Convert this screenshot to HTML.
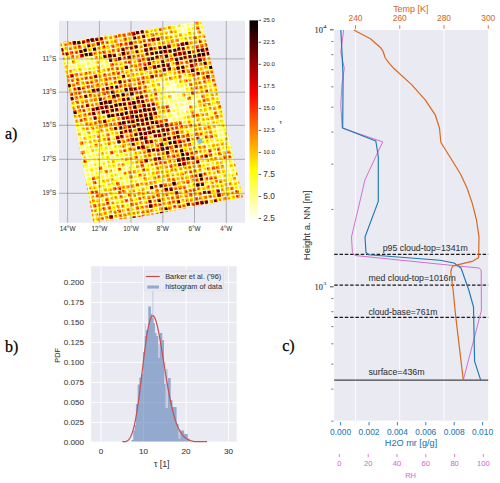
<!DOCTYPE html>
<html><head><meta charset="utf-8"><style>
html,body{margin:0;padding:0;background:#fff;}
svg{display:block;}
</style></head><body>
<svg width="500" height="483" viewBox="0 0 500 483" font-family='"Liberation Sans", sans-serif'>
<rect width="500" height="483" fill="#fff"/>
<rect x="59.0" y="20.9" width="186" height="201.9" fill="#EAEAF2"/>
<defs><clipPath id="swc"><polygon points="60.1,42.5 201.6,20.9 243.0,197.6 180,209.3 165,212.4 133,218.0 101,221.2 93.5,222.9"/></clipPath><filter id="bl" x="-5%" y="-5%" width="110%" height="110%"><feGaussianBlur stdDeviation="0.5"/></filter></defs>
<g clip-path="url(#swc)"><polygon points="60.1,42.5 201.6,20.9 243.0,197.6 180,209.3 165,212.4 133,218.0 101,221.2 93.5,222.9" fill="#fffef6"/>
<g filter="url(#bl)">
<g transform="matrix(0.45406 -0.07281 0.09400 0.44600 58.0 43.4)">
<path fill="#ffffca" d="M271 1h8v8h-8zM275 1h2v2h-2zM275 3h2v2h-2zM271 11h8v8h-8zM277 13h2v2h-2zM276 11h2v2h-2zM276 17h2v2h-2zM271 12h2v2h-2zM12 41h2v2h-2zM41 41h8v8h-8zM221 121h8v8h-8zM221 127h2v2h-2zM224 126h2v2h-2zM211 131h8v8h-8zM212 136h2v2h-2zM216 132h2v2h-2zM221 131h8v8h-8zM223 134h2v2h-2zM227 132h2v2h-2zM223 137h2v2h-2zM231 141h8v8h-8zM236 146h2v2h-2zM241 141h8v8h-8zM245 145h2v2h-2zM221 151h8v8h-8zM211 171h8v8h-8zM215 175h2v2h-2zM217 171h2v2h-2zM216 177h2v2h-2zM212 176h2v2h-2zM241 171h8v8h-8zM244 173h2v2h-2zM231 181h8v8h-8zM234 187h2v2h-2zM232 184h2v2h-2zM241 181h8v8h-8zM245 185h2v2h-2zM243 187h2v2h-2zM246 185h2v2h-2zM243 183h2v2h-2zM211 191h8v8h-8zM201 201h8v8h-8zM203 206h2v2h-2zM43 285h2v2h-2z"/>
<path fill="#ffff95" d="M301 -9h8v8h-8zM311 -9h8v8h-8zM321 -9h8v8h-8zM324 -4h2v2h-2zM272 4h4v4h-4zM273 6h2v2h-2zM274 3h2v2h-2zM281 1h8v8h-8zM284 7h2v2h-2zM291 1h8v8h-8zM294 5h2v2h-2zM261 11h8v8h-8zM264 15h2v2h-2zM275 13h4v4h-4zM311 21h8v8h-8zM11 41h8v8h-8zM31 41h8v8h-8zM42 41h4v4h-4zM42 43h2v2h-2zM45 45h2v2h-2zM44 44h2v2h-2zM42 44h2v2h-2zM51 41h8v8h-8zM56 41h2v2h-2zM53 46h2v2h-2zM11 51h8v8h-8zM11 57h2v2h-2zM12 57h2v2h-2zM21 51h8v8h-8zM24 52h2v2h-2zM41 51h8v8h-8zM43 51h2v2h-2zM51 51h8v8h-8zM61 51h8v8h-8zM62 55h2v2h-2zM81 51h8v8h-8zM41 61h8v8h-8zM81 61h8v8h-8zM91 61h8v8h-8zM93 66h2v2h-2zM201 121h8v8h-8zM207 121h2v2h-2zM225 122h4v4h-4zM226 123h2v2h-2zM231 121h8v8h-8zM211 134h4v4h-4zM211 135h2v2h-2zM211 132h2v2h-2zM222 132h4v4h-4zM231 131h8v8h-8zM201 141h8v8h-8zM211 141h8v8h-8zM221 141h8v8h-8zM231 145h4v4h-4zM231 147h2v2h-2zM242 144h4v4h-4zM244 144h2v2h-2zM246 145h2v2h-2zM225 152h4v4h-4zM226 153h2v2h-2zM227 153h2v2h-2zM227 151h2v2h-2zM231 151h8v8h-8zM237 154h2v2h-2zM201 161h8v8h-8zM201 167h2v2h-2zM211 161h8v8h-8zM221 161h8v8h-8zM224 161h2v2h-2zM231 161h8v8h-8zM237 166h2v2h-2zM232 161h2v2h-2zM241 161h8v8h-8zM242 162h2v2h-2zM243 161h2v2h-2zM261 161h8v8h-8zM266 161h2v2h-2zM271 161h8v8h-8zM215 174h4v4h-4zM221 171h8v8h-8zM231 171h8v8h-8zM245 175h4v4h-4zM245 175h2v2h-2zM246 174h2v2h-2zM247 171h2v2h-2zM251 171h8v8h-8zM261 171h8v8h-8zM262 173h2v2h-2zM211 181h8v8h-8zM221 181h8v8h-8zM221 187h2v2h-2zM226 181h2v2h-2zM232 185h4v4h-4zM245 183h4v4h-4zM-9 191h8v8h-8zM-8 197h2v2h-2zM211 194h5v5h-5zM213 194h2v2h-2zM214 197h2v2h-2zM217 195h2v2h-2zM221 191h8v8h-8zM231 191h8v8h-8zM235 197h2v2h-2zM261 191h8v8h-8zM11 201h8v8h-8zM15 204h2v2h-2zM204 204h5v5h-5zM205 206h2v2h-2zM203 205h2v2h-2zM211 201h8v8h-8zM221 201h8v8h-8zM1 231h8v8h-8zM4 232h2v2h-2zM11 231h8v8h-8zM11 241h8v8h-8zM301 241h8v8h-8zM307 242h2v2h-2zM11 251h8v8h-8zM21 251h8v8h-8zM25 257h2v2h-2zM301 251h8v8h-8zM11 261h8v8h-8zM61 261h8v8h-8zM81 261h8v8h-8zM11 271h8v8h-8zM31 271h8v8h-8zM-9 281h8v8h-8zM1 281h8v8h-8zM41 281h8v8h-8zM1 291h8v8h-8zM6 295h2v2h-2zM5 297h2v2h-2zM11 291h8v8h-8zM14 294h2v2h-2zM61 291h8v8h-8zM81 291h8v8h-8zM83 291h2v2h-2zM101 291h8v8h-8zM321 291h8v8h-8zM41 301h8v8h-8zM71 301h8v8h-8zM81 321h8v8h-8zM301 321h8v8h-8zM301 331h8v8h-8zM305 336h2v2h-2zM321 351h8v8h-8zM325 357h2v2h-2z"/>
<path fill="#ffff60" d="M201 -9h8v8h-8zM261 -9h8v8h-8zM264 -5h2v2h-2zM281 -9h8v8h-8zM306 -5h2v2h-2zM311 -4h2v2h-2zM323 -6h5v5h-5zM326 -3h2v2h-2zM251 1h8v8h-8zM261 1h8v8h-8zM283 2h5v5h-5zM285 2h2v2h-2zM292 4h5v5h-5zM294 3h2v2h-2zM311 1h8v8h-8zM321 1h8v8h-8zM161 11h8v8h-8zM181 11h8v8h-8zM263 11h5v5h-5zM265 12h2v2h-2zM281 11h8v8h-8zM291 11h8v8h-8zM311 11h8v8h-8zM271 21h8v8h-8zM291 21h8v8h-8zM312 24h5v5h-5zM315 26h2v2h-2zM261 31h8v8h-8zM-9 41h8v8h-8zM1 41h8v8h-8zM12 44h5v5h-5zM13 45h2v2h-2zM54 41h5v5h-5zM54 44h2v2h-2zM56 41h2v2h-2zM61 41h8v8h-8zM261 41h8v8h-8zM13 53h5v5h-5zM14 56h2v2h-2zM16 55h2v2h-2zM21 52h5v5h-5zM24 52h2v2h-2zM31 51h8v8h-8zM41 54h5v5h-5zM46 57h2v2h-2zM45 53h2v2h-2zM57 55h2v2h-2zM64 53h5v5h-5zM65 53h2v2h-2zM62 51h2v2h-2zM83 54h2v2h-2zM91 51h8v8h-8zM91 57h2v2h-2zM21 61h8v8h-8zM44 62h5v5h-5zM46 66h2v2h-2zM51 61h8v8h-8zM61 61h8v8h-8zM64 66h2v2h-2zM92 63h5v5h-5zM92 63h2v2h-2zM95 67h2v2h-2zM271 81h8v8h-8zM221 101h8v8h-8zM191 111h8v8h-8zM201 111h8v8h-8zM251 111h8v8h-8zM31 121h8v8h-8zM171 121h8v8h-8zM202 123h5v5h-5zM204 125h2v2h-2zM203 122h2v2h-2zM211 121h8v8h-8zM211 127h2v2h-2zM214 122h2v2h-2zM234 127h2v2h-2zM191 131h8v8h-8zM196 136h2v2h-2zM201 131h8v8h-8zM202 132h2v2h-2zM236 133h2v2h-2zM236 137h2v2h-2zM241 131h8v8h-8zM243 136h2v2h-2zM251 131h8v8h-8zM321 131h8v8h-8zM191 141h8v8h-8zM202 144h5v5h-5zM203 144h2v2h-2zM206 141h2v2h-2zM212 144h5v5h-5zM211 144h2v2h-2zM213 147h2v2h-2zM221 143h5v5h-5zM224 142h2v2h-2zM251 141h8v8h-8zM301 141h8v8h-8zM91 151h8v8h-8zM191 151h8v8h-8zM201 151h8v8h-8zM231 152h5v5h-5zM231 155h2v2h-2zM251 151h8v8h-8zM151 161h8v8h-8zM191 161h8v8h-8zM194 167h2v2h-2zM201 163h5v5h-5zM202 164h2v2h-2zM204 165h2v2h-2zM211 161h5v5h-5zM217 166h2v2h-2zM211 162h2v2h-2zM221 162h5v5h-5zM222 162h2v2h-2zM221 161h2v2h-2zM225 167h2v2h-2zM231 161h5v5h-5zM234 161h2v2h-2zM236 166h2v2h-2zM242 161h5v5h-5zM243 163h2v2h-2zM241 161h2v2h-2zM262 162h5v5h-5zM261 166h2v2h-2zM263 166h2v2h-2zM277 161h2v2h-2zM321 161h8v8h-8zM232 172h5v5h-5zM234 171h2v2h-2zM234 173h2v2h-2zM251 171h5v5h-5zM254 174h2v2h-2zM251 175h2v2h-2zM262 174h5v5h-5zM262 174h2v2h-2zM1 181h8v8h-8zM11 181h8v8h-8zM212 185h2v2h-2zM215 183h2v2h-2zM222 183h5v5h-5zM223 185h2v2h-2zM261 181h8v8h-8zM301 181h8v8h-8zM321 181h8v8h-8zM-9 193h5v5h-5zM-3 192h2v2h-2zM1 191h8v8h-8zM1 195h2v2h-2zM4 194h2v2h-2zM101 191h8v8h-8zM191 191h8v8h-8zM201 191h8v8h-8zM221 193h2v2h-2zM223 194h2v2h-2zM232 191h5v5h-5zM231 191h2v2h-2zM234 192h2v2h-2zM241 191h8v8h-8zM263 193h5v5h-5zM264 192h2v2h-2zM266 193h2v2h-2zM321 191h8v8h-8zM-9 201h8v8h-8zM14 203h5v5h-5zM31 201h8v8h-8zM211 201h5v5h-5zM213 202h2v2h-2zM222 203h5v5h-5zM223 203h2v2h-2zM231 201h8v8h-8zM291 201h8v8h-8zM293 207h2v2h-2zM1 211h8v8h-8zM51 211h8v8h-8zM231 211h8v8h-8zM251 211h8v8h-8zM253 213h2v2h-2zM321 211h8v8h-8zM11 221h8v8h-8zM271 221h8v8h-8zM274 226h2v2h-2zM301 221h8v8h-8zM1 231h5v5h-5zM12 234h5v5h-5zM13 236h2v2h-2zM13 231h2v2h-2zM14 231h2v2h-2zM51 231h8v8h-8zM241 231h8v8h-8zM246 234h2v2h-2zM301 231h8v8h-8zM31 241h8v8h-8zM41 241h8v8h-8zM61 241h8v8h-8zM71 241h8v8h-8zM291 241h8v8h-8zM304 241h5v5h-5zM311 241h8v8h-8zM313 247h2v2h-2zM-9 251h8v8h-8zM-8 251h2v2h-2zM1 251h8v8h-8zM17 253h2v2h-2zM17 256h2v2h-2zM24 252h5v5h-5zM31 251h8v8h-8zM51 251h8v8h-8zM71 251h8v8h-8zM261 251h8v8h-8zM304 253h5v5h-5zM306 257h2v2h-2zM311 251h8v8h-8zM-9 261h8v8h-8zM13 263h2v2h-2zM21 261h8v8h-8zM31 261h8v8h-8zM41 261h8v8h-8zM64 263h5v5h-5zM71 261h8v8h-8zM101 261h8v8h-8zM251 261h8v8h-8zM281 261h8v8h-8zM301 261h8v8h-8zM321 261h8v8h-8zM1 271h8v8h-8zM3 277h2v2h-2zM13 272h5v5h-5zM16 274h2v2h-2zM13 272h2v2h-2zM21 271h8v8h-8zM37 276h2v2h-2zM41 271h8v8h-8zM51 271h8v8h-8zM71 271h8v8h-8zM74 272h2v2h-2zM74 277h2v2h-2zM121 271h8v8h-8zM311 271h8v8h-8zM321 271h8v8h-8zM-9 287h2v2h-2zM2 283h5v5h-5zM2 281h2v2h-2zM21 281h8v8h-8zM23 284h2v2h-2zM43 282h5v5h-5zM43 283h2v2h-2zM46 285h2v2h-2zM91 281h8v8h-8zM95 285h2v2h-2zM301 281h8v8h-8zM2 294h5v5h-5zM3 295h2v2h-2zM5 297h2v2h-2zM12 293h5v5h-5zM21 291h8v8h-8zM22 291h2v2h-2zM31 291h8v8h-8zM91 291h8v8h-8zM102 291h2v2h-2zM131 291h8v8h-8zM281 291h8v8h-8zM321 294h5v5h-5zM327 292h2v2h-2zM1 301h8v8h-8zM6 304h2v2h-2zM2 303h2v2h-2zM31 301h8v8h-8zM32 306h2v2h-2zM41 301h5v5h-5zM44 302h2v2h-2zM44 307h2v2h-2zM61 301h8v8h-8zM73 302h2v2h-2zM77 303h2v2h-2zM72 305h2v2h-2zM141 301h8v8h-8zM321 301h8v8h-8zM1 311h8v8h-8zM21 311h8v8h-8zM61 311h8v8h-8zM64 316h2v2h-2zM62 314h2v2h-2zM63 315h2v2h-2zM81 311h8v8h-8zM101 311h8v8h-8zM131 311h8v8h-8zM261 311h8v8h-8zM271 311h8v8h-8zM301 311h8v8h-8zM307 316h2v2h-2zM311 311h8v8h-8zM31 321h8v8h-8zM71 321h8v8h-8zM82 327h2v2h-2zM91 321h8v8h-8zM101 321h8v8h-8zM111 321h8v8h-8zM251 321h8v8h-8zM302 321h5v5h-5zM302 325h2v2h-2zM303 323h2v2h-2zM-9 331h8v8h-8zM21 331h8v8h-8zM151 331h8v8h-8zM161 331h8v8h-8zM302 334h5v5h-5zM303 337h2v2h-2zM311 331h8v8h-8zM321 331h8v8h-8zM-9 341h8v8h-8zM51 341h8v8h-8zM51 342h2v2h-2zM81 341h8v8h-8zM101 341h8v8h-8zM121 341h8v8h-8zM281 341h8v8h-8zM301 341h8v8h-8zM311 341h8v8h-8zM21 351h8v8h-8zM71 351h8v8h-8zM251 351h8v8h-8zM301 351h8v8h-8zM324 355h2v2h-2zM71 371h8v8h-8zM71 377h2v2h-2zM241 371h8v8h-8zM311 371h8v8h-8zM321 381h8v8h-8zM323 383h2v2h-2zM41 401h8v8h-8zM71 401h8v8h-8zM251 401h8v8h-8zM321 401h8v8h-8z"/>
<path fill="#ffff2c" d="M11 -9h8v8h-8zM111 -9h8v8h-8zM141 -9h8v8h-8zM171 -9h8v8h-8zM211 -9h8v8h-8zM241 -9h8v8h-8zM263 -8h5v5h-5zM261 -6h2v2h-2zM263 -8h2v2h-2zM281 -6h5v5h-5zM282 -3h2v2h-2zM281 -4h2v2h-2zM303 -9h5v5h-5zM306 -4h2v2h-2zM313 -7h5v5h-5zM315 -7h3v3h-3zM314 -3h2v2h-2zM316 -8h2v2h-2zM31 1h8v8h-8zM41 1h8v8h-8zM51 1h8v8h-8zM61 1h8v8h-8zM71 1h8v8h-8zM91 1h8v8h-8zM171 1h8v8h-8zM201 1h8v8h-8zM204 7h2v2h-2zM211 1h8v8h-8zM293 5h2v2h-2zM313 7h2v2h-2zM324 6h2v2h-2zM1 11h8v8h-8zM221 11h8v8h-8zM231 11h8v8h-8zM283 12h5v5h-5zM292 11h5v5h-5zM295 12h2v2h-2zM314 13h5v5h-5zM11 21h8v8h-8zM41 21h8v8h-8zM51 21h8v8h-8zM71 21h8v8h-8zM151 21h8v8h-8zM201 21h8v8h-8zM211 21h8v8h-8zM251 21h8v8h-8zM271 22h2v2h-2zM281 21h8v8h-8zM314 25h3v3h-3zM11 31h8v8h-8zM41 31h8v8h-8zM61 31h8v8h-8zM181 31h8v8h-8zM264 37h2v2h-2zM266 34h2v2h-2zM271 31h8v8h-8zM275 31h2v2h-2zM301 31h8v8h-8zM-6 42h5v5h-5zM6 45h2v2h-2zM3 44h2v2h-2zM32 44h5v5h-5zM32 45h3v3h-3zM35 43h2v2h-2zM36 43h2v2h-2zM62 45h2v2h-2zM64 43h2v2h-2zM221 41h8v8h-8zM311 41h8v8h-8zM-9 51h8v8h-8zM1 51h8v8h-8zM32 54h5v5h-5zM32 51h2v2h-2zM41 56h3v3h-3zM53 51h5v5h-5zM54 53h3v3h-3zM55 55h2v2h-2zM82 51h5v5h-5zM82 52h3v3h-3zM82 54h2v2h-2zM94 53h5v5h-5zM94 55h2v2h-2zM121 51h8v8h-8zM141 51h8v8h-8zM201 51h8v8h-8zM241 51h8v8h-8zM251 51h8v8h-8zM261 51h8v8h-8zM-9 61h8v8h-8zM1 61h8v8h-8zM23 67h2v2h-2zM31 61h8v8h-8zM45 62h3v3h-3zM62 64h5v5h-5zM64 67h2v2h-2zM82 62h5v5h-5zM82 62h2v2h-2zM151 61h8v8h-8zM191 61h8v8h-8zM201 61h8v8h-8zM291 61h8v8h-8zM61 71h8v8h-8zM211 71h8v8h-8zM271 71h8v8h-8zM171 81h8v8h-8zM201 81h8v8h-8zM241 81h8v8h-8zM321 81h8v8h-8zM171 91h8v8h-8zM301 91h8v8h-8zM21 101h8v8h-8zM71 101h8v8h-8zM111 101h8v8h-8zM251 101h8v8h-8zM311 101h8v8h-8zM61 111h8v8h-8zM91 111h8v8h-8zM101 111h8v8h-8zM181 111h8v8h-8zM184 113h2v2h-2zM197 116h2v2h-2zM196 113h2v2h-2zM205 117h2v2h-2zM211 111h8v8h-8zM257 111h2v2h-2zM321 111h8v8h-8zM121 121h8v8h-8zM175 127h2v2h-2zM181 121h8v8h-8zM211 123h5v5h-5zM231 121h5v5h-5zM232 127h2v2h-2zM261 121h8v8h-8zM271 121h8v8h-8zM281 121h8v8h-8zM61 131h8v8h-8zM131 131h8v8h-8zM171 131h8v8h-8zM171 131h2v2h-2zM181 131h8v8h-8zM192 134h5v5h-5zM201 131h5v5h-5zM202 131h2v2h-2zM207 136h2v2h-2zM234 131h5v5h-5zM241 131h5v5h-5zM253 131h5v5h-5zM253 137h2v2h-2zM252 132h2v2h-2zM61 141h8v8h-8zM71 141h8v8h-8zM171 141h8v8h-8zM213 145h3v3h-3zM221 143h3v3h-3zM256 143h2v2h-2zM257 147h2v2h-2zM252 146h2v2h-2zM51 151h8v8h-8zM81 151h8v8h-8zM121 151h8v8h-8zM131 151h8v8h-8zM141 151h8v8h-8zM201 151h5v5h-5zM203 157h2v2h-2zM254 152h5v5h-5zM271 151h8v8h-8zM301 151h8v8h-8zM41 161h8v8h-8zM71 161h8v8h-8zM111 161h8v8h-8zM131 161h8v8h-8zM161 161h8v8h-8zM171 161h8v8h-8zM193 162h5v5h-5zM191 161h2v2h-2zM195 162h2v2h-2zM212 163h2v2h-2zM262 162h3v3h-3zM271 161h5v5h-5zM291 161h8v8h-8zM293 164h2v2h-2zM324 164h5v5h-5zM322 163h2v2h-2zM41 171h8v8h-8zM101 171h8v8h-8zM141 171h8v8h-8zM222 172h5v5h-5zM223 174h3v3h-3zM226 175h2v2h-2zM222 172h2v2h-2zM223 174h2v2h-2zM232 173h3v3h-3zM237 176h2v2h-2zM311 171h8v8h-8zM131 181h8v8h-8zM181 181h8v8h-8zM214 184h5v5h-5zM214 186h2v2h-2zM271 181h8v8h-8zM-7 193h2v2h-2zM1 192h5v5h-5zM4 191h2v2h-2zM11 191h8v8h-8zM41 191h8v8h-8zM141 191h8v8h-8zM151 191h8v8h-8zM191 196h2v2h-2zM204 193h5v5h-5zM204 191h2v2h-2zM222 191h5v5h-5zM224 191h3v3h-3zM224 196h2v2h-2zM232 193h2v2h-2zM243 191h5v5h-5zM241 194h2v2h-2zM263 196h2v2h-2zM271 191h8v8h-8zM281 191h8v8h-8zM14 205h3v3h-3zM21 201h8v8h-8zM33 201h5v5h-5zM33 206h2v2h-2zM37 201h2v2h-2zM41 201h8v8h-8zM111 201h8v8h-8zM151 201h8v8h-8zM161 201h8v8h-8zM211 202h3v3h-3zM212 203h2v2h-2zM211 205h2v2h-2zM223 203h3v3h-3zM221 207h2v2h-2zM294 201h5v5h-5zM311 201h8v8h-8zM-9 211h8v8h-8zM4 211h5v5h-5zM4 211h2v2h-2zM11 211h8v8h-8zM21 211h8v8h-8zM23 212h2v2h-2zM31 211h8v8h-8zM71 211h8v8h-8zM101 211h8v8h-8zM131 211h8v8h-8zM141 211h8v8h-8zM171 211h8v8h-8zM251 214h5v5h-5zM256 212h2v2h-2zM261 211h8v8h-8zM271 211h8v8h-8zM281 211h8v8h-8zM311 211h8v8h-8zM326 211h2v2h-2zM21 221h8v8h-8zM21 225h2v2h-2zM31 221h8v8h-8zM71 221h8v8h-8zM151 221h8v8h-8zM273 223h5v5h-5zM281 221h8v8h-8zM285 222h2v2h-2zM311 221h8v8h-8zM321 221h8v8h-8zM1 233h2v2h-2zM13 235h3v3h-3zM21 231h8v8h-8zM26 232h2v2h-2zM41 231h8v8h-8zM71 231h8v8h-8zM81 231h8v8h-8zM111 231h8v8h-8zM121 231h8v8h-8zM161 231h8v8h-8zM171 231h8v8h-8zM211 231h8v8h-8zM231 231h8v8h-8zM242 231h5v5h-5zM247 237h2v2h-2zM251 231h8v8h-8zM291 231h8v8h-8zM304 231h5v5h-5zM304 232h2v2h-2zM305 236h2v2h-2zM305 233h2v2h-2zM311 231h8v8h-8zM11 243h5v5h-5zM12 243h3v3h-3zM15 246h2v2h-2zM21 241h8v8h-8zM44 241h5v5h-5zM41 247h2v2h-2zM42 241h2v2h-2zM51 241h8v8h-8zM62 243h5v5h-5zM61 243h2v2h-2zM75 245h2v2h-2zM73 243h2v2h-2zM81 241h8v8h-8zM101 241h8v8h-8zM111 241h8v8h-8zM141 241h8v8h-8zM201 241h8v8h-8zM241 241h8v8h-8zM292 242h5v5h-5zM291 243h2v2h-2zM305 243h3v3h-3zM306 243h2v2h-2zM307 244h2v2h-2zM314 243h5v5h-5zM321 241h8v8h-8zM-6 253h5v5h-5zM-8 257h2v2h-2zM14 253h5v5h-5zM16 253h3v3h-3zM24 254h3v3h-3zM24 253h2v2h-2zM32 253h5v5h-5zM33 255h2v2h-2zM41 251h8v8h-8zM71 254h2v2h-2zM171 251h8v8h-8zM211 251h8v8h-8zM264 254h5v5h-5zM263 255h2v2h-2zM306 255h3v3h-3zM313 257h2v2h-2zM-6 265h2v2h-2zM-3 266h2v2h-2zM12 263h5v5h-5zM16 263h2v2h-2zM23 261h5v5h-5zM26 266h2v2h-2zM42 261h5v5h-5zM47 262h2v2h-2zM51 261h8v8h-8zM65 264h3v3h-3zM63 266h2v2h-2zM63 264h2v2h-2zM77 263h2v2h-2zM82 262h5v5h-5zM82 267h2v2h-2zM91 261h8v8h-8zM105 264h2v2h-2zM111 261h8v8h-8zM151 261h8v8h-8zM241 261h8v8h-8zM255 264h2v2h-2zM261 261h8v8h-8zM271 261h8v8h-8zM283 264h5v5h-5zM282 263h2v2h-2zM291 261h8v8h-8zM311 261h8v8h-8zM322 261h5v5h-5zM326 262h2v2h-2zM1 273h5v5h-5zM31 273h5v5h-5zM31 275h3v3h-3zM56 272h2v2h-2zM71 271h5v5h-5zM71 276h2v2h-2zM81 271h8v8h-8zM241 271h8v8h-8zM271 271h8v8h-8zM291 271h8v8h-8zM322 273h5v5h-5zM-9 284h5v5h-5zM-9 281h2v2h-2zM-5 282h2v2h-2zM3 284h3v3h-3zM4 287h2v2h-2zM11 281h8v8h-8zM22 282h5v5h-5zM51 281h8v8h-8zM61 281h8v8h-8zM71 281h8v8h-8zM71 282h2v2h-2zM94 281h5v5h-5zM101 281h8v8h-8zM161 281h8v8h-8zM211 281h8v8h-8zM261 281h8v8h-8zM281 281h8v8h-8zM311 281h8v8h-8zM321 281h8v8h-8zM-9 291h8v8h-8zM13 295h3v3h-3zM14 297h2v2h-2zM11 294h2v2h-2zM21 293h5v5h-5zM51 291h8v8h-8zM62 291h5v5h-5zM62 293h3v3h-3zM62 296h2v2h-2zM62 291h2v2h-2zM82 293h5v5h-5zM82 293h3v3h-3zM94 292h5v5h-5zM92 291h2v2h-2zM104 293h5v5h-5zM104 295h3v3h-3zM103 295h2v2h-2zM111 291h8v8h-8zM321 296h3v3h-3zM325 292h2v2h-2zM-9 301h8v8h-8zM4 302h5v5h-5zM4 304h2v2h-2zM21 301h8v8h-8zM31 304h5v5h-5zM35 304h2v2h-2zM33 301h2v2h-2zM51 301h8v8h-8zM63 303h2v2h-2zM71 301h5v5h-5zM73 302h3v3h-3zM111 301h8v8h-8zM147 304h2v2h-2zM143 301h2v2h-2zM251 301h8v8h-8zM291 301h8v8h-8zM326 304h2v2h-2zM1 314h5v5h-5zM4 317h2v2h-2zM3 316h2v2h-2zM23 311h5v5h-5zM24 316h2v2h-2zM41 311h8v8h-8zM61 314h5v5h-5zM71 311h8v8h-8zM84 313h5v5h-5zM86 316h2v2h-2zM82 317h2v2h-2zM107 313h2v2h-2zM251 311h8v8h-8zM272 316h2v2h-2zM281 311h8v8h-8zM291 311h8v8h-8zM301 312h5v5h-5zM312 312h2v2h-2zM321 311h8v8h-8zM324 317h2v2h-2zM11 321h8v8h-8zM21 321h8v8h-8zM33 324h2v2h-2zM41 321h8v8h-8zM51 321h8v8h-8zM51 321h2v2h-2zM72 324h5v5h-5zM75 324h2v2h-2zM72 323h2v2h-2zM82 321h5v5h-5zM82 321h3v3h-3zM111 321h5v5h-5zM115 326h2v2h-2zM112 324h2v2h-2zM131 321h8v8h-8zM133 322h2v2h-2zM161 321h8v8h-8zM191 321h8v8h-8zM305 324h2v2h-2zM311 321h8v8h-8zM24 332h5v5h-5zM41 331h8v8h-8zM111 331h8v8h-8zM167 337h2v2h-2zM167 331h2v2h-2zM261 331h8v8h-8zM271 331h8v8h-8zM291 331h8v8h-8zM297 337h2v2h-2zM314 334h5v5h-5zM322 333h5v5h-5zM324 332h2v2h-2zM-9 343h2v2h-2zM1 341h8v8h-8zM41 341h8v8h-8zM53 343h5v5h-5zM111 341h8v8h-8zM131 341h8v8h-8zM151 341h8v8h-8zM282 343h5v5h-5zM282 344h2v2h-2zM291 341h8v8h-8zM303 343h5v5h-5zM302 341h2v2h-2zM305 344h2v2h-2zM311 347h2v2h-2zM41 351h8v8h-8zM77 352h2v2h-2zM131 351h8v8h-8zM211 351h8v8h-8zM212 355h2v2h-2zM231 351h8v8h-8zM241 351h8v8h-8zM291 351h8v8h-8zM304 354h5v5h-5zM306 353h2v2h-2zM324 353h5v5h-5zM326 354h3v3h-3zM322 357h2v2h-2zM51 361h8v8h-8zM61 361h8v8h-8zM91 361h8v8h-8zM191 361h8v8h-8zM281 361h8v8h-8zM291 361h8v8h-8zM311 361h8v8h-8zM321 361h8v8h-8zM11 371h8v8h-8zM41 371h8v8h-8zM73 377h2v2h-2zM271 371h8v8h-8zM1 381h8v8h-8zM61 381h8v8h-8zM81 381h8v8h-8zM326 387h2v2h-2zM131 391h8v8h-8zM136 396h2v2h-2zM137 395h2v2h-2zM201 391h8v8h-8zM231 391h8v8h-8zM41 401h2v2h-2zM72 401h2v2h-2zM151 401h8v8h-8zM211 401h8v8h-8zM221 401h8v8h-8zM322 403h2v2h-2z"/>
<path fill="#fff900" d="M-9 -9h8v8h-8zM1 -9h8v8h-8zM21 -9h8v8h-8zM41 -9h8v8h-8zM41 -9h2v2h-2zM131 -9h8v8h-8zM151 -9h8v8h-8zM221 -9h8v8h-8zM241 -9h2v2h-2zM264 -7h3v3h-3zM282 -4h3v3h-3zM282 -5h2v2h-2zM303 -8h3v3h-3zM-9 1h8v8h-8zM1 1h8v8h-8zM81 1h8v8h-8zM111 1h8v8h-8zM191 1h8v8h-8zM201 2h6v6h-6zM217 3h2v2h-2zM231 1h8v8h-8zM234 6h2v2h-2zM251 4h5v5h-5zM251 2h2v2h-2zM264 1h5v5h-5zM267 3h2v2h-2zM265 4h2v2h-2zM311 2h5v5h-5zM314 5h2v2h-2zM324 1h5v5h-5zM-9 11h8v8h-8zM11 11h8v8h-8zM51 11h8v8h-8zM111 11h8v8h-8zM131 11h8v8h-8zM151 11h8v8h-8zM191 11h8v8h-8zM211 11h8v8h-8zM222 14h2v2h-2zM235 16h2v2h-2zM241 11h8v8h-8zM251 11h8v8h-8zM284 12h3v3h-3zM284 17h2v2h-2zM287 11h2v2h-2zM281 17h2v2h-2zM296 15h2v2h-2zM297 11h2v2h-2zM315 15h3v3h-3zM311 11h2v2h-2zM315 13h2v2h-2zM-9 21h8v8h-8zM61 21h8v8h-8zM81 21h8v8h-8zM101 21h8v8h-8zM221 21h8v8h-8zM241 21h8v8h-8zM253 26h2v2h-2zM261 21h8v8h-8zM274 24h5v5h-5zM274 27h2v2h-2zM273 23h2v2h-2zM292 23h5v5h-5zM291 27h2v2h-2zM296 24h2v2h-2zM296 24h2v2h-2zM1 31h8v8h-8zM31 31h8v8h-8zM37 33h2v2h-2zM51 31h8v8h-8zM81 31h8v8h-8zM101 31h8v8h-8zM151 31h8v8h-8zM161 31h8v8h-8zM171 31h8v8h-8zM201 31h8v8h-8zM211 31h8v8h-8zM216 36h2v2h-2zM221 31h8v8h-8zM231 31h8v8h-8zM264 31h5v5h-5zM261 32h2v2h-2zM281 31h8v8h-8zM-9 45h2v2h-2zM1 43h5v5h-5zM5 44h2v2h-2zM62 42h5v5h-5zM64 44h2v2h-2zM71 41h8v8h-8zM81 41h8v8h-8zM91 41h8v8h-8zM101 41h8v8h-8zM111 41h8v8h-8zM121 41h8v8h-8zM151 41h8v8h-8zM161 41h8v8h-8zM171 41h8v8h-8zM211 41h8v8h-8zM241 41h8v8h-8zM291 41h8v8h-8zM313 42h2v2h-2zM33 55h3v3h-3zM71 51h8v8h-8zM94 54h3v3h-3zM94 57h2v2h-2zM181 51h8v8h-8zM191 51h8v8h-8zM211 51h8v8h-8zM281 51h8v8h-8zM11 61h8v8h-8zM21 61h5v5h-5zM24 63h2v2h-2zM31 66h2v2h-2zM53 63h5v5h-5zM57 63h2v2h-2zM52 66h2v2h-2zM71 61h8v8h-8zM82 63h3v3h-3zM111 61h8v8h-8zM121 61h8v8h-8zM155 62h2v2h-2zM231 61h8v8h-8zM241 61h8v8h-8zM251 61h8v8h-8zM-9 71h8v8h-8zM1 71h8v8h-8zM41 71h8v8h-8zM61 71h2v2h-2zM66 75h2v2h-2zM61 72h2v2h-2zM71 71h8v8h-8zM81 71h8v8h-8zM91 71h8v8h-8zM101 71h8v8h-8zM121 71h8v8h-8zM125 74h2v2h-2zM141 71h8v8h-8zM201 71h8v8h-8zM241 71h8v8h-8zM251 71h8v8h-8zM281 71h8v8h-8zM291 71h8v8h-8zM301 71h8v8h-8zM321 71h8v8h-8zM327 77h2v2h-2zM-9 81h8v8h-8zM1 81h8v8h-8zM11 81h8v8h-8zM31 81h8v8h-8zM71 81h8v8h-8zM91 81h8v8h-8zM121 81h8v8h-8zM131 81h8v8h-8zM141 81h8v8h-8zM151 81h8v8h-8zM211 81h8v8h-8zM231 81h8v8h-8zM281 81h8v8h-8zM311 81h8v8h-8zM1 91h8v8h-8zM31 91h8v8h-8zM71 91h8v8h-8zM111 91h8v8h-8zM121 91h8v8h-8zM131 91h8v8h-8zM141 91h8v8h-8zM151 91h8v8h-8zM161 91h8v8h-8zM174 91h5v5h-5zM177 92h2v2h-2zM176 94h2v2h-2zM181 91h8v8h-8zM182 96h2v2h-2zM201 91h8v8h-8zM211 91h8v8h-8zM231 91h8v8h-8zM235 95h2v2h-2zM251 91h8v8h-8zM261 91h8v8h-8zM264 97h2v2h-2zM271 91h8v8h-8zM291 91h8v8h-8zM1 101h8v8h-8zM91 101h8v8h-8zM101 101h8v8h-8zM171 101h8v8h-8zM211 101h8v8h-8zM224 101h5v5h-5zM224 106h2v2h-2zM221 104h2v2h-2zM231 101h8v8h-8zM291 101h8v8h-8zM301 101h8v8h-8zM-9 111h8v8h-8zM31 111h8v8h-8zM41 111h8v8h-8zM141 111h8v8h-8zM171 111h8v8h-8zM182 113h6v6h-6zM191 112h5v5h-5zM204 114h5v5h-5zM231 111h8v8h-8zM254 111h5v5h-5zM256 116h2v2h-2zM261 111h8v8h-8zM281 111h8v8h-8zM322 111h5v5h-5zM325 115h2v2h-2zM321 116h2v2h-2zM-9 121h8v8h-8zM51 121h8v8h-8zM91 121h8v8h-8zM101 121h8v8h-8zM111 121h8v8h-8zM131 121h8v8h-8zM171 124h5v5h-5zM191 121h8v8h-8zM212 125h3v3h-3zM217 126h2v2h-2zM233 121h3v3h-3zM236 122h2v2h-2zM241 121h8v8h-8zM301 121h8v8h-8zM321 121h8v8h-8zM1 131h8v8h-8zM21 131h8v8h-8zM91 131h8v8h-8zM101 131h8v8h-8zM111 131h8v8h-8zM171 131h6v6h-6zM192 135h3v3h-3zM235 131h3v3h-3zM237 137h2v2h-2zM243 131h3v3h-3zM245 135h2v2h-2zM271 131h8v8h-8zM281 131h8v8h-8zM301 131h8v8h-8zM323 132h5v5h-5zM321 131h2v2h-2zM-9 141h8v8h-8zM1 141h8v8h-8zM41 141h8v8h-8zM51 141h8v8h-8zM111 141h8v8h-8zM131 141h8v8h-8zM194 143h5v5h-5zM194 146h2v2h-2zM252 141h5v5h-5zM261 141h8v8h-8zM291 141h8v8h-8zM302 143h5v5h-5zM305 141h2v2h-2zM31 151h8v8h-8zM35 157h2v2h-2zM71 151h8v8h-8zM111 151h8v8h-8zM151 151h8v8h-8zM192 153h5v5h-5zM197 155h2v2h-2zM201 152h3v3h-3zM211 151h8v8h-8zM241 151h8v8h-8zM252 156h2v2h-2zM252 154h2v2h-2zM281 151h8v8h-8zM311 151h8v8h-8zM1 161h8v8h-8zM61 161h8v8h-8zM181 161h8v8h-8zM195 163h3v3h-3zM271 162h3v3h-3zM292 162h5v5h-5zM301 161h8v8h-8zM311 161h8v8h-8zM324 166h3v3h-3zM323 165h2v2h-2zM-9 171h8v8h-8zM1 171h8v8h-8zM31 171h8v8h-8zM51 171h8v8h-8zM61 171h8v8h-8zM111 171h8v8h-8zM121 171h8v8h-8zM151 171h8v8h-8zM271 171h8v8h-8zM291 171h8v8h-8zM301 171h8v8h-8zM313 172h6v6h-6zM311 174h2v2h-2zM321 171h8v8h-8zM2 182h5v5h-5zM1 181h2v2h-2zM4 187h2v2h-2zM11 181h5v5h-5zM15 183h2v2h-2zM16 186h2v2h-2zM31 181h8v8h-8zM71 181h8v8h-8zM74 187h2v2h-2zM81 181h8v8h-8zM111 181h8v8h-8zM141 181h8v8h-8zM182 184h2v2h-2zM191 181h8v8h-8zM216 185h3v3h-3zM262 182h5v5h-5zM263 183h2v2h-2zM272 184h2v2h-2zM275 181h2v2h-2zM291 181h8v8h-8zM301 182h5v5h-5zM311 181h8v8h-8zM322 183h5v5h-5zM326 184h2v2h-2zM1 193h3v3h-3zM21 191h8v8h-8zM31 191h8v8h-8zM41 197h2v2h-2zM45 195h2v2h-2zM91 191h8v8h-8zM111 191h8v8h-8zM121 191h8v8h-8zM131 191h8v8h-8zM161 191h8v8h-8zM171 191h8v8h-8zM181 191h8v8h-8zM192 194h5v5h-5zM193 195h2v2h-2zM206 195h3v3h-3zM204 191h2v2h-2zM244 194h2v2h-2zM272 196h2v2h-2zM284 193h2v2h-2zM291 191h8v8h-8zM301 191h8v8h-8zM322 191h5v5h-5zM-8 203h5v5h-5zM-9 204h2v2h-2zM1 201h8v8h-8zM25 206h2v2h-2zM34 201h3v3h-3zM32 207h2v2h-2zM46 201h2v2h-2zM51 201h8v8h-8zM61 201h8v8h-8zM71 201h8v8h-8zM81 201h8v8h-8zM121 201h8v8h-8zM141 201h8v8h-8zM171 201h8v8h-8zM234 203h5v5h-5zM234 203h2v2h-2zM235 205h2v2h-2zM234 202h2v2h-2zM241 201h8v8h-8zM245 205h2v2h-2zM271 201h8v8h-8zM281 201h8v8h-8zM281 201h2v2h-2zM296 203h3v3h-3zM314 202h2v2h-2zM321 201h8v8h-8zM-7 211h6v6h-6zM4 213h3v3h-3zM24 212h5v5h-5zM32 211h6v6h-6zM52 212h5v5h-5zM73 211h6v6h-6zM77 217h2v2h-2zM81 211h8v8h-8zM91 211h8v8h-8zM111 211h8v8h-8zM191 211h8v8h-8zM231 213h5v5h-5zM231 217h2v2h-2zM235 212h2v2h-2zM241 211h8v8h-8zM252 216h3v3h-3zM284 211h2v2h-2zM291 211h8v8h-8zM313 215h2v2h-2zM316 211h2v2h-2zM321 212h5v5h-5zM12 221h5v5h-5zM14 227h2v2h-2zM41 221h8v8h-8zM51 221h8v8h-8zM74 224h5v5h-5zM75 226h2v2h-2zM81 221h8v8h-8zM121 221h8v8h-8zM141 221h8v8h-8zM161 221h8v8h-8zM181 221h8v8h-8zM251 221h8v8h-8zM261 221h8v8h-8zM274 223h3v3h-3zM282 223h5v5h-5zM291 221h8v8h-8zM301 224h5v5h-5zM311 223h6v6h-6zM323 223h2v2h-2zM21 234h5v5h-5zM41 232h2v2h-2zM42 231h2v2h-2zM54 232h5v5h-5zM61 231h8v8h-8zM141 231h8v8h-8zM151 231h8v8h-8zM181 231h8v8h-8zM233 233h6v6h-6zM233 235h2v2h-2zM243 231h3v3h-3zM254 231h2v2h-2zM271 231h8v8h-8zM281 231h8v8h-8zM314 231h2v2h-2zM311 235h2v2h-2zM27 244h2v2h-2zM31 242h5v5h-5zM33 242h2v2h-2zM36 241h2v2h-2zM53 241h5v5h-5zM63 245h3v3h-3zM66 247h2v2h-2zM74 241h5v5h-5zM83 243h5v5h-5zM86 243h2v2h-2zM107 244h2v2h-2zM101 241h2v2h-2zM121 241h8v8h-8zM161 241h8v8h-8zM171 241h8v8h-8zM191 241h8v8h-8zM211 241h8v8h-8zM241 242h6v6h-6zM245 245h2v2h-2zM271 241h8v8h-8zM296 246h2v2h-2zM315 243h3v3h-3zM-6 254h3v3h-3zM4 254h5v5h-5zM2 255h2v2h-2zM32 255h2v2h-2zM31 255h2v2h-2zM52 252h5v5h-5zM51 251h2v2h-2zM71 251h5v5h-5zM76 251h2v2h-2zM81 251h8v8h-8zM121 251h8v8h-8zM131 251h8v8h-8zM151 251h8v8h-8zM181 251h8v8h-8zM183 257h2v2h-2zM191 251h8v8h-8zM231 251h8v8h-8zM241 251h8v8h-8zM261 257h2v2h-2zM266 253h2v2h-2zM291 251h8v8h-8zM314 251h5v5h-5zM315 256h2v2h-2zM-6 264h5v5h-5zM12 263h3v3h-3zM24 261h3v3h-3zM33 263h5v5h-5zM45 262h2v2h-2zM52 261h6v6h-6zM73 261h5v5h-5zM75 266h2v2h-2zM84 262h3v3h-3zM84 264h2v2h-2zM93 262h6v6h-6zM101 264h5v5h-5zM102 262h2v2h-2zM121 261h8v8h-8zM127 263h2v2h-2zM141 261h8v8h-8zM161 261h8v8h-8zM201 261h8v8h-8zM241 261h6v6h-6zM242 261h2v2h-2zM254 264h5v5h-5zM263 261h5v5h-5zM265 264h2v2h-2zM263 263h2v2h-2zM272 263h2v2h-2zM284 264h3v3h-3zM287 261h2v2h-2zM281 262h2v2h-2zM294 263h5v5h-5zM302 264h5v5h-5zM303 265h2v2h-2zM322 261h3v3h-3zM-9 271h8v8h-8zM1 273h3v3h-3zM22 273h5v5h-5zM24 277h2v2h-2zM23 274h2v2h-2zM41 274h5v5h-5zM44 275h2v2h-2zM52 272h5v5h-5zM54 276h2v2h-2zM61 271h8v8h-8zM71 271h3v3h-3zM83 271h5v5h-5zM81 274h2v2h-2zM91 271h8v8h-8zM101 271h8v8h-8zM124 274h5v5h-5zM131 271h8v8h-8zM151 271h8v8h-8zM211 271h8v8h-8zM221 271h8v8h-8zM231 271h8v8h-8zM251 271h8v8h-8zM261 271h8v8h-8zM273 273h5v5h-5zM276 276h2v2h-2zM281 271h8v8h-8zM296 272h2v2h-2zM301 271h8v8h-8zM311 274h5v5h-5zM314 277h2v2h-2zM325 273h2v2h-2zM-7 286h3v3h-3zM13 283h6v6h-6zM16 285h2v2h-2zM24 284h3v3h-3zM52 281h6v6h-6zM61 281h5v5h-5zM62 284h2v2h-2zM74 285h2v2h-2zM81 281h8v8h-8zM94 281h3v3h-3zM102 282h6v6h-6zM107 282h2v2h-2zM111 281h8v8h-8zM131 281h8v8h-8zM141 281h8v8h-8zM171 281h8v8h-8zM221 281h8v8h-8zM251 281h8v8h-8zM285 284h2v2h-2zM302 281h5v5h-5zM311 282h6v6h-6zM321 283h5v5h-5zM-5 294h2v2h-2zM-8 296h2v2h-2zM23 293h3v3h-3zM24 292h2v2h-2zM31 291h5v5h-5zM36 291h2v2h-2zM51 296h2v2h-2zM134 294h5v5h-5zM134 291h2v2h-2zM141 291h8v8h-8zM181 291h8v8h-8zM191 291h8v8h-8zM211 291h8v8h-8zM221 291h8v8h-8zM241 291h8v8h-8zM283 292h5v5h-5zM286 292h2v2h-2zM301 291h8v8h-8zM-4 305h2v2h-2zM6 303h3v3h-3zM26 307h2v2h-2zM33 304h3v3h-3zM53 302h6v6h-6zM51 305h2v2h-2zM62 303h5v5h-5zM81 301h8v8h-8zM101 301h8v8h-8zM112 303h5v5h-5zM116 301h2v2h-2zM131 301h8v8h-8zM144 304h5v5h-5zM144 305h2v2h-2zM151 301h8v8h-8zM161 301h8v8h-8zM211 301h8v8h-8zM253 301h6v6h-6zM253 302h2v2h-2zM261 301h8v8h-8zM271 301h8v8h-8zM281 301h8v8h-8zM297 303h2v2h-2zM321 301h5v5h-5zM325 301h2v2h-2zM322 307h2v2h-2zM-9 311h8v8h-8zM2 314h3v3h-3zM25 312h3v3h-3zM31 311h8v8h-8zM51 311h8v8h-8zM61 315h3v3h-3zM71 311h5v5h-5zM84 315h3v3h-3zM102 313h5v5h-5zM106 317h2v2h-2zM107 316h2v2h-2zM121 311h8v8h-8zM133 312h5v5h-5zM136 313h2v2h-2zM141 311h8v8h-8zM161 311h8v8h-8zM171 311h8v8h-8zM181 311h8v8h-8zM191 311h8v8h-8zM201 311h8v8h-8zM211 311h8v8h-8zM221 311h8v8h-8zM231 311h8v8h-8zM252 314h5v5h-5zM252 316h2v2h-2zM262 313h5v5h-5zM274 312h5v5h-5zM277 315h2v2h-2zM303 313h3v3h-3zM311 314h5v5h-5zM311 316h2v2h-2zM322 313h5v5h-5zM326 316h2v2h-2zM322 312h2v2h-2zM-9 321h8v8h-8zM1 321h8v8h-8zM14 326h2v2h-2zM31 322h5v5h-5zM43 321h5v5h-5zM51 321h6v6h-6zM53 321h2v2h-2zM72 326h3v3h-3zM76 325h2v2h-2zM93 322h5v5h-5zM93 323h2v2h-2zM101 324h5v5h-5zM105 322h2v2h-2zM112 321h3v3h-3zM131 321h6v6h-6zM132 323h2v2h-2zM141 321h8v8h-8zM181 321h8v8h-8zM195 324h2v2h-2zM201 321h8v8h-8zM211 321h8v8h-8zM241 321h8v8h-8zM254 321h5v5h-5zM256 322h2v2h-2zM252 327h2v2h-2zM255 324h2v2h-2zM-6 331h5v5h-5zM-8 337h2v2h-2zM-3 335h2v2h-2zM25 332h3v3h-3zM26 332h2v2h-2zM31 331h8v8h-8zM141 331h8v8h-8zM153 331h5v5h-5zM151 331h2v2h-2zM161 331h5v5h-5zM191 331h8v8h-8zM197 331h2v2h-2zM201 331h8v8h-8zM211 331h8v8h-8zM241 331h8v8h-8zM262 334h2v2h-2zM275 331h2v2h-2zM324 333h3v3h-3zM323 337h2v2h-2zM325 331h2v2h-2zM-6 343h5v5h-5zM-8 342h2v2h-2zM6 341h2v2h-2zM31 341h8v8h-8zM55 343h3v3h-3zM83 343h5v5h-5zM81 341h2v2h-2zM91 341h8v8h-8zM104 344h5v5h-5zM103 341h2v2h-2zM122 341h5v5h-5zM123 347h2v2h-2zM181 341h8v8h-8zM191 341h8v8h-8zM201 341h8v8h-8zM221 341h8v8h-8zM241 341h8v8h-8zM282 343h3v3h-3zM305 344h3v3h-3zM311 344h5v5h-5zM314 342h2v2h-2zM315 344h2v2h-2zM-9 351h8v8h-8zM-3 352h2v2h-2zM1 351h8v8h-8zM11 351h8v8h-8zM17 351h2v2h-2zM21 353h5v5h-5zM27 351h2v2h-2zM51 351h8v8h-8zM71 353h5v5h-5zM91 351h8v8h-8zM94 355h2v2h-2zM101 351h8v8h-8zM111 351h8v8h-8zM121 351h8v8h-8zM132 353h5v5h-5zM136 355h2v2h-2zM151 351h8v8h-8zM161 351h8v8h-8zM211 353h6v6h-6zM221 351h8v8h-8zM222 355h2v2h-2zM251 351h5v5h-5zM251 352h2v2h-2zM261 351h8v8h-8zM271 351h8v8h-8zM304 356h3v3h-3zM303 355h2v2h-2zM311 351h8v8h-8zM11 361h8v8h-8zM17 367h2v2h-2zM21 361h8v8h-8zM41 361h8v8h-8zM51 364h5v5h-5zM81 361h8v8h-8zM94 364h5v5h-5zM92 366h2v2h-2zM101 361h8v8h-8zM111 361h8v8h-8zM151 361h8v8h-8zM171 361h8v8h-8zM196 364h2v2h-2zM231 361h8v8h-8zM241 361h8v8h-8zM261 361h8v8h-8zM271 361h8v8h-8zM283 365h2v2h-2zM295 364h2v2h-2zM301 361h8v8h-8zM312 361h2v2h-2zM312 362h2v2h-2zM-9 371h8v8h-8zM1 371h8v8h-8zM12 371h2v2h-2zM42 373h6v6h-6zM47 377h2v2h-2zM51 371h8v8h-8zM61 371h8v8h-8zM73 373h5v5h-5zM71 371h2v2h-2zM91 371h8v8h-8zM101 371h8v8h-8zM111 371h8v8h-8zM131 371h8v8h-8zM141 371h8v8h-8zM161 371h8v8h-8zM191 371h8v8h-8zM251 371h8v8h-8zM261 371h8v8h-8zM281 371h8v8h-8zM291 371h8v8h-8zM313 372h5v5h-5zM315 372h2v2h-2zM321 371h8v8h-8zM-9 381h8v8h-8zM11 381h8v8h-8zM21 381h8v8h-8zM31 381h8v8h-8zM41 381h8v8h-8zM62 383h2v2h-2zM83 383h5v5h-5zM82 384h2v2h-2zM81 383h2v2h-2zM121 381h8v8h-8zM151 381h8v8h-8zM181 381h8v8h-8zM191 381h8v8h-8zM211 381h8v8h-8zM261 381h8v8h-8zM271 381h8v8h-8zM291 381h8v8h-8zM301 381h8v8h-8zM322 381h5v5h-5zM321 387h2v2h-2zM-9 391h8v8h-8zM1 391h8v8h-8zM21 391h8v8h-8zM41 391h8v8h-8zM71 391h8v8h-8zM81 391h8v8h-8zM91 391h8v8h-8zM101 391h8v8h-8zM132 393h5v5h-5zM151 391h8v8h-8zM221 391h8v8h-8zM251 391h8v8h-8zM271 391h8v8h-8zM291 391h8v8h-8zM301 391h8v8h-8zM321 391h8v8h-8zM11 401h8v8h-8zM31 401h8v8h-8zM44 401h5v5h-5zM46 401h2v2h-2zM73 401h5v5h-5zM76 406h2v2h-2zM161 401h8v8h-8zM171 401h8v8h-8zM201 401h8v8h-8zM261 401h8v8h-8zM323 404h5v5h-5zM322 404h2v2h-2zM324 405h2v2h-2z"/>
<path fill="#ffd600" d="M-8 -9h6v6h-6zM-9 -3h2v2h-2zM1 -8h7v7h-7zM5 -8h2v2h-2zM6 -9h2v2h-2zM31 -9h8v8h-8zM42 -9h6v6h-6zM43 -8h2v2h-2zM51 -9h8v8h-8zM55 -9h2v2h-2zM61 -9h8v8h-8zM71 -9h8v8h-8zM81 -9h8v8h-8zM91 -9h8v8h-8zM101 -9h8v8h-8zM121 -9h8v8h-8zM153 -9h6v6h-6zM161 -9h8v8h-8zM181 -9h8v8h-8zM191 -9h8v8h-8zM221 -9h7v7h-7zM221 -6h2v2h-2zM231 -9h8v8h-8zM241 -7h6v6h-6zM247 -9h2v2h-2zM251 -9h8v8h-8zM271 -9h8v8h-8zM291 -9h8v8h-8zM11 1h8v8h-8zM21 1h8v8h-8zM101 1h8v8h-8zM111 2h7v7h-7zM121 1h8v8h-8zM131 1h8v8h-8zM141 1h8v8h-8zM151 1h8v8h-8zM161 1h8v8h-8zM181 1h8v8h-8zM191 1h2v2h-2zM206 2h2v2h-2zM211 2h6v6h-6zM211 6h2v2h-2zM221 1h8v8h-8zM231 2h6v6h-6zM235 4h2v2h-2zM241 1h8v8h-8zM252 4h3v3h-3zM301 1h8v8h-8zM311 3h3v3h-3zM312 6h2v2h-2zM327 2h2v2h-2zM321 6h2v2h-2zM-7 13h6v6h-6zM12 11h6v6h-6zM21 11h8v8h-8zM31 11h8v8h-8zM41 11h8v8h-8zM52 13h6v6h-6zM61 11h8v8h-8zM71 11h8v8h-8zM81 11h8v8h-8zM91 11h8v8h-8zM101 11h8v8h-8zM113 13h6v6h-6zM121 11h8v8h-8zM133 13h6v6h-6zM131 12h2v2h-2zM141 11h8v8h-8zM152 11h6v6h-6zM171 11h8v8h-8zM191 12h6v6h-6zM201 11h8v8h-8zM221 12h6v6h-6zM232 12h6v6h-6zM252 12h6v6h-6zM292 13h3v3h-3zM301 11h8v8h-8zM321 11h8v8h-8zM1 21h8v8h-8zM21 21h8v8h-8zM31 21h8v8h-8zM62 22h7v7h-7zM82 22h7v7h-7zM91 21h8v8h-8zM101 22h7v7h-7zM111 21h8v8h-8zM121 21h8v8h-8zM131 21h8v8h-8zM141 21h8v8h-8zM161 21h8v8h-8zM171 21h8v8h-8zM181 21h8v8h-8zM191 21h8v8h-8zM231 21h8v8h-8zM241 22h6v6h-6zM243 24h2v2h-2zM252 22h6v6h-6zM254 25h2v2h-2zM262 21h2v2h-2zM274 25h3v3h-3zM282 21h6v6h-6zM283 21h2v2h-2zM282 25h2v2h-2zM301 21h8v8h-8zM321 21h8v8h-8zM-9 31h8v8h-8zM13 33h6v6h-6zM14 32h2v2h-2zM21 31h8v8h-8zM32 32h7v7h-7zM32 33h2v2h-2zM71 31h8v8h-8zM91 31h8v8h-8zM111 31h8v8h-8zM121 31h8v8h-8zM131 31h8v8h-8zM141 31h8v8h-8zM191 31h8v8h-8zM201 31h7v7h-7zM213 32h6v6h-6zM222 35h2v2h-2zM232 32h7v7h-7zM241 31h8v8h-8zM251 31h8v8h-8zM264 31h3v3h-3zM271 31h6v6h-6zM281 31h6v6h-6zM291 31h8v8h-8zM301 32h6v6h-6zM307 32h2v2h-2zM311 31h8v8h-8zM321 31h8v8h-8zM-5 43h3v3h-3zM3 45h3v3h-3zM21 41h8v8h-8zM64 44h3v3h-3zM72 41h6v6h-6zM81 41h6v6h-6zM85 46h2v2h-2zM131 41h8v8h-8zM141 41h8v8h-8zM152 41h7v7h-7zM172 43h6v6h-6zM171 46h2v2h-2zM181 41h8v8h-8zM191 41h8v8h-8zM201 41h8v8h-8zM231 41h8v8h-8zM243 41h6v6h-6zM244 47h2v2h-2zM251 41h8v8h-8zM271 41h8v8h-8zM281 41h8v8h-8zM291 44h2v2h-2zM301 41h8v8h-8zM312 43h6v6h-6zM321 41h8v8h-8zM-7 51h6v6h-6zM-5 56h2v2h-2zM3 51h6v6h-6zM5 56h2v2h-2zM7 57h2v2h-2zM73 51h6v6h-6zM75 52h2v2h-2zM101 51h8v8h-8zM111 51h8v8h-8zM131 51h8v8h-8zM151 51h8v8h-8zM161 51h8v8h-8zM171 51h8v8h-8zM221 51h8v8h-8zM231 51h8v8h-8zM271 51h8v8h-8zM282 53h6v6h-6zM291 51h8v8h-8zM301 51h8v8h-8zM311 51h8v8h-8zM321 51h8v8h-8zM-8 62h6v6h-6zM1 62h6v6h-6zM5 62h2v2h-2zM11 62h2v2h-2zM33 62h6v6h-6zM32 61h2v2h-2zM64 65h3v3h-3zM101 61h8v8h-8zM111 62h7v7h-7zM122 62h7v7h-7zM131 61h8v8h-8zM141 61h8v8h-8zM153 63h6v6h-6zM161 61h8v8h-8zM171 61h8v8h-8zM181 61h8v8h-8zM211 61h8v8h-8zM221 61h8v8h-8zM261 61h8v8h-8zM271 61h8v8h-8zM281 61h8v8h-8zM301 61h8v8h-8zM311 61h8v8h-8zM321 61h8v8h-8zM-9 72h6v6h-6zM-7 72h2v2h-2zM11 71h8v8h-8zM21 71h8v8h-8zM31 71h8v8h-8zM51 71h8v8h-8zM61 73h6v6h-6zM83 71h6v6h-6zM84 71h2v2h-2zM111 71h8v8h-8zM121 73h6v6h-6zM123 73h2v2h-2zM131 71h8v8h-8zM151 71h8v8h-8zM161 71h8v8h-8zM171 71h8v8h-8zM181 71h8v8h-8zM191 71h8v8h-8zM202 72h6v6h-6zM221 71h8v8h-8zM231 71h8v8h-8zM261 71h8v8h-8zM311 71h8v8h-8zM323 73h6v6h-6zM21 81h8v8h-8zM41 81h8v8h-8zM51 81h8v8h-8zM61 81h8v8h-8zM77 86h2v2h-2zM81 81h8v8h-8zM101 81h8v8h-8zM111 81h8v8h-8zM126 86h2v2h-2zM131 82h7v7h-7zM142 82h6v6h-6zM147 82h2v2h-2zM161 81h8v8h-8zM181 81h8v8h-8zM191 81h8v8h-8zM221 81h8v8h-8zM233 81h6v6h-6zM251 81h8v8h-8zM261 81h8v8h-8zM291 81h8v8h-8zM301 81h8v8h-8zM312 82h7v7h-7zM313 84h2v2h-2zM-9 91h8v8h-8zM11 91h8v8h-8zM21 91h8v8h-8zM41 91h8v8h-8zM51 91h8v8h-8zM61 91h8v8h-8zM73 91h6v6h-6zM74 97h2v2h-2zM81 91h8v8h-8zM91 91h8v8h-8zM101 91h8v8h-8zM111 91h6v6h-6zM137 95h2v2h-2zM152 92h6v6h-6zM162 92h6v6h-6zM191 91h8v8h-8zM221 91h8v8h-8zM232 92h7v7h-7zM232 91h2v2h-2zM241 91h8v8h-8zM261 91h6v6h-6zM263 92h2v2h-2zM281 91h8v8h-8zM311 91h8v8h-8zM321 91h8v8h-8zM-9 101h8v8h-8zM1 102h6v6h-6zM11 101h8v8h-8zM31 101h8v8h-8zM41 101h8v8h-8zM51 101h8v8h-8zM61 101h8v8h-8zM73 101h6v6h-6zM81 101h8v8h-8zM92 103h6v6h-6zM121 101h8v8h-8zM131 101h8v8h-8zM141 101h8v8h-8zM151 101h8v8h-8zM161 101h8v8h-8zM181 101h8v8h-8zM191 101h8v8h-8zM201 101h8v8h-8zM216 101h2v2h-2zM225 101h3v3h-3zM222 101h2v2h-2zM233 101h6v6h-6zM233 106h2v2h-2zM241 101h8v8h-8zM261 101h8v8h-8zM271 101h8v8h-8zM281 101h8v8h-8zM291 102h7v7h-7zM301 101h6v6h-6zM321 101h8v8h-8zM1 111h8v8h-8zM11 111h8v8h-8zM21 111h8v8h-8zM47 115h2v2h-2zM51 111h8v8h-8zM71 111h8v8h-8zM81 111h8v8h-8zM111 111h8v8h-8zM121 111h8v8h-8zM131 111h8v8h-8zM141 113h6v6h-6zM151 111h8v8h-8zM161 111h8v8h-8zM171 111h7v7h-7zM181 113h2v2h-2zM193 112h3v3h-3zM197 111h2v2h-2zM205 115h3v3h-3zM205 114h2v2h-2zM204 111h2v2h-2zM212 112h6v6h-6zM215 116h2v2h-2zM215 113h2v2h-2zM221 111h8v8h-8zM231 111h6v6h-6zM241 111h8v8h-8zM263 112h6v6h-6zM264 115h2v2h-2zM271 111h8v8h-8zM291 111h8v8h-8zM301 111h8v8h-8zM311 111h8v8h-8zM1 121h8v8h-8zM11 121h8v8h-8zM21 121h8v8h-8zM41 121h8v8h-8zM61 121h8v8h-8zM71 121h8v8h-8zM81 121h8v8h-8zM101 122h6v6h-6zM111 121h6v6h-6zM141 121h8v8h-8zM151 121h8v8h-8zM161 121h8v8h-8zM171 125h3v3h-3zM181 121h6v6h-6zM183 126h2v2h-2zM186 126h2v2h-2zM194 125h2v2h-2zM241 121h7v7h-7zM251 121h8v8h-8zM262 123h6v6h-6zM264 123h2v2h-2zM281 122h6v6h-6zM291 121h8v8h-8zM311 121h8v8h-8zM-9 131h8v8h-8zM1 131h7v7h-7zM3 131h2v2h-2zM11 131h8v8h-8zM31 131h8v8h-8zM41 131h8v8h-8zM41 132h2v2h-2zM51 131h8v8h-8zM71 131h8v8h-8zM81 131h8v8h-8zM121 131h8v8h-8zM141 131h8v8h-8zM151 131h8v8h-8zM161 131h8v8h-8zM184 131h2v2h-2zM181 132h2v2h-2zM203 131h3v3h-3zM253 133h3v3h-3zM261 131h8v8h-8zM275 132h2v2h-2zM291 131h8v8h-8zM301 131h6v6h-6zM307 136h2v2h-2zM311 131h8v8h-8zM324 133h3v3h-3zM321 132h2v2h-2zM324 135h2v2h-2zM11 141h8v8h-8zM21 141h8v8h-8zM31 141h8v8h-8zM81 141h8v8h-8zM91 141h8v8h-8zM101 141h8v8h-8zM121 141h8v8h-8zM132 143h6v6h-6zM141 141h8v8h-8zM151 141h8v8h-8zM161 141h8v8h-8zM172 142h6v6h-6zM175 143h2v2h-2zM181 141h8v8h-8zM253 142h3v3h-3zM271 141h8v8h-8zM281 141h8v8h-8zM291 142h7v7h-7zM304 145h3v3h-3zM311 141h8v8h-8zM321 141h8v8h-8zM-9 151h8v8h-8zM1 151h8v8h-8zM11 151h8v8h-8zM21 151h8v8h-8zM33 151h6v6h-6zM31 157h2v2h-2zM41 151h8v8h-8zM61 151h8v8h-8zM101 151h8v8h-8zM161 151h8v8h-8zM171 151h8v8h-8zM181 151h8v8h-8zM194 155h3v3h-3zM192 151h2v2h-2zM211 151h7v7h-7zM241 151h7v7h-7zM255 154h3v3h-3zM261 151h8v8h-8zM271 152h6v6h-6zM284 156h2v2h-2zM291 151h8v8h-8zM302 151h6v6h-6zM306 151h2v2h-2zM305 157h2v2h-2zM306 153h2v2h-2zM312 153h6v6h-6zM317 153h2v2h-2zM321 151h8v8h-8zM-9 161h8v8h-8zM1 161h7v7h-7zM1 164h2v2h-2zM11 161h8v8h-8zM21 161h8v8h-8zM31 161h8v8h-8zM51 161h8v8h-8zM81 161h8v8h-8zM91 161h8v8h-8zM101 161h8v8h-8zM121 161h8v8h-8zM141 161h8v8h-8zM251 161h8v8h-8zM281 161h8v8h-8zM294 165h2v2h-2zM291 164h2v2h-2zM312 163h6v6h-6zM6 173h2v2h-2zM11 171h8v8h-8zM21 171h8v8h-8zM33 172h6v6h-6zM52 172h7v7h-7zM61 173h6v6h-6zM63 175h2v2h-2zM71 171h8v8h-8zM81 171h8v8h-8zM91 171h8v8h-8zM131 171h8v8h-8zM161 171h8v8h-8zM171 171h8v8h-8zM181 171h8v8h-8zM191 171h8v8h-8zM201 171h8v8h-8zM281 171h8v8h-8zM301 171h6v6h-6zM313 173h2v2h-2zM321 171h7v7h-7zM325 171h2v2h-2zM324 171h2v2h-2zM-9 181h8v8h-8zM3 181h2v2h-2zM11 181h3v3h-3zM17 184h2v2h-2zM21 181h8v8h-8zM36 187h2v2h-2zM41 181h8v8h-8zM51 181h8v8h-8zM61 181h8v8h-8zM71 183h6v6h-6zM76 181h2v2h-2zM91 181h8v8h-8zM101 181h8v8h-8zM121 181h8v8h-8zM151 181h8v8h-8zM161 181h8v8h-8zM171 181h8v8h-8zM183 181h6v6h-6zM194 183h2v2h-2zM201 181h8v8h-8zM251 181h8v8h-8zM263 184h3v3h-3zM272 181h6v6h-6zM281 181h8v8h-8zM291 182h2v2h-2zM301 182h3v3h-3zM306 182h2v2h-2zM306 184h2v2h-2zM317 182h2v2h-2zM327 184h2v2h-2zM13 191h6v6h-6zM17 191h2v2h-2zM42 193h6v6h-6zM51 191h8v8h-8zM61 191h8v8h-8zM71 191h8v8h-8zM81 191h8v8h-8zM86 191h2v2h-2zM181 191h6v6h-6zM193 195h3v3h-3zM243 192h3v3h-3zM251 191h8v8h-8zM271 192h6v6h-6zM271 195h2v2h-2zM281 192h6v6h-6zM283 195h2v2h-2zM311 191h8v8h-8zM323 196h2v2h-2zM-8 203h3v3h-3zM2 201h6v6h-6zM4 206h2v2h-2zM23 201h6v6h-6zM42 203h6v6h-6zM62 202h6v6h-6zM91 201h8v8h-8zM101 201h8v8h-8zM131 201h8v8h-8zM181 201h8v8h-8zM191 201h8v8h-8zM236 203h3v3h-3zM242 202h7v7h-7zM251 201h8v8h-8zM261 201h8v8h-8zM272 201h7v7h-7zM282 205h2v2h-2zM301 201h8v8h-8zM313 203h6v6h-6zM-6 214h2v2h-2zM12 213h6v6h-6zM22 211h2v2h-2zM34 215h2v2h-2zM41 211h8v8h-8zM55 217h2v2h-2zM61 211h8v8h-8zM81 211h6v6h-6zM121 211h8v8h-8zM151 211h8v8h-8zM161 211h8v8h-8zM181 211h8v8h-8zM201 211h8v8h-8zM211 211h8v8h-8zM221 211h8v8h-8zM233 213h3v3h-3zM241 213h6v6h-6zM261 211h6v6h-6zM272 212h6v6h-6zM282 213h6v6h-6zM301 211h8v8h-8zM312 211h6v6h-6zM321 215h2v2h-2zM-9 221h8v8h-8zM1 221h8v8h-8zM21 222h6v6h-6zM32 221h6v6h-6zM37 223h2v2h-2zM55 223h2v2h-2zM61 221h8v8h-8zM91 221h8v8h-8zM101 221h8v8h-8zM111 221h8v8h-8zM131 221h8v8h-8zM171 221h8v8h-8zM191 221h8v8h-8zM201 221h8v8h-8zM211 221h8v8h-8zM221 221h8v8h-8zM231 221h8v8h-8zM241 221h8v8h-8zM252 223h6v6h-6zM263 227h2v2h-2zM287 226h2v2h-2zM292 223h6v6h-6zM307 222h2v2h-2zM302 223h2v2h-2zM314 225h2v2h-2zM322 221h6v6h-6zM-9 231h8v8h-8zM31 231h8v8h-8zM43 233h6v6h-6zM53 231h2v2h-2zM72 232h6v6h-6zM72 235h2v2h-2zM72 233h2v2h-2zM91 231h8v8h-8zM101 231h8v8h-8zM131 231h8v8h-8zM153 232h6v6h-6zM191 231h8v8h-8zM201 231h8v8h-8zM221 231h8v8h-8zM235 234h2v2h-2zM236 237h2v2h-2zM261 231h8v8h-8zM293 232h6v6h-6zM306 232h3v3h-3zM311 232h6v6h-6zM321 231h8v8h-8zM-9 241h8v8h-8zM1 241h8v8h-8zM23 241h6v6h-6zM32 243h3v3h-3zM33 243h2v2h-2zM44 241h3v3h-3zM51 246h2v2h-2zM77 242h2v2h-2zM82 242h2v2h-2zM91 241h8v8h-8zM103 241h6v6h-6zM131 241h8v8h-8zM151 241h8v8h-8zM172 242h7v7h-7zM181 241h8v8h-8zM221 241h8v8h-8zM231 241h8v8h-8zM247 244h2v2h-2zM251 241h8v8h-8zM261 241h8v8h-8zM273 243h6v6h-6zM272 247h2v2h-2zM281 241h8v8h-8zM286 247h2v2h-2zM294 244h3v3h-3zM323 241h6v6h-6zM325 242h2v2h-2zM34 254h3v3h-3zM42 252h6v6h-6zM52 253h3v3h-3zM61 251h8v8h-8zM91 251h8v8h-8zM101 251h8v8h-8zM111 251h8v8h-8zM141 251h8v8h-8zM152 251h6v6h-6zM161 251h8v8h-8zM182 252h7v7h-7zM186 257h2v2h-2zM201 251h8v8h-8zM221 251h8v8h-8zM241 252h6v6h-6zM251 251h8v8h-8zM264 255h3v3h-3zM271 251h8v8h-8zM281 251h8v8h-8zM291 251h6v6h-6zM321 251h8v8h-8zM-3 263h2v2h-2zM1 261h8v8h-8zM31 263h2v2h-2zM42 261h3v3h-3zM51 264h2v2h-2zM77 262h2v2h-2zM92 265h2v2h-2zM102 266h3v3h-3zM113 263h6v6h-6zM122 262h6v6h-6zM131 261h8v8h-8zM171 261h8v8h-8zM181 261h8v8h-8zM191 261h8v8h-8zM211 261h8v8h-8zM221 261h8v8h-8zM231 261h8v8h-8zM255 265h3v3h-3zM252 267h2v2h-2zM265 262h2v2h-2zM271 261h6v6h-6zM273 267h2v2h-2zM292 261h2v2h-2zM303 266h3v3h-3zM313 263h6v6h-6zM23 275h3v3h-3zM62 273h6v6h-6zM64 273h2v2h-2zM101 273h6v6h-6zM111 271h8v8h-8zM125 273h2v2h-2zM141 271h8v8h-8zM152 271h7v7h-7zM161 271h8v8h-8zM171 271h8v8h-8zM181 271h8v8h-8zM191 271h8v8h-8zM201 271h8v8h-8zM221 272h6v6h-6zM241 271h6v6h-6zM284 275h2v2h-2zM292 273h6v6h-6zM301 272h7v7h-7zM311 274h2v2h-2zM316 273h2v2h-2zM324 275h3v3h-3zM31 281h8v8h-8zM66 287h2v2h-2zM61 287h2v2h-2zM72 282h6v6h-6zM101 282h2v2h-2zM121 281h8v8h-8zM151 281h8v8h-8zM171 281h7v7h-7zM181 281h8v8h-8zM191 281h8v8h-8zM201 281h8v8h-8zM231 281h8v8h-8zM241 281h8v8h-8zM252 281h6v6h-6zM261 281h6v6h-6zM266 284h2v2h-2zM262 287h2v2h-2zM271 281h8v8h-8zM283 281h6v6h-6zM291 281h8v8h-8zM303 282h3v3h-3zM305 283h2v2h-2zM304 283h2v2h-2zM311 284h2v2h-2zM323 281h2v2h-2zM-9 292h6v6h-6zM32 293h3v3h-3zM35 292h2v2h-2zM41 291h8v8h-8zM52 292h6v6h-6zM71 291h8v8h-8zM96 293h3v3h-3zM113 294h2v2h-2zM121 291h8v8h-8zM136 295h3v3h-3zM143 293h6v6h-6zM151 291h8v8h-8zM161 291h8v8h-8zM171 291h8v8h-8zM183 297h2v2h-2zM192 293h6v6h-6zM194 297h2v2h-2zM201 291h8v8h-8zM231 291h8v8h-8zM241 297h2v2h-2zM251 291h8v8h-8zM261 291h8v8h-8zM271 291h8v8h-8zM285 291h2v2h-2zM287 295h2v2h-2zM291 291h8v8h-8zM302 292h7v7h-7zM311 291h8v8h-8zM-8 303h6v6h-6zM11 301h8v8h-8zM21 302h6v6h-6zM25 306h2v2h-2zM54 304h2v2h-2zM55 305h2v2h-2zM91 301h8v8h-8zM111 304h2v2h-2zM114 307h2v2h-2zM121 301h8v8h-8zM132 303h6v6h-6zM144 304h3v3h-3zM161 302h6v6h-6zM171 301h8v8h-8zM181 301h8v8h-8zM191 301h8v8h-8zM201 301h8v8h-8zM221 301h8v8h-8zM231 301h8v8h-8zM241 301h8v8h-8zM263 303h6v6h-6zM272 302h6v6h-6zM272 307h2v2h-2zM293 303h6v6h-6zM292 305h2v2h-2zM301 301h8v8h-8zM311 301h8v8h-8zM322 302h3v3h-3zM-7 313h6v6h-6zM-8 312h2v2h-2zM11 311h8v8h-8zM33 312h6v6h-6zM41 311h6v6h-6zM51 311h7v7h-7zM57 315h2v2h-2zM74 316h2v2h-2zM91 311h8v8h-8zM102 314h3v3h-3zM111 311h8v8h-8zM122 313h6v6h-6zM133 312h3v3h-3zM135 313h2v2h-2zM143 312h6v6h-6zM151 311h8v8h-8zM161 313h6v6h-6zM171 312h7v7h-7zM174 317h2v2h-2zM173 316h2v2h-2zM205 313h2v2h-2zM241 311h8v8h-8zM263 313h3v3h-3zM264 314h2v2h-2zM266 313h2v2h-2zM275 312h3v3h-3zM275 317h2v2h-2zM283 312h6v6h-6zM282 317h2v2h-2zM291 313h6v6h-6zM311 314h3v3h-3zM-4 324h2v2h-2zM2 322h6v6h-6zM7 321h2v2h-2zM11 323h6v6h-6zM11 327h2v2h-2zM22 322h6v6h-6zM31 323h3v3h-3zM61 321h8v8h-8zM102 325h3v3h-3zM121 321h8v8h-8zM151 321h8v8h-8zM163 323h6v6h-6zM171 321h8v8h-8zM183 322h6v6h-6zM193 323h6v6h-6zM196 323h2v2h-2zM217 323h2v2h-2zM221 321h8v8h-8zM231 321h8v8h-8zM242 321h7v7h-7zM261 321h8v8h-8zM271 321h8v8h-8zM281 321h8v8h-8zM291 321h8v8h-8zM311 322h6v6h-6zM311 321h2v2h-2zM321 321h8v8h-8zM1 331h8v8h-8zM11 331h8v8h-8zM33 331h6v6h-6zM43 333h6v6h-6zM41 334h2v2h-2zM51 331h8v8h-8zM61 331h8v8h-8zM71 331h8v8h-8zM81 331h8v8h-8zM91 331h8v8h-8zM101 331h8v8h-8zM121 331h8v8h-8zM131 331h8v8h-8zM132 335h2v2h-2zM153 331h3v3h-3zM157 334h2v2h-2zM165 332h2v2h-2zM171 331h8v8h-8zM181 331h8v8h-8zM192 332h7v7h-7zM211 332h7v7h-7zM212 334h2v2h-2zM221 331h8v8h-8zM231 331h8v8h-8zM251 331h8v8h-8zM262 331h6v6h-6zM272 332h6v6h-6zM281 331h8v8h-8zM293 332h6v6h-6zM315 334h3v3h-3zM316 337h2v2h-2zM-6 343h3v3h-3zM2 342h6v6h-6zM11 341h8v8h-8zM21 341h8v8h-8zM43 341h6v6h-6zM42 342h2v2h-2zM61 341h8v8h-8zM71 341h8v8h-8zM85 344h2v2h-2zM84 341h2v2h-2zM107 345h2v2h-2zM112 341h2v2h-2zM123 343h3v3h-3zM141 341h8v8h-8zM161 341h8v8h-8zM171 341h8v8h-8zM191 342h7v7h-7zM211 341h8v8h-8zM222 341h7v7h-7zM231 341h8v8h-8zM251 341h8v8h-8zM261 341h8v8h-8zM271 341h8v8h-8zM293 341h6v6h-6zM321 341h8v8h-8zM-5 351h2v2h-2zM11 352h6v6h-6zM23 354h3v3h-3zM31 351h8v8h-8zM42 352h6v6h-6zM46 351h2v2h-2zM53 353h2v2h-2zM61 351h8v8h-8zM72 354h3v3h-3zM81 351h8v8h-8zM122 354h2v2h-2zM132 354h2v2h-2zM141 351h8v8h-8zM153 353h6v6h-6zM171 351h8v8h-8zM181 351h8v8h-8zM191 351h8v8h-8zM201 351h8v8h-8zM223 351h6v6h-6zM263 353h6v6h-6zM274 357h2v2h-2zM281 351h8v8h-8zM291 353h6v6h-6zM-9 361h8v8h-8zM1 361h8v8h-8zM15 365h2v2h-2zM31 361h8v8h-8zM42 362h6v6h-6zM53 363h2v2h-2zM63 362h6v6h-6zM66 366h2v2h-2zM65 364h2v2h-2zM71 361h8v8h-8zM106 362h2v2h-2zM106 362h2v2h-2zM116 365h2v2h-2zM113 361h2v2h-2zM121 361h8v8h-8zM131 361h8v8h-8zM141 361h8v8h-8zM153 363h6v6h-6zM161 361h8v8h-8zM172 361h7v7h-7zM181 361h8v8h-8zM191 363h6v6h-6zM201 361h8v8h-8zM211 361h8v8h-8zM221 361h8v8h-8zM242 362h7v7h-7zM251 361h8v8h-8zM273 363h6v6h-6zM272 361h2v2h-2zM283 363h6v6h-6zM291 362h6v6h-6zM297 362h2v2h-2zM301 367h2v2h-2zM312 363h6v6h-6zM321 361h6v6h-6zM327 367h2v2h-2zM13 371h6v6h-6zM21 371h8v8h-8zM31 371h8v8h-8zM67 373h2v2h-2zM74 374h3v3h-3zM81 371h8v8h-8zM102 371h6v6h-6zM112 372h7v7h-7zM121 371h8v8h-8zM132 372h7v7h-7zM151 371h8v8h-8zM171 371h8v8h-8zM181 371h8v8h-8zM191 371h6v6h-6zM201 371h8v8h-8zM211 371h8v8h-8zM221 371h8v8h-8zM231 371h8v8h-8zM261 371h6v6h-6zM282 371h6v6h-6zM292 371h7v7h-7zM301 371h8v8h-8zM313 373h3v3h-3zM312 374h2v2h-2zM311 374h2v2h-2zM323 373h6v6h-6zM322 373h2v2h-2zM-9 381h7v7h-7zM-9 386h2v2h-2zM3 382h6v6h-6zM3 386h2v2h-2zM16 385h2v2h-2zM51 381h8v8h-8zM61 383h6v6h-6zM62 382h2v2h-2zM71 381h8v8h-8zM84 384h2v2h-2zM91 381h8v8h-8zM101 381h8v8h-8zM101 387h2v2h-2zM111 381h8v8h-8zM131 381h8v8h-8zM141 381h8v8h-8zM152 381h7v7h-7zM161 381h8v8h-8zM171 381h8v8h-8zM193 381h6v6h-6zM193 381h2v2h-2zM196 386h2v2h-2zM201 381h8v8h-8zM213 382h2v2h-2zM221 381h8v8h-8zM231 381h8v8h-8zM241 381h8v8h-8zM251 381h8v8h-8zM262 382h7v7h-7zM281 381h8v8h-8zM292 381h2v2h-2zM311 381h8v8h-8zM323 382h3v3h-3zM2 391h7v7h-7zM11 391h8v8h-8zM31 391h8v8h-8zM51 391h8v8h-8zM61 391h8v8h-8zM83 394h2v2h-2zM106 395h2v2h-2zM111 391h8v8h-8zM121 391h8v8h-8zM131 391h2v2h-2zM141 391h8v8h-8zM161 391h8v8h-8zM171 391h8v8h-8zM181 391h8v8h-8zM191 391h8v8h-8zM211 391h8v8h-8zM241 391h8v8h-8zM261 391h8v8h-8zM272 392h6v6h-6zM281 391h8v8h-8zM291 392h6v6h-6zM301 391h6v6h-6zM304 392h2v2h-2zM311 391h8v8h-8zM-9 401h8v8h-8zM1 401h8v8h-8zM21 401h8v8h-8zM32 402h7v7h-7zM51 401h8v8h-8zM61 401h8v8h-8zM75 403h3v3h-3zM74 405h2v2h-2zM81 401h8v8h-8zM91 401h8v8h-8zM101 401h8v8h-8zM111 401h8v8h-8zM121 401h8v8h-8zM131 401h8v8h-8zM141 401h8v8h-8zM181 401h8v8h-8zM191 401h8v8h-8zM231 401h8v8h-8zM241 401h8v8h-8zM271 401h8v8h-8zM281 401h8v8h-8zM291 401h8v8h-8zM301 401h8v8h-8zM311 401h8v8h-8z"/>
<path fill="#ffb200" d="M31 -9h6v6h-6zM51 -7h6v6h-6zM87 -3h2v2h-2zM181 -9h6v6h-6zM221 -6h2v2h-2zM242 -9h2v2h-2zM-9 2h7v7h-7zM2 1h6v6h-6zM1 3h2v2h-2zM13 2h6v6h-6zM101 2h6v6h-6zM101 4h2v2h-2zM111 5h2v2h-2zM116 4h2v2h-2zM192 3h6v6h-6zM194 1h2v2h-2zM203 5h3v3h-3zM205 4h2v2h-2zM242 1h6v6h-6zM265 2h3v3h-3zM302 1h7v7h-7zM324 1h3v3h-3zM121 12h7v7h-7zM211 11h6v6h-6zM217 12h2v2h-2zM212 17h2v2h-2zM213 11h2v2h-2zM243 11h6v6h-6zM322 11h6v6h-6zM81 25h2v2h-2zM86 21h2v2h-2zM123 21h6v6h-6zM161 21h7v7h-7zM172 22h2v2h-2zM221 21h7v7h-7zM231 23h6v6h-6zM235 26h2v2h-2zM262 21h6v6h-6zM283 21h2v2h-2zM292 24h3v3h-3zM303 21h6v6h-6zM321 21h7v7h-7zM327 27h2v2h-2zM327 24h2v2h-2zM1 33h6v6h-6zM83 32h6v6h-6zM102 33h6v6h-6zM173 33h6v6h-6zM196 33h2v2h-2zM222 32h7v7h-7zM233 32h2v2h-2zM241 31h7v7h-7zM251 31h7v7h-7zM257 31h2v2h-2zM287 32h2v2h-2zM284 37h2v2h-2zM311 33h6v6h-6zM22 43h6v6h-6zM85 46h2v2h-2zM123 43h6v6h-6zM152 42h2v2h-2zM281 42h6v6h-6zM291 42h6v6h-6zM321 41h6v6h-6zM-8 55h2v2h-2zM-8 53h2v2h-2zM76 56h2v2h-2zM171 52h7v7h-7zM272 52h6v6h-6zM323 52h6v6h-6zM-7 65h2v2h-2zM11 62h6v6h-6zM13 65h2v2h-2zM21 61h3v3h-3zM27 66h2v2h-2zM55 65h3v3h-3zM73 63h6v6h-6zM72 63h2v2h-2zM232 63h6v6h-6zM-7 73h2v2h-2zM2 72h7v7h-7zM33 72h6v6h-6zM44 76h2v2h-2zM52 71h6v6h-6zM71 71h6v6h-6zM94 77h2v2h-2zM143 71h6v6h-6zM145 75h2v2h-2zM152 72h2v2h-2zM192 71h6v6h-6zM223 72h6v6h-6zM-8 81h7v7h-7zM2 81h7v7h-7zM33 82h6v6h-6zM72 83h6v6h-6zM93 83h6v6h-6zM91 83h2v2h-2zM121 81h6v6h-6zM152 81h6v6h-6zM182 82h7v7h-7zM312 86h2v2h-2zM32 91h6v6h-6zM37 97h2v2h-2zM73 93h2v2h-2zM93 92h2v2h-2zM114 96h2v2h-2zM113 97h2v2h-2zM132 91h6v6h-6zM143 91h6v6h-6zM176 91h3v3h-3zM172 95h2v2h-2zM181 92h6v6h-6zM185 91h2v2h-2zM203 93h6v6h-6zM205 96h2v2h-2zM291 91h7v7h-7zM313 93h6v6h-6zM3 104h2v2h-2zM2 106h2v2h-2zM71 106h2v2h-2zM77 107h2v2h-2zM143 102h6v6h-6zM171 101h6v6h-6zM211 102h6v6h-6zM233 107h2v2h-2zM285 106h2v2h-2zM-9 111h6v6h-6zM31 111h6v6h-6zM41 112h6v6h-6zM185 114h3v3h-3zM221 112h7v7h-7zM256 111h3v3h-3zM322 112h3v3h-3zM13 126h2v2h-2zM51 123h6v6h-6zM185 123h2v2h-2zM193 121h6v6h-6zM253 123h6v6h-6zM261 123h2v2h-2zM273 123h6v6h-6zM312 122h7v7h-7zM23 133h6v6h-6zM24 131h2v2h-2zM42 132h6v6h-6zM71 133h6v6h-6zM81 131h6v6h-6zM172 133h3v3h-3zM183 132h6v6h-6zM273 131h6v6h-6zM285 135h2v2h-2zM286 133h2v2h-2zM303 134h2v2h-2zM1 143h6v6h-6zM1 144h2v2h-2zM13 143h2v2h-2zM43 143h6v6h-6zM52 142h7v7h-7zM103 141h6v6h-6zM177 141h2v2h-2zM196 143h3v3h-3zM262 142h7v7h-7zM281 142h7v7h-7zM292 147h2v2h-2zM13 154h2v2h-2zM181 151h6v6h-6zM277 157h2v2h-2zM282 152h6v6h-6zM316 157h2v2h-2zM11 162h6v6h-6zM17 162h2v2h-2zM52 161h7v7h-7zM107 167h2v2h-2zM181 163h6v6h-6zM292 162h3v3h-3zM302 162h6v6h-6zM313 166h2v2h-2zM-8 171h6v6h-6zM2 173h6v6h-6zM36 172h2v2h-2zM66 175h2v2h-2zM183 171h6v6h-6zM191 171h7v7h-7zM273 173h6v6h-6zM271 173h2v2h-2zM291 171h6v6h-6zM313 175h3v3h-3zM-8 182h7v7h-7zM4 184h3v3h-3zM23 181h6v6h-6zM81 182h6v6h-6zM186 182h3v3h-3zM184 185h2v2h-2zM192 181h6v6h-6zM273 182h3v3h-3zM276 181h2v2h-2zM281 181h6v6h-6zM292 182h6v6h-6zM311 181h7v7h-7zM322 183h3v3h-3zM12 191h2v2h-2zM21 192h6v6h-6zM33 193h6v6h-6zM51 193h6v6h-6zM81 191h7v7h-7zM172 192h6v6h-6zM253 193h6v6h-6zM292 191h6v6h-6zM296 192h2v2h-2zM301 192h7v7h-7zM306 196h2v2h-2zM323 193h3v3h-3zM2 203h2v2h-2zM24 205h2v2h-2zM51 202h6v6h-6zM64 204h2v2h-2zM72 201h6v6h-6zM74 207h2v2h-2zM77 207h2v2h-2zM272 201h2v2h-2zM282 203h6v6h-6zM321 203h6v6h-6zM322 202h2v2h-2zM-5 212h3v3h-3zM14 217h2v2h-2zM25 213h3v3h-3zM35 211h3v3h-3zM42 213h6v6h-6zM54 214h3v3h-3zM74 212h3v3h-3zM122 213h6v6h-6zM265 213h2v2h-2zM291 212h7v7h-7zM323 212h3v3h-3zM12 222h3v3h-3zM25 226h2v2h-2zM31 221h2v2h-2zM41 222h6v6h-6zM47 221h2v2h-2zM53 222h6v6h-6zM75 226h3v3h-3zM103 223h6v6h-6zM232 222h6v6h-6zM231 224h2v2h-2zM257 227h2v2h-2zM262 221h7v7h-7zM282 224h3v3h-3zM301 226h3v3h-3zM311 223h3v3h-3zM22 234h3v3h-3zM33 231h6v6h-6zM55 233h3v3h-3zM61 231h7v7h-7zM74 235h3v3h-3zM72 232h2v2h-2zM221 233h6v6h-6zM235 235h3v3h-3zM252 232h6v6h-6zM261 231h6v6h-6zM272 232h7v7h-7zM281 232h7v7h-7zM293 235h2v2h-2zM321 233h6v6h-6zM24 244h3v3h-3zM24 244h2v2h-2zM54 241h3v3h-3zM74 242h3v3h-3zM85 243h3v3h-3zM91 242h7v7h-7zM121 241h6v6h-6zM121 241h2v2h-2zM162 242h7v7h-7zM163 245h2v2h-2zM242 245h3v3h-3zM261 243h6v6h-6zM264 243h2v2h-2zM283 243h6v6h-6zM284 242h2v2h-2zM323 243h2v2h-2zM4 255h3v3h-3zM45 257h2v2h-2zM71 253h3v3h-3zM77 255h2v2h-2zM82 253h6v6h-6zM82 254h2v2h-2zM82 256h2v2h-2zM111 253h6v6h-6zM142 253h6v6h-6zM147 255h2v2h-2zM151 257h2v2h-2zM316 252h3v3h-3zM-5 265h3v3h-3zM33 265h3v3h-3zM53 263h3v3h-3zM74 261h3v3h-3zM95 264h3v3h-3zM122 267h2v2h-2zM133 263h6v6h-6zM244 261h3v3h-3zM241 267h2v2h-2zM263 263h3v3h-3zM295 264h3v3h-3zM-7 272h6v6h-6zM42 276h3v3h-3zM53 273h3v3h-3zM84 271h3v3h-3zM91 272h6v6h-6zM97 272h2v2h-2zM125 274h3v3h-3zM132 272h6v6h-6zM155 277h2v2h-2zM162 272h6v6h-6zM193 271h6v6h-6zM232 273h6v6h-6zM253 272h6v6h-6zM261 272h7v7h-7zM275 273h3v3h-3zM283 272h6v6h-6zM297 275h2v2h-2zM294 276h2v2h-2zM306 272h2v2h-2zM312 276h3v3h-3zM13 286h3v3h-3zM52 281h3v3h-3zM52 281h2v2h-2zM62 283h3v3h-3zM74 282h3v3h-3zM81 283h6v6h-6zM105 283h3v3h-3zM111 282h6v6h-6zM115 284h2v2h-2zM142 282h6v6h-6zM311 282h3v3h-3zM322 285h3v3h-3zM-9 295h2v2h-2zM42 291h6v6h-6zM111 292h6v6h-6zM117 295h2v2h-2zM111 291h2v2h-2zM184 297h2v2h-2zM181 294h2v2h-2zM195 296h2v2h-2zM242 293h6v6h-6zM285 293h3v3h-3zM312 292h6v6h-6zM24 303h3v3h-3zM54 305h3v3h-3zM62 304h3v3h-3zM81 302h6v6h-6zM102 302h7v7h-7zM112 303h3v3h-3zM157 307h2v2h-2zM166 302h2v2h-2zM172 303h6v6h-6zM191 302h6v6h-6zM255 304h3v3h-3zM281 301h6v6h-6zM47 311h2v2h-2zM72 312h3v3h-3zM111 315h2v2h-2zM123 312h2v2h-2zM151 311h7v7h-7zM183 311h6v6h-6zM191 313h6v6h-6zM202 311h6v6h-6zM213 311h6v6h-6zM232 311h6v6h-6zM231 314h2v2h-2zM254 314h3v3h-3zM296 312h2v2h-2zM323 315h3v3h-3zM-8 323h6v6h-6zM27 322h2v2h-2zM43 322h3v3h-3zM46 324h2v2h-2zM51 321h3v3h-3zM55 326h2v2h-2zM93 324h3v3h-3zM122 321h6v6h-6zM131 324h3v3h-3zM137 321h2v2h-2zM142 322h7v7h-7zM162 326h2v2h-2zM171 321h6v6h-6zM203 323h6v6h-6zM212 321h6v6h-6zM244 325h2v2h-2zM256 322h3v3h-3zM286 326h2v2h-2zM292 321h6v6h-6zM315 326h2v2h-2zM321 323h6v6h-6zM-5 333h3v3h-3zM41 335h2v2h-2zM71 332h6v6h-6zM81 332h7v7h-7zM87 333h2v2h-2zM91 332h7v7h-7zM113 331h6v6h-6zM123 333h6v6h-6zM132 332h7v7h-7zM142 332h6v6h-6zM145 333h2v2h-2zM163 332h3v3h-3zM194 332h2v2h-2zM201 333h6v6h-6zM202 331h2v2h-2zM217 335h2v2h-2zM255 333h2v2h-2zM292 332h2v2h-2zM2 347h2v2h-2zM31 342h6v6h-6zM43 343h3v3h-3zM42 341h2v2h-2zM72 341h2v2h-2zM77 344h2v2h-2zM85 345h3v3h-3zM92 343h6v6h-6zM106 346h3v3h-3zM113 343h6v6h-6zM117 343h2v2h-2zM171 343h6v6h-6zM194 342h2v2h-2zM202 342h6v6h-6zM296 343h2v2h-2zM311 346h3v3h-3zM321 342h6v6h-6zM-7 353h6v6h-6zM2 351h6v6h-6zM7 354h2v2h-2zM7 353h2v2h-2zM15 357h2v2h-2zM51 352h6v6h-6zM92 353h6v6h-6zM102 351h6v6h-6zM111 353h6v6h-6zM116 355h2v2h-2zM122 352h6v6h-6zM132 355h3v3h-3zM141 353h2v2h-2zM155 355h2v2h-2zM204 354h2v2h-2zM201 357h2v2h-2zM214 353h3v3h-3zM251 351h3v3h-3zM255 352h2v2h-2zM264 351h2v2h-2zM261 351h2v2h-2zM273 351h6v6h-6zM281 352h7v7h-7zM293 353h2v2h-2zM312 351h6v6h-6zM12 362h6v6h-6zM12 367h2v2h-2zM21 362h6v6h-6zM21 365h2v2h-2zM46 364h2v2h-2zM53 366h3v3h-3zM55 365h2v2h-2zM83 362h6v6h-6zM96 364h3v3h-3zM111 362h6v6h-6zM114 361h2v2h-2zM124 366h2v2h-2zM193 366h2v2h-2zM236 362h2v2h-2zM263 361h6v6h-6zM271 361h2v2h-2zM294 365h2v2h-2zM301 361h6v6h-6zM324 367h2v2h-2zM-7 372h6v6h-6zM1 373h6v6h-6zM4 374h2v2h-2zM14 377h2v2h-2zM44 374h3v3h-3zM52 372h6v6h-6zM53 374h2v2h-2zM57 377h2v2h-2zM62 376h2v2h-2zM92 372h6v6h-6zM101 372h2v2h-2zM116 373h2v2h-2zM132 374h2v2h-2zM151 372h6v6h-6zM163 372h6v6h-6zM175 373h2v2h-2zM201 372h6v6h-6zM222 371h6v6h-6zM221 373h2v2h-2zM11 383h6v6h-6zM16 384h2v2h-2zM21 381h7v7h-7zM33 381h6v6h-6zM37 381h2v2h-2zM61 385h2v2h-2zM72 382h6v6h-6zM83 385h3v3h-3zM102 382h6v6h-6zM202 382h6v6h-6zM211 383h6v6h-6zM231 382h6v6h-6zM246 385h2v2h-2zM262 382h2v2h-2zM281 382h6v6h-6zM286 382h2v2h-2zM292 383h6v6h-6zM302 382h6v6h-6zM13 393h6v6h-6zM17 396h2v2h-2zM22 391h7v7h-7zM23 396h2v2h-2zM43 392h6v6h-6zM43 395h2v2h-2zM63 393h6v6h-6zM71 391h6v6h-6zM82 392h6v6h-6zM86 397h2v2h-2zM92 391h6v6h-6zM93 396h2v2h-2zM103 395h2v2h-2zM122 392h6v6h-6zM121 393h2v2h-2zM122 397h2v2h-2zM133 395h3v3h-3zM142 391h7v7h-7zM175 397h2v2h-2zM253 393h6v6h-6zM282 396h2v2h-2zM314 394h2v2h-2zM321 391h7v7h-7zM36 402h2v2h-2zM46 403h3v3h-3zM122 402h6v6h-6zM124 407h2v2h-2zM153 401h6v6h-6zM156 401h2v2h-2zM164 407h2v2h-2zM191 404h2v2h-2zM202 402h6v6h-6zM283 402h6v6h-6zM283 402h2v2h-2zM281 405h2v2h-2zM291 402h7v7h-7zM303 406h2v2h-2zM323 405h3v3h-3z"/>
<path fill="#ff8f00" d="M-5 -8h3v3h-3zM35 -6h2v2h-2zM43 -7h3v3h-3zM81 -9h6v6h-6zM85 -3h2v2h-2zM156 -8h3v3h-3zM153 -8h2v2h-2zM182 -7h2v2h-2zM244 -7h3v3h-3zM272 -7h6v6h-6zM22 1h6v6h-6zM27 5h2v2h-2zM132 1h6v6h-6zM131 4h2v2h-2zM152 1h7v7h-7zM211 5h3v3h-3zM221 2h6v6h-6zM226 2h2v2h-2zM231 3h3v3h-3zM21 13h6v6h-6zM31 12h6v6h-6zM71 12h7v7h-7zM77 16h2v2h-2zM77 14h2v2h-2zM102 12h6v6h-6zM114 14h3v3h-3zM126 11h2v2h-2zM133 14h3v3h-3zM141 11h7v7h-7zM152 12h3v3h-3zM153 16h2v2h-2zM173 14h2v2h-2zM192 12h3v3h-3zM202 11h7v7h-7zM224 16h2v2h-2zM227 14h2v2h-2zM234 15h3v3h-3zM237 13h2v2h-2zM247 14h2v2h-2zM254 15h3v3h-3zM252 13h2v2h-2zM304 12h2v2h-2zM322 12h2v2h-2zM61 21h2v2h-2zM103 22h3v3h-3zM173 23h6v6h-6zM253 25h3v3h-3zM284 21h3v3h-3zM306 22h2v2h-2zM-7 33h6v6h-6zM1 34h2v2h-2zM16 34h3v3h-3zM32 34h4v4h-4zM72 31h6v6h-6zM87 35h2v2h-2zM107 34h2v2h-2zM112 32h6v6h-6zM117 32h2v2h-2zM147 33h2v2h-2zM174 37h2v2h-2zM191 31h7v7h-7zM204 34h3v3h-3zM214 33h4v4h-4zM235 35h3v3h-3zM241 36h2v2h-2zM273 32h3v3h-3zM291 35h2v2h-2zM72 44h2v2h-2zM81 43h3v3h-3zM144 42h2v2h-2zM155 44h3v3h-3zM153 46h2v2h-2zM173 46h2v2h-2zM291 41h2v2h-2zM6 51h3v3h-3zM1 56h2v2h-2zM112 57h2v2h-2zM153 51h6v6h-6zM163 52h6v6h-6zM292 56h2v2h-2zM293 52h2v2h-2zM-5 65h3v3h-3zM3 66h2v2h-2zM6 67h2v2h-2zM15 63h2v2h-2zM33 62h3v3h-3zM115 64h2v2h-2zM113 65h2v2h-2zM122 66h3v3h-3zM132 62h6v6h-6zM154 66h3v3h-3zM172 61h7v7h-7zM173 67h2v2h-2zM211 61h2v2h-2zM285 66h2v2h-2zM326 65h2v2h-2zM22 71h7v7h-7zM43 72h6v6h-6zM61 76h3v3h-3zM71 72h2v2h-2zM77 77h2v2h-2zM85 73h3v3h-3zM93 71h6v6h-6zM102 71h6v6h-6zM102 75h2v2h-2zM152 73h6v6h-6zM161 72h7v7h-7zM167 72h2v2h-2zM197 73h2v2h-2zM323 74h4v4h-4zM-4 87h2v2h-2zM-4 85h2v2h-2zM1 84h2v2h-2zM11 82h6v6h-6zM52 82h7v7h-7zM53 82h2v2h-2zM72 81h2v2h-2zM93 85h2v2h-2zM107 82h2v2h-2zM126 87h2v2h-2zM161 81h7v7h-7zM251 82h6v6h-6zM314 82h4v4h-4zM-7 92h6v6h-6zM11 93h6v6h-6zM41 92h6v6h-6zM51 95h2v2h-2zM61 91h7v7h-7zM82 91h7v7h-7zM83 97h2v2h-2zM92 91h6v6h-6zM102 93h6v6h-6zM145 97h2v2h-2zM153 92h3v3h-3zM162 94h4v4h-4zM164 97h2v2h-2zM166 94h2v2h-2zM282 97h2v2h-2zM294 94h2v2h-2zM323 91h6v6h-6zM2 105h3v3h-3zM51 103h6v6h-6zM62 101h7v7h-7zM66 103h2v2h-2zM75 102h3v3h-3zM71 107h2v2h-2zM81 101h7v7h-7zM82 103h2v2h-2zM91 106h2v2h-2zM102 101h6v6h-6zM105 103h2v2h-2zM152 102h7v7h-7zM175 103h2v2h-2zM174 107h2v2h-2zM201 102h7v7h-7zM234 103h4v4h-4zM262 103h6v6h-6zM265 104h2v2h-2zM282 101h6v6h-6zM292 105h3v3h-3zM291 103h2v2h-2zM293 102h2v2h-2zM12 112h6v6h-6zM21 112h6v6h-6zM121 112h6v6h-6zM131 112h7v7h-7zM135 111h2v2h-2zM213 115h3v3h-3zM233 113h3v3h-3zM242 111h6v6h-6zM271 112h7v7h-7zM274 115h2v2h-2zM291 112h7v7h-7zM294 114h2v2h-2zM302 111h7v7h-7zM312 112h6v6h-6zM316 115h2v2h-2zM11 121h7v7h-7zM22 121h6v6h-6zM56 125h2v2h-2zM56 127h2v2h-2zM61 123h6v6h-6zM75 126h2v2h-2zM81 121h7v7h-7zM102 122h4v4h-4zM104 121h2v2h-2zM111 123h4v4h-4zM162 126h2v2h-2zM182 122h3v3h-3zM197 125h2v2h-2zM193 122h2v2h-2zM282 127h2v2h-2zM283 122h2v2h-2zM292 123h6v6h-6zM-7 132h6v6h-6zM1 135h2v2h-2zM27 136h2v2h-2zM31 132h6v6h-6zM51 131h7v7h-7zM86 131h2v2h-2zM121 133h6v6h-6zM281 132h6v6h-6zM293 131h6v6h-6zM296 137h2v2h-2zM303 131h3v3h-3zM3 142h2v2h-2zM12 142h6v6h-6zM21 142h6v6h-6zM22 147h2v2h-2zM45 142h2v2h-2zM93 142h6v6h-6zM161 145h2v2h-2zM174 144h3v3h-3zM175 142h2v2h-2zM187 141h2v2h-2zM273 141h6v6h-6zM293 142h4v4h-4zM313 142h6v6h-6zM321 142h7v7h-7zM13 151h6v6h-6zM13 155h2v2h-2zM35 152h4v4h-4zM161 151h7v7h-7zM165 156h2v2h-2zM171 153h6v6h-6zM211 152h3v3h-3zM272 153h3v3h-3zM303 153h3v3h-3zM322 151h7v7h-7zM22 162h6v6h-6zM21 162h2v2h-2zM102 162h6v6h-6zM104 162h2v2h-2zM121 161h6v6h-6zM126 164h2v2h-2zM142 161h7v7h-7zM141 163h2v2h-2zM251 161h7v7h-7zM282 162h7v7h-7zM-7 172h2v2h-2zM-8 171h2v2h-2zM5 171h2v2h-2zM12 172h6v6h-6zM34 173h3v3h-3zM63 174h3v3h-3zM272 176h2v2h-2zM296 175h2v2h-2zM303 171h4v4h-4zM307 173h2v2h-2zM31 183h6v6h-6zM41 183h6v6h-6zM52 181h2v2h-2zM71 184h4v4h-4zM84 185h2v2h-2zM93 181h6v6h-6zM251 181h6v6h-6zM15 192h3v3h-3zM43 195h3v3h-3zM62 191h7v7h-7zM73 191h6v6h-6zM273 192h3v3h-3zM282 192h3v3h-3zM281 197h2v2h-2zM2 202h3v3h-3zM22 202h2v2h-2zM45 205h3v3h-3zM64 203h4v4h-4zM242 204h3v3h-3zM252 201h7v7h-7zM301 203h6v6h-6zM316 203h3v3h-3zM12 213h3v3h-3zM63 213h6v6h-6zM166 214h2v2h-2zM212 211h7v7h-7zM213 216h2v2h-2zM266 211h2v2h-2zM274 213h2v2h-2zM282 215h2v2h-2zM302 211h7v7h-7zM305 214h2v2h-2zM313 213h3v3h-3zM2 221h7v7h-7zM23 223h3v3h-3zM25 226h2v2h-2zM32 222h3v3h-3zM61 226h2v2h-2zM103 225h2v2h-2zM111 223h6v6h-6zM233 225h2v2h-2zM243 222h6v6h-6zM295 224h3v3h-3zM323 224h3v3h-3zM-7 233h6v6h-6zM45 234h3v3h-3zM64 236h2v2h-2zM93 233h6v6h-6zM93 236h2v2h-2zM94 232h2v2h-2zM102 231h7v7h-7zM284 237h2v2h-2zM294 233h3v3h-3zM314 235h3v3h-3zM1 242h7v7h-7zM101 243h2v2h-2zM226 245h2v2h-2zM65 253h2v2h-2zM91 253h6v6h-6zM153 252h3v3h-3zM152 256h2v2h-2zM163 253h6v6h-6zM241 251h2v2h-2zM294 254h3v3h-3zM294 256h2v2h-2zM322 252h6v6h-6zM116 265h2v2h-2zM133 266h2v2h-2zM223 262h6v6h-6zM225 266h2v2h-2zM273 261h3v3h-3zM313 266h2v2h-2zM-7 276h2v2h-2zM62 273h4v4h-4zM134 273h2v2h-2zM145 271h2v2h-2zM155 274h3v3h-3zM172 272h6v6h-6zM171 275h2v2h-2zM171 276h2v2h-2zM222 277h2v2h-2zM242 271h2v2h-2zM255 276h2v2h-2zM267 275h2v2h-2zM143 285h2v2h-2zM171 282h3v3h-3zM202 281h6v6h-6zM237 286h2v2h-2zM263 282h3v3h-3zM286 283h3v3h-3zM291 283h6v6h-6zM296 281h2v2h-2zM-7 294h3v3h-3zM55 293h3v3h-3zM71 291h6v6h-6zM161 291h6v6h-6zM182 292h6v6h-6zM292 297h2v2h-2zM-7 305h3v3h-3zM92 301h6v6h-6zM125 303h2v2h-2zM134 304h2v2h-2zM153 302h6v6h-6zM156 307h2v2h-2zM161 302h3v3h-3zM221 302h6v6h-6zM226 301h2v2h-2zM232 303h6v6h-6zM293 305h3v3h-3zM306 306h2v2h-2zM44 314h3v3h-3zM92 311h7v7h-7zM113 311h6v6h-6zM156 313h2v2h-2zM173 315h4v4h-4zM181 316h2v2h-2zM192 311h2v2h-2zM203 313h2v2h-2zM211 311h2v2h-2zM222 311h6v6h-6zM222 315h2v2h-2zM243 313h6v6h-6zM284 313h3v3h-3zM286 312h2v2h-2zM292 314h3v3h-3zM11 321h2v2h-2zM23 322h3v3h-3zM144 325h2v2h-2zM147 323h2v2h-2zM152 321h6v6h-6zM164 323h3v3h-3zM195 324h3v3h-3zM222 321h6v6h-6zM231 321h6v6h-6zM234 327h2v2h-2zM232 322h2v2h-2zM261 321h6v6h-6zM281 321h7v7h-7zM312 324h3v3h-3zM31 331h2v2h-2zM62 332h2v2h-2zM74 332h2v2h-2zM81 334h2v2h-2zM112 332h2v2h-2zM121 334h2v2h-2zM143 337h2v2h-2zM142 332h2v2h-2zM171 331h7v7h-7zM193 334h3v3h-3zM222 332h7v7h-7zM252 331h6v6h-6zM255 333h2v2h-2zM263 332h3v3h-3zM273 335h3v3h-3zM281 331h6v6h-6zM293 335h3v3h-3zM71 341h6v6h-6zM94 346h2v2h-2zM113 347h2v2h-2zM145 345h2v2h-2zM177 343h2v2h-2zM191 344h3v3h-3zM197 342h2v2h-2zM201 342h2v2h-2zM232 342h6v6h-6zM253 343h6v6h-6zM272 343h6v6h-6zM295 344h3v3h-3zM4 354h2v2h-2zM11 355h3v3h-3zM44 352h3v3h-3zM63 352h6v6h-6zM81 351h6v6h-6zM112 351h2v2h-2zM124 353h2v2h-2zM141 351h7v7h-7zM154 355h3v3h-3zM183 353h6v6h-6zM192 352h7v7h-7zM201 353h6v6h-6zM224 352h2v2h-2zM273 352h2v2h-2zM291 353h3v3h-3zM-8 363h6v6h-6zM6 362h2v2h-2zM26 364h2v2h-2zM44 365h2v2h-2zM101 362h6v6h-6zM101 361h2v2h-2zM121 363h6v6h-6zM155 363h4v4h-4zM161 363h6v6h-6zM173 363h3v3h-3zM192 366h3v3h-3zM213 363h6v6h-6zM231 361h6v6h-6zM241 362h2v2h-2zM252 361h6v6h-6zM284 367h2v2h-2zM283 366h2v2h-2zM294 362h3v3h-3zM313 365h3v3h-3zM322 363h3v3h-3zM6 373h2v2h-2zM13 374h3v3h-3zM62 373h6v6h-6zM87 373h2v2h-2zM91 374h2v2h-2zM155 376h2v2h-2zM172 372h6v6h-6zM183 374h2v2h-2zM185 377h2v2h-2zM191 373h3v3h-3zM205 375h2v2h-2zM231 377h2v2h-2zM263 373h3v3h-3zM296 371h3v3h-3zM303 372h6v6h-6zM303 373h2v2h-2zM326 374h2v2h-2zM4 387h2v2h-2zM15 387h2v2h-2zM43 383h6v6h-6zM61 383h3v3h-3zM73 384h2v2h-2zM113 382h6v6h-6zM133 386h2v2h-2zM141 382h6v6h-6zM162 382h7v7h-7zM165 384h2v2h-2zM172 381h6v6h-6zM215 384h2v2h-2zM241 382h7v7h-7zM253 382h6v6h-6zM262 384h4v4h-4zM261 385h2v2h-2zM-9 393h6v6h-6zM-3 391h2v2h-2zM53 392h6v6h-6zM61 394h2v2h-2zM76 395h2v2h-2zM103 392h6v6h-6zM112 392h7v7h-7zM161 393h6v6h-6zM162 392h2v2h-2zM173 391h6v6h-6zM192 393h6v6h-6zM195 395h2v2h-2zM257 393h2v2h-2zM255 393h2v2h-2zM274 392h2v2h-2zM283 392h6v6h-6zM304 397h2v2h-2zM311 391h6v6h-6zM313 397h2v2h-2zM6 406h2v2h-2zM22 402h6v6h-6zM35 405h3v3h-3zM61 401h7v7h-7zM91 406h2v2h-2zM111 403h6v6h-6zM132 402h6v6h-6zM133 406h2v2h-2zM163 403h6v6h-6zM171 403h6v6h-6zM173 403h2v2h-2zM183 402h6v6h-6zM186 403h2v2h-2zM192 401h7v7h-7zM301 401h6v6h-6z"/>
<path fill="#ff6c00" d="M1 -5h4v4h-4zM63 -9h6v6h-6zM71 -9h6v6h-6zM91 -9h6v6h-6zM92 -6h2v2h-2zM102 -7h6v6h-6zM163 -8h6v6h-6zM191 -7h6v6h-6zM223 -8h3v3h-3zM232 -7h6v6h-6zM252 -8h6v6h-6zM254 -5h2v2h-2zM292 -7h6v6h-6zM292 -7h2v2h-2zM-9 4h3v3h-3zM13 7h2v2h-2zM25 3h2v2h-2zM113 4h4v4h-4zM123 3h6v6h-6zM132 5h2v2h-2zM141 2h7v7h-7zM241 3h2v2h-2zM-6 15h3v3h-3zM13 11h3v3h-3zM41 12h7v7h-7zM55 16h3v3h-3zM92 11h6v6h-6zM144 16h2v2h-2zM171 13h6v6h-6zM222 14h3v3h-3zM301 12h6v6h-6zM3 21h6v6h-6zM21 22h7v7h-7zM33 23h6v6h-6zM62 23h4v4h-4zM83 22h4v4h-4zM93 21h6v6h-6zM97 26h2v2h-2zM113 22h6v6h-6zM111 22h2v2h-2zM123 21h2v2h-2zM131 21h6v6h-6zM141 22h7v7h-7zM182 21h6v6h-6zM221 21h4v4h-4zM222 21h2v2h-2zM241 24h4v4h-4zM262 24h3v3h-3zM4 34h2v2h-2zM22 31h6v6h-6zM91 32h7v7h-7zM92 36h2v2h-2zM105 31h2v2h-2zM115 33h2v2h-2zM123 33h6v6h-6zM141 31h6v6h-6zM173 35h4v4h-4zM282 32h3v3h-3zM291 32h7v7h-7zM304 33h3v3h-3zM321 32h7v7h-7zM74 41h4v4h-4zM73 45h2v2h-2zM142 42h6v6h-6zM173 44h4v4h-4zM201 42h6v6h-6zM245 43h3v3h-3zM252 42h6v6h-6zM291 45h3v3h-3zM301 43h6v6h-6zM314 44h3v3h-3zM-4 52h3v3h-3zM76 54h3v3h-3zM113 53h6v6h-6zM132 52h6v6h-6zM163 56h2v2h-2zM284 53h3v3h-3zM292 52h7v7h-7zM302 52h7v7h-7zM313 51h6v6h-6zM2 62h3v3h-3zM102 62h7v7h-7zM114 64h3v3h-3zM162 62h7v7h-7zM167 67h2v2h-2zM211 61h6v6h-6zM216 67h2v2h-2zM234 66h3v3h-3zM282 62h6v6h-6zM323 62h6v6h-6zM324 64h2v2h-2zM-9 73h3v3h-3zM5 75h4v4h-4zM24 74h2v2h-2zM21 72h2v2h-2zM53 74h2v2h-2zM95 74h2v2h-2zM112 72h6v6h-6zM123 75h4v4h-4zM172 72h7v7h-7zM174 76h2v2h-2zM197 77h2v2h-2zM203 75h3v3h-3zM221 75h2v2h-2zM225 75h2v2h-2zM232 71h6v6h-6zM231 77h2v2h-2zM4 82h3v3h-3zM11 83h2v2h-2zM23 83h6v6h-6zM34 84h2v2h-2zM41 82h6v6h-6zM72 85h3v3h-3zM74 87h2v2h-2zM82 82h7v7h-7zM83 84h2v2h-2zM93 84h3v3h-3zM96 82h2v2h-2zM102 82h6v6h-6zM123 81h2v2h-2zM131 86h3v3h-3zM142 82h4v4h-4zM141 82h2v2h-2zM154 84h3v3h-3zM236 82h3v3h-3zM263 83h6v6h-6zM301 82h6v6h-6zM-3 96h2v2h-2zM21 91h6v6h-6zM35 93h3v3h-3zM46 97h2v2h-2zM51 93h6v6h-6zM74 93h3v3h-3zM111 93h3v3h-3zM133 93h4v4h-4zM137 93h2v2h-2zM145 91h3v3h-3zM183 95h3v3h-3zM181 96h2v2h-2zM193 93h6v6h-6zM203 94h4v4h-4zM205 95h2v2h-2zM235 95h4v4h-4zM262 93h4v4h-4zM281 91h6v6h-6zM295 95h2v2h-2zM-8 101h7v7h-7zM13 102h6v6h-6zM14 101h2v2h-2zM31 103h6v6h-6zM42 101h7v7h-7zM61 104h2v2h-2zM82 106h2v2h-2zM95 104h3v3h-3zM122 103h6v6h-6zM132 102h6v6h-6zM162 101h7v7h-7zM172 104h3v3h-3zM177 107h2v2h-2zM192 101h6v6h-6zM212 102h3v3h-3zM242 101h6v6h-6zM301 101h4v4h-4zM307 104h2v2h-2zM-7 113h3v3h-3zM3 113h6v6h-6zM22 112h2v2h-2zM33 112h2v2h-2zM73 113h6v6h-6zM112 111h6v6h-6zM144 114h3v3h-3zM152 111h7v7h-7zM162 111h6v6h-6zM172 114h3v3h-3zM266 112h3v3h-3zM265 112h2v2h-2zM17 124h2v2h-2zM43 121h6v6h-6zM45 127h2v2h-2zM53 125h3v3h-3zM64 127h2v2h-2zM72 121h7v7h-7zM163 122h6v6h-6zM196 123h3v3h-3zM242 124h3v3h-3zM256 124h2v2h-2zM263 125h3v3h-3zM273 123h3v3h-3zM273 123h2v2h-2zM281 123h3v3h-3zM3 133h3v3h-3zM12 131h6v6h-6zM143 131h6v6h-6zM142 135h2v2h-2zM151 133h6v6h-6zM161 131h6v6h-6zM162 131h2v2h-2zM184 133h3v3h-3zM185 131h2v2h-2zM261 132h6v6h-6zM261 133h2v2h-2zM276 137h2v2h-2zM312 131h6v6h-6zM47 147h2v2h-2zM53 143h3v3h-3zM91 141h2v2h-2zM103 141h2v2h-2zM134 146h3v3h-3zM161 142h6v6h-6zM182 141h6v6h-6zM313 142h2v2h-2zM-9 151h6v6h-6zM22 151h6v6h-6zM245 154h3v3h-3zM244 157h2v2h-2zM261 151h7v7h-7zM283 153h3v3h-3zM292 152h6v6h-6zM315 154h3v3h-3zM-9 162h6v6h-6zM1 161h4v4h-4zM33 161h6v6h-6zM147 162h2v2h-2zM305 165h3v3h-3zM314 163h3v3h-3zM-8 175h2v2h-2zM3 173h3v3h-3zM11 176h2v2h-2zM21 171h6v6h-6zM52 175h3v3h-3zM201 172h7v7h-7zM274 173h3v3h-3zM273 174h2v2h-2zM283 171h6v6h-6zM291 171h3v3h-3zM291 175h2v2h-2zM325 174h3v3h-3zM51 182h7v7h-7zM51 181h2v2h-2zM81 185h3v3h-3zM203 181h6v6h-6zM203 184h2v2h-2zM287 181h2v2h-2zM291 182h2v2h-2zM25 195h2v2h-2zM53 197h2v2h-2zM62 196h2v2h-2zM85 193h2v2h-2zM181 192h3v3h-3zM255 195h2v2h-2zM313 191h6v6h-6zM25 203h3v3h-3zM77 202h2v2h-2zM102 201h7v7h-7zM101 206h2v2h-2zM181 202h7v7h-7zM193 201h6v6h-6zM254 201h2v2h-2zM262 201h6v6h-6zM275 204h4v4h-4zM285 203h3v3h-3zM285 206h2v2h-2zM84 214h3v3h-3zM161 212h6v6h-6zM202 212h7v7h-7zM222 213h6v6h-6zM242 214h4v4h-4zM261 214h3v3h-3zM275 215h3v3h-3zM285 216h3v3h-3zM-9 221h6v6h-6zM4 223h2v2h-2zM41 225h3v3h-3zM62 222h6v6h-6zM203 222h6v6h-6zM214 223h2v2h-2zM223 221h6v6h-6zM243 222h2v2h-2zM254 224h3v3h-3zM256 226h2v2h-2zM34 231h2v2h-2zM103 236h2v2h-2zM153 234h3v3h-3zM191 231h6v6h-6zM202 231h7v7h-7zM253 233h3v3h-3zM273 235h3v3h-3zM97 243h2v2h-2zM105 242h3v3h-3zM123 244h3v3h-3zM132 243h6v6h-6zM175 244h3v3h-3zM221 242h7v7h-7zM231 241h7v7h-7zM252 242h7v7h-7zM253 243h2v2h-2zM275 243h3v3h-3zM323 244h3v3h-3zM44 252h3v3h-3zM62 252h7v7h-7zM85 256h3v3h-3zM93 257h2v2h-2zM103 251h6v6h-6zM164 256h2v2h-2zM182 253h4v4h-4zM221 253h6v6h-6zM242 252h4v4h-4zM271 251h6v6h-6zM281 252h7v7h-7zM1 263h6v6h-6zM115 263h3v3h-3zM125 265h3v3h-3zM191 262h7v7h-7zM211 262h7v7h-7zM222 263h2v2h-2zM231 262h7v7h-7zM315 264h3v3h-3zM91 275h3v3h-3zM96 275h2v2h-2zM101 273h4v4h-4zM112 271h6v6h-6zM134 273h4v4h-4zM141 271h6v6h-6zM163 272h2v2h-2zM164 275h2v2h-2zM191 272h2v2h-2zM201 272h6v6h-6zM222 275h3v3h-3zM241 272h3v3h-3zM283 275h3v3h-3zM283 277h2v2h-2zM292 274h3v3h-3zM304 274h3v3h-3zM303 275h2v2h-2zM31 282h7v7h-7zM117 281h2v2h-2zM121 283h6v6h-6zM144 284h3v3h-3zM181 281h6v6h-6zM192 281h7v7h-7zM206 287h2v2h-2zM233 281h6v6h-6zM243 281h6v6h-6zM253 282h4v4h-4zM272 282h7v7h-7zM111 294h3v3h-3zM121 291h7v7h-7zM144 294h4v4h-4zM152 292h6v6h-6zM172 293h6v6h-6zM194 295h3v3h-3zM244 296h3v3h-3zM252 293h6v6h-6zM271 292h7v7h-7zM292 293h6v6h-6zM306 295h3v3h-3zM317 297h2v2h-2zM12 302h7v7h-7zM14 306h2v2h-2zM102 304h3v3h-3zM104 301h2v2h-2zM123 301h6v6h-6zM132 304h3v3h-3zM157 304h2v2h-2zM183 303h6v6h-6zM266 306h3v3h-3zM274 302h3v3h-3zM277 307h2v2h-2zM281 307h2v2h-2zM301 301h7v7h-7zM312 303h6v6h-6zM315 304h2v2h-2zM-5 315h3v3h-3zM12 311h7v7h-7zM14 315h2v2h-2zM33 312h3v3h-3zM53 312h3v3h-3zM124 315h3v3h-3zM127 313h2v2h-2zM143 312h3v3h-3zM142 317h2v2h-2zM156 312h2v2h-2zM162 313h3v3h-3zM186 311h2v2h-2zM204 314h3v3h-3zM211 311h2v2h-2zM232 313h3v3h-3zM-5 325h3v3h-3zM2 324h3v3h-3zM11 325h3v3h-3zM61 322h7v7h-7zM184 325h3v3h-3zM201 327h2v2h-2zM215 321h2v2h-2zM244 321h4v4h-4zM262 323h2v2h-2zM272 321h7v7h-7zM292 326h2v2h-2zM3 332h6v6h-6zM12 333h6v6h-6zM33 333h3v3h-3zM45 335h3v3h-3zM53 332h6v6h-6zM63 333h6v6h-6zM73 334h2v2h-2zM103 331h6v6h-6zM113 332h3v3h-3zM182 333h6v6h-6zM203 333h2v2h-2zM211 335h3v3h-3zM231 332h6v6h-6zM282 331h2v2h-2zM4 343h3v3h-3zM13 341h6v6h-6zM23 342h6v6h-6zM35 346h2v2h-2zM61 341h7v7h-7zM94 346h3v3h-3zM113 346h3v3h-3zM141 341h6v6h-6zM162 341h7v7h-7zM201 341h2v2h-2zM211 342h7v7h-7zM225 341h4v4h-4zM232 341h2v2h-2zM263 342h6v6h-6zM261 345h2v2h-2zM31 353h6v6h-6zM103 351h3v3h-3zM103 352h2v2h-2zM103 357h2v2h-2zM107 351h2v2h-2zM225 351h4v4h-4zM265 354h4v4h-4zM2 361h7v7h-7zM14 363h3v3h-3zM31 361h6v6h-6zM43 363h4v4h-4zM64 365h3v3h-3zM72 361h7v7h-7zM72 367h2v2h-2zM84 361h2v2h-2zM131 363h6v6h-6zM142 361h7v7h-7zM203 363h6v6h-6zM204 361h2v2h-2zM221 362h6v6h-6zM223 363h2v2h-2zM227 366h2v2h-2zM233 364h2v2h-2zM244 365h3v3h-3zM266 363h3v3h-3zM274 363h3v3h-3zM283 364h3v3h-3zM303 363h2v2h-2zM21 372h6v6h-6zM33 372h6v6h-6zM37 371h2v2h-2zM82 372h7v7h-7zM102 372h4v4h-4zM116 375h3v3h-3zM134 373h4v4h-4zM182 371h7v7h-7zM205 376h2v2h-2zM211 371h7v7h-7zM212 372h2v2h-2zM232 373h6v6h-6zM282 373h4v4h-4zM325 374h3v3h-3zM-6 382h4v4h-4zM-9 382h2v2h-2zM6 383h3v3h-3zM22 383h4v4h-4zM45 382h2v2h-2zM53 382h6v6h-6zM92 382h6v6h-6zM107 384h2v2h-2zM133 382h6v6h-6zM152 382h4v4h-4zM161 384h2v2h-2zM194 381h3v3h-3zM211 385h4v4h-4zM222 382h7v7h-7zM256 382h2v2h-2zM311 381h7v7h-7zM-4 394h2v2h-2zM5 394h4v4h-4zM17 394h2v2h-2zM24 391h2v2h-2zM63 393h2v2h-2zM141 394h2v2h-2zM183 393h6v6h-6zM182 396h2v2h-2zM213 393h6v6h-6zM256 396h3v3h-3zM273 394h4v4h-4zM281 394h2v2h-2zM293 394h3v3h-3zM304 392h3v3h-3zM321 397h2v2h-2zM-8 402h6v6h-6zM3 401h6v6h-6zM52 401h6v6h-6zM92 403h6v6h-6zM101 401h6v6h-6zM156 401h3v3h-3zM177 406h2v2h-2zM202 402h4v4h-4zM232 401h7v7h-7zM241 401h7v7h-7zM271 403h6v6h-6z"/>
<path fill="#ff4900" d="M11 -9h8v8h-8zM32 -8h3v3h-3zM52 -7h3v3h-3zM184 -8h3v3h-3zM183 -8h2v2h-2zM192 -5h2v2h-2zM232 -8h2v2h-2zM4 3h3v3h-3zM17 5h2v2h-2zM102 3h3v3h-3zM192 4h4v4h-4zM242 3h3v3h-3zM303 1h4v4h-4zM95 16h2v2h-2zM121 14h4v4h-4zM212 11h3v3h-3zM245 13h4v4h-4zM322 13h3v3h-3zM324 14h2v2h-2zM114 23h2v2h-2zM126 22h3v3h-3zM164 22h4v4h-4zM183 24h2v2h-2zM193 22h6v6h-6zM232 24h3v3h-3zM325 22h3v3h-3zM1 34h3v3h-3zM83 33h4v4h-4zM105 35h3v3h-3zM191 33h2v2h-2zM222 34h3v3h-3zM242 35h3v3h-3zM243 32h2v2h-2zM254 33h4v4h-4zM314 35h3v3h-3zM22 44h2v2h-2zM126 45h3v3h-3zM146 42h2v2h-2zM281 44h3v3h-3zM321 41h3v3h-3zM153 57h2v2h-2zM172 55h4v4h-4zM313 57h2v2h-2zM324 52h3v3h-3zM13 62h3v3h-3zM74 66h3v3h-3zM106 64h2v2h-2zM141 63h6v6h-6zM33 74h3v3h-3zM53 73h3v3h-3zM73 73h3v3h-3zM104 73h2v2h-2zM142 76h2v2h-2zM145 73h2v2h-2zM174 71h2v2h-2zM225 73h4v4h-4zM-5 85h3v3h-3zM13 86h2v2h-2zM34 84h3v3h-3zM45 85h2v2h-2zM55 86h2v2h-2zM113 83h6v6h-6zM124 82h3v3h-3zM185 83h3v3h-3zM294 92h4v4h-4zM314 93h3v3h-3zM36 103h2v2h-2zM57 101h2v2h-2zM145 105h3v3h-3zM244 107h2v2h-2zM245 102h2v2h-2zM262 101h2v2h-2zM285 104h2v2h-2zM34 113h3v3h-3zM37 113h2v2h-2zM43 114h4v4h-4zM82 112h7v7h-7zM221 112h4v4h-4zM64 127h2v2h-2zM82 124h2v2h-2zM151 122h6v6h-6zM153 126h2v2h-2zM251 124h2v2h-2zM316 123h3v3h-3zM25 136h3v3h-3zM45 133h3v3h-3zM71 134h4v4h-4zM75 132h2v2h-2zM152 137h2v2h-2zM275 133h3v3h-3zM275 135h2v2h-2zM282 135h2v2h-2zM292 133h2v2h-2zM3 146h3v3h-3zM14 146h2v2h-2zM43 144h4v4h-4zM103 141h3v3h-3zM166 142h2v2h-2zM263 142h3v3h-3zM283 143h4v4h-4zM165 155h2v2h-2zM173 156h2v2h-2zM183 152h3v3h-3zM325 155h2v2h-2zM35 163h2v2h-2zM54 162h4v4h-4zM124 167h2v2h-2zM181 166h3v3h-3zM183 164h2v2h-2zM-7 173h3v3h-3zM184 172h3v3h-3zM194 174h4v4h-4zM205 176h2v2h-2zM-5 182h4v4h-4zM23 183h4v4h-4zM192 181h3v3h-3zM293 182h4v4h-4zM311 181h3v3h-3zM317 182h2v2h-2zM22 194h3v3h-3zM35 195h4v4h-4zM32 193h2v2h-2zM51 193h3v3h-3zM56 193h2v2h-2zM175 192h3v3h-3zM254 196h3v3h-3zM294 191h3v3h-3zM302 195h3v3h-3zM52 202h3v3h-3zM72 201h3v3h-3zM195 206h2v2h-2zM321 204h3v3h-3zM42 215h4v4h-4zM62 215h2v2h-2zM124 213h3v3h-3zM121 214h2v2h-2zM214 217h2v2h-2zM294 213h3v3h-3zM305 216h2v2h-2zM54 222h3v3h-3zM104 225h3v3h-3zM171 222h7v7h-7zM205 225h2v2h-2zM212 221h6v6h-6zM235 225h3v3h-3zM262 224h4v4h-4zM61 234h4v4h-4zM223 233h3v3h-3zM262 234h3v3h-3zM281 232h4v4h-4zM283 231h2v2h-2zM323 233h3v3h-3zM-7 241h6v6h-6zM-9 243h2v2h-2zM92 243h2v2h-2zM162 243h3v3h-3zM237 246h2v2h-2zM261 247h2v2h-2zM283 244h4v4h-4zM113 255h4v4h-4zM142 256h3v3h-3zM252 251h7v7h-7zM255 256h2v2h-2zM276 255h2v2h-2zM133 265h4v4h-4zM-5 273h3v3h-3zM195 271h4v4h-4zM196 275h2v2h-2zM232 273h3v3h-3zM253 272h4v4h-4zM264 273h4v4h-4zM82 283h3v3h-3zM114 283h3v3h-3zM187 284h2v2h-2zM253 294h2v2h-2zM297 297h2v2h-2zM312 294h4v4h-4zM316 296h2v2h-2zM83 303h4v4h-4zM175 305h3v3h-3zM194 303h3v3h-3zM232 305h2v2h-2zM283 302h3v3h-3zM151 314h3v3h-3zM184 313h3v3h-3zM192 313h3v3h-3zM214 313h3v3h-3zM146 324h3v3h-3zM172 323h4v4h-4zM206 326h3v3h-3zM212 323h3v3h-3zM211 326h2v2h-2zM294 321h3v3h-3zM321 323h4v4h-4zM4 332h2v2h-2zM67 331h2v2h-2zM74 333h3v3h-3zM84 334h3v3h-3zM92 334h3v3h-3zM124 334h3v3h-3zM133 333h3v3h-3zM142 332h3v3h-3zM185 337h2v2h-2zM203 335h3v3h-3zM34 343h3v3h-3zM161 341h2v2h-2zM173 345h3v3h-3zM205 344h3v3h-3zM321 343h4v4h-4zM-5 354h3v3h-3zM-4 355h2v2h-2zM2 351h3v3h-3zM52 352h3v3h-3zM94 356h3v3h-3zM112 354h3v3h-3zM123 353h3v3h-3zM147 353h2v2h-2zM184 353h2v2h-2zM197 351h2v2h-2zM274 352h4v4h-4zM282 355h4v4h-4zM283 355h2v2h-2zM315 352h3v3h-3zM24 365h3v3h-3zM86 365h3v3h-3zM111 362h3v3h-3zM217 365h2v2h-2zM215 365h2v2h-2zM302 363h3v3h-3zM-4 373h3v3h-3zM-6 374h2v2h-2zM3 375h3v3h-3zM3 375h2v2h-2zM52 372h3v3h-3zM54 377h2v2h-2zM93 374h4v4h-4zM151 372h3v3h-3zM163 372h3v3h-3zM203 375h3v3h-3zM215 377h2v2h-2zM223 372h3v3h-3zM11 383h3v3h-3zM36 381h3v3h-3zM52 382h2v2h-2zM73 383h4v4h-4zM104 382h4v4h-4zM135 381h2v2h-2zM176 382h2v2h-2zM172 381h2v2h-2zM202 384h3v3h-3zM202 384h2v2h-2zM202 387h2v2h-2zM244 383h2v2h-2zM281 385h3v3h-3zM292 386h3v3h-3zM303 384h3v3h-3zM-9 397h2v2h-2zM26 393h3v3h-3zM44 392h3v3h-3zM43 393h2v2h-2zM57 396h2v2h-2zM65 395h3v3h-3zM74 392h3v3h-3zM84 393h3v3h-3zM92 394h3v3h-3zM101 395h2v2h-2zM122 394h3v3h-3zM146 393h3v3h-3zM152 392h7v7h-7zM166 395h2v2h-2zM197 396h2v2h-2zM323 394h4v4h-4zM4 406h2v2h-2zM23 401h2v2h-2zM123 403h3v3h-3zM184 405h2v2h-2zM196 401h2v2h-2zM246 403h2v2h-2zM245 402h2v2h-2zM284 405h3v3h-3zM301 403h2v2h-2z"/>
<path fill="#ff2600" d="M21 -9h8v8h-8zM82 -9h4v4h-4zM122 -8h7v7h-7zM172 -9h7v7h-7zM212 -8h7v7h-7zM272 -5h4v4h-4zM14 4h3v3h-3zM52 2h7v7h-7zM61 1h8v8h-8zM132 2h4v4h-4zM222 4h4v4h-4zM22 15h3v3h-3zM34 14h3v3h-3zM61 12h7v7h-7zM72 15h3v3h-3zM95 13h2v2h-2zM143 17h2v2h-2zM173 15h2v2h-2zM206 14h3v3h-3zM201 11h2v2h-2zM11 22h7v7h-7zM22 23h2v2h-2zM22 23h2v2h-2zM72 22h7v7h-7zM131 24h2v2h-2zM131 27h2v2h-2zM194 22h2v2h-2zM306 24h3v3h-3zM112 32h4v4h-4zM125 31h2v2h-2zM132 32h7v7h-7zM147 32h2v2h-2zM151 32h7v7h-7zM192 33h3v3h-3zM296 35h2v2h-2zM22 43h3v3h-3zM161 42h7v7h-7zM192 41h7v7h-7zM101 51h7v7h-7zM135 55h2v2h-2zM141 51h8v8h-8zM165 53h2v2h-2zM181 51h7v7h-7zM232 52h7v7h-7zM261 52h7v7h-7zM273 52h4v4h-4zM312 51h2v2h-2zM162 66h2v2h-2zM182 62h7v7h-7zM261 61h8v8h-8zM272 62h7v7h-7zM292 61h7v7h-7zM311 61h8v8h-8zM11 71h8v8h-8zM25 72h3v3h-3zM45 72h4v4h-4zM45 75h2v2h-2zM43 77h2v2h-2zM95 73h3v3h-3zM102 72h3v3h-3zM131 72h7v7h-7zM146 73h3v3h-3zM155 75h3v3h-3zM164 72h4v4h-4zM194 71h3v3h-3zM232 71h2v2h-2zM261 71h7v7h-7zM12 84h4v4h-4zM17 81h2v2h-2zM111 81h2v2h-2zM113 85h2v2h-2zM161 83h4v4h-4zM201 81h7v7h-7zM221 81h8v8h-8zM241 81h8v8h-8zM267 87h2v2h-2zM281 82h7v7h-7zM14 95h3v3h-3zM46 95h2v2h-2zM53 95h2v2h-2zM65 93h3v3h-3zM94 93h3v3h-3zM104 93h4v4h-4zM101 92h2v2h-2zM222 91h7v7h-7zM252 92h7v7h-7zM326 91h3v3h-3zM321 96h2v2h-2zM51 103h3v3h-3zM102 102h4v4h-4zM102 105h2v2h-2zM104 103h2v2h-2zM126 104h2v2h-2zM167 101h2v2h-2zM181 101h8v8h-8zM207 102h2v2h-2zM251 101h7v7h-7zM265 106h3v3h-3zM2 115h2v2h-2zM15 113h3v3h-3zM51 111h8v8h-8zM61 111h7v7h-7zM91 111h7v7h-7zM131 115h4v4h-4zM243 112h3v3h-3zM243 116h2v2h-2zM243 117h2v2h-2zM273 114h3v3h-3zM273 116h2v2h-2zM313 114h4v4h-4zM-9 122h7v7h-7zM14 122h3v3h-3zM62 126h3v3h-3zM82 122h2v2h-2zM91 121h8v8h-8zM141 122h7v7h-7zM155 122h2v2h-2zM256 124h3v3h-3zM297 127h2v2h-2zM301 121h8v8h-8zM-7 132h3v3h-3zM-9 134h2v2h-2zM34 135h3v3h-3zM51 134h3v3h-3zM83 131h3v3h-3zM101 131h7v7h-7zM147 134h2v2h-2zM283 132h3v3h-3zM12 143h3v3h-3zM22 147h2v2h-2zM32 141h7v7h-7zM95 143h4v4h-4zM121 142h7v7h-7zM142 142h7v7h-7zM315 142h4v4h-4zM321 142h4v4h-4zM1 151h8v8h-8zM16 151h3v3h-3zM24 154h2v2h-2zM102 151h7v7h-7zM141 151h8v8h-8zM173 153h3v3h-3zM11 163h3v3h-3zM25 162h3v3h-3zM105 164h3v3h-3zM131 161h8v8h-8zM145 163h3v3h-3zM251 165h2v2h-2zM282 164h3v3h-3zM91 172h7v7h-7zM201 177h2v2h-2zM31 186h3v3h-3zM42 184h4v4h-4zM93 184h3v3h-3zM102 181h7v7h-7zM111 181h8v8h-8zM252 182h3v3h-3zM282 184h3v3h-3zM65 191h4v4h-4zM64 191h2v2h-2zM82 193h3v3h-3zM91 191h8v8h-8zM112 191h7v7h-7zM121 191h8v8h-8zM132 191h7v7h-7zM81 201h7v7h-7zM92 202h7v7h-7zM131 201h7v7h-7zM171 201h8v8h-8zM267 205h2v2h-2zM302 204h4v4h-4zM65 214h3v3h-3zM65 214h2v2h-2zM92 212h7v7h-7zM101 211h7v7h-7zM111 211h8v8h-8zM131 211h8v8h-8zM141 212h7v7h-7zM172 211h7v7h-7zM216 215h3v3h-3zM223 211h2v2h-2zM305 211h4v4h-4zM65 224h2v2h-2zM113 221h2v2h-2zM132 221h7v7h-7zM205 225h2v2h-2zM222 223h2v2h-2zM34 231h3v3h-3zM95 235h3v3h-3zM105 234h2v2h-2zM131 231h8v8h-8zM182 232h7v7h-7zM1 246h3v3h-3zM91 245h3v3h-3zM112 242h7v7h-7zM202 242h7v7h-7zM262 244h4v4h-4zM91 255h2v2h-2zM162 251h2v2h-2zM201 251h8v8h-8zM211 251h8v8h-8zM324 252h3v3h-3zM7 265h2v2h-2zM4 265h2v2h-2zM141 261h8v8h-8zM161 262h7v7h-7zM196 261h2v2h-2zM224 263h3v3h-3zM162 274h4v4h-4zM212 272h7v7h-7zM44 293h4v4h-4zM126 294h2v2h-2zM122 293h2v2h-2zM163 293h4v4h-4zM165 291h2v2h-2zM185 292h3v3h-3zM231 291h8v8h-8zM261 292h7v7h-7zM94 304h3v3h-3zM155 304h3v3h-3zM221 302h4v4h-4zM226 303h2v2h-2zM233 306h3v3h-3zM95 314h3v3h-3zM223 313h4v4h-4zM222 314h2v2h-2zM122 321h3v3h-3zM233 322h4v4h-4zM281 323h3v3h-3zM4 336h2v2h-2zM12 333h2v2h-2zM51 334h2v2h-2zM175 332h3v3h-3zM187 337h2v2h-2zM226 333h3v3h-3zM241 331h8v8h-8zM21 347h2v2h-2zM142 343h2v2h-2zM235 342h2v2h-2zM241 341h7v7h-7zM257 341h2v2h-2zM273 345h4v4h-4zM81 351h4v4h-4zM144 351h3v3h-3zM183 355h3v3h-3zM186 355h2v2h-2zM203 355h4v4h-4zM231 351h8v8h-8zM-6 363h3v3h-3zM35 363h2v2h-2zM103 363h4v4h-4zM123 366h3v3h-3zM214 363h3v3h-3zM232 362h4v4h-4zM255 361h3v3h-3zM34 372h2v2h-2zM63 373h3v3h-3zM122 372h7v7h-7zM141 372h7v7h-7zM172 373h4v4h-4zM271 372h7v7h-7zM303 373h4v4h-4zM302 376h2v2h-2zM45 386h3v3h-3zM95 381h2v2h-2zM114 383h3v3h-3zM173 382h4v4h-4zM231 384h3v3h-3zM245 384h3v3h-3zM254 383h4v4h-4zM317 383h2v2h-2zM-8 393h3v3h-3zM14 393h4v4h-4zM104 394h3v3h-3zM114 395h3v3h-3zM161 395h4v4h-4zM176 394h2v2h-2zM193 394h4v4h-4zM213 393h2v2h-2zM241 392h7v7h-7zM262 392h7v7h-7zM286 392h3v3h-3zM317 391h2v2h-2zM-6 402h2v2h-2zM11 401h8v8h-8zM23 403h4v4h-4zM113 405h3v3h-3zM134 402h3v3h-3zM164 405h4v4h-4zM173 403h3v3h-3zM295 405h3v3h-3zM304 402h3v3h-3z"/>
<path fill="#ff0200" d="M63 -8h3v3h-3zM111 -9h8v8h-8zM132 -8h7v7h-7zM141 -9h7v7h-7zM195 -3h2v2h-2zM201 -9h8v8h-8zM232 -5h4v4h-4zM25 2h3v3h-3zM81 1h7v7h-7zM91 2h7v7h-7zM143 3h3v3h-3zM155 3h3v3h-3zM161 1h8v8h-8zM82 11h7v7h-7zM104 14h3v3h-3zM144 12h4v4h-4zM162 11h7v7h-7zM182 11h7v7h-7zM33 24h4v4h-4zM51 21h7v7h-7zM176 24h3v3h-3zM-4 34h3v3h-3zM25 31h3v3h-3zM41 31h8v8h-8zM72 33h3v3h-3zM142 32h4v4h-4zM91 41h7v7h-7zM231 41h8v8h-8zM254 46h2v2h-2zM261 41h8v8h-8zM271 41h7v7h-7zM304 44h2v2h-2zM115 56h3v3h-3zM116 52h2v2h-2zM154 53h3v3h-3zM164 53h3v3h-3zM192 51h7v7h-7zM135 63h3v3h-3zM145 66h2v2h-2zM165 65h4v4h-4zM172 62h4v4h-4zM212 61h3v3h-3zM323 65h3v3h-3zM113 75h2v2h-2zM174 75h4v4h-4zM211 72h7v7h-7zM235 71h3v3h-3zM282 72h7v7h-7zM291 71h8v8h-8zM301 71h8v8h-8zM312 71h7v7h-7zM24 81h2v2h-2zM23 84h2v2h-2zM52 84h4v4h-4zM62 81h7v7h-7zM211 81h7v7h-7zM254 84h3v3h-3zM303 84h3v3h-3zM302 87h2v2h-2zM-4 95h3v3h-3zM43 94h4v4h-4zM85 93h4v4h-4zM121 91h7v7h-7zM196 94h3v3h-3zM196 96h2v2h-2zM21 102h7v7h-7zM65 101h3v3h-3zM83 104h4v4h-4zM153 105h3v3h-3zM204 104h3v3h-3zM244 103h3v3h-3zM283 104h3v3h-3zM21 114h4v4h-4zM73 114h2v2h-2zM123 112h3v3h-3zM295 114h3v3h-3zM297 113h2v2h-2zM305 115h3v3h-3zM22 122h3v3h-3zM32 121h7v7h-7zM44 122h2v2h-2zM81 121h4v4h-4zM294 123h4v4h-4zM321 121h7v7h-7zM62 132h7v7h-7zM124 133h3v3h-3zM264 135h3v3h-3zM293 132h3v3h-3zM21 143h4v4h-4zM163 143h4v4h-4zM273 144h3v3h-3zM-9 154h3v3h-3zM42 152h7v7h-7zM71 151h8v8h-8zM82 152h7v7h-7zM111 151h7v7h-7zM161 152h3v3h-3zM324 151h3v3h-3zM-8 163h3v3h-3zM-9 167h2v2h-2zM71 162h7v7h-7zM111 161h7v7h-7zM124 163h3v3h-3zM162 162h7v7h-7zM172 161h7v7h-7zM255 162h3v3h-3zM13 173h4v4h-4zM72 172h7v7h-7zM121 171h8v8h-8zM171 172h7v7h-7zM131 182h7v7h-7zM141 182h7v7h-7zM172 182h7v7h-7zM203 184h3v3h-3zM76 192h3v3h-3zM141 192h7v7h-7zM315 191h3v3h-3zM111 202h7v7h-7zM141 201h7v7h-7zM195 202h4v4h-4zM191 202h2v2h-2zM255 202h4v4h-4zM181 211h7v7h-7zM6 223h3v3h-3zM63 224h4v4h-4zM81 221h8v8h-8zM91 221h7v7h-7zM114 225h3v3h-3zM113 223h2v2h-2zM245 222h4v4h-4zM-6 233h4v4h-4zM105 232h4v4h-4zM111 231h8v8h-8zM141 232h7v7h-7zM206 232h2v2h-2zM134 247h2v2h-2zM141 241h8v8h-8zM181 242h7v7h-7zM191 241h7v7h-7zM211 241h7v7h-7zM225 243h3v3h-3zM234 241h4v4h-4zM251 246h2v2h-2zM64 254h4v4h-4zM92 254h4v4h-4zM122 251h7v7h-7zM166 255h3v3h-3zM171 251h8v8h-8zM191 251h7v7h-7zM223 255h3v3h-3zM271 253h4v4h-4zM173 275h3v3h-3zM31 285h3v3h-3zM125 287h2v2h-2zM131 281h8v8h-8zM182 282h3v3h-3zM203 284h3v3h-3zM222 281h7v7h-7zM244 281h2v2h-2zM292 284h4v4h-4zM73 292h4v4h-4zM211 291h8v8h-8zM186 301h2v2h-2zM241 302h7v7h-7zM114 312h3v3h-3zM246 313h3v3h-3zM153 323h3v3h-3zM223 323h4v4h-4zM261 322h3v3h-3zM277 324h2v2h-2zM15 336h2v2h-2zM57 335h2v2h-2zM107 334h2v2h-2zM183 333h3v3h-3zM235 337h2v2h-2zM252 332h4v4h-4zM281 332h3v3h-3zM24 344h3v3h-3zM71 341h3v3h-3zM152 341h7v7h-7zM166 345h2v2h-2zM181 341h8v8h-8zM232 343h4v4h-4zM255 343h4v4h-4zM265 345h3v3h-3zM263 346h2v2h-2zM35 354h2v2h-2zM64 352h3v3h-3zM193 356h3v3h-3zM5 365h3v3h-3zM133 366h3v3h-3zM162 366h3v3h-3zM182 362h7v7h-7zM222 364h4v4h-4zM83 372h3v3h-3zM234 373h4v4h-4zM51 382h2v2h-2zM95 384h3v3h-3zM133 382h3v3h-3zM143 384h3v3h-3zM146 384h2v2h-2zM165 382h3v3h-3zM182 382h7v7h-7zM54 394h3v3h-3zM173 392h4v4h-4zM175 394h2v2h-2zM202 391h7v7h-7zM214 395h2v2h-2zM311 392h4v4h-4zM-8 404h4v4h-4zM5 403h3v3h-3zM53 404h3v3h-3zM62 404h3v3h-3zM95 403h3v3h-3zM183 404h4v4h-4zM194 402h4v4h-4zM211 402h7v7h-7zM233 402h3v3h-3zM233 403h2v2h-2zM261 401h8v8h-8zM271 404h2v2h-2z"/>
<path fill="#dd0000" d="M72 -7h3v3h-3zM91 -7h3v3h-3zM103 -6h4v4h-4zM163 -5h3v3h-3zM194 -7h3v3h-3zM254 -3h2v2h-2zM292 -6h3v3h-3zM295 -3h2v2h-2zM31 1h8v8h-8zM126 4h3v3h-3zM1 11h8v8h-8zM42 12h4v4h-4zM95 12h3v3h-3zM174 13h3v3h-3zM304 15h3v3h-3zM4 23h4v4h-4zM25 23h3v3h-3zM95 21h4v4h-4zM115 25h3v3h-3zM132 22h4v4h-4zM143 22h4v4h-4zM151 21h8v8h-8zM92 34h3v3h-3zM91 32h2v2h-2zM124 36h3v3h-3zM293 35h3v3h-3zM323 33h4v4h-4zM111 42h7v7h-7zM142 44h4v4h-4zM203 43h2v2h-2zM222 42h7v7h-7zM254 44h4v4h-4zM301 44h4v4h-4zM302 41h2v2h-2zM134 52h3v3h-3zM202 51h7v7h-7zM221 51h8v8h-8zM251 51h7v7h-7zM292 55h4v4h-4zM304 56h3v3h-3zM315 54h3v3h-3zM106 63h3v3h-3zM191 62h7v7h-7zM201 61h7v7h-7zM241 61h8v8h-8zM283 64h3v3h-3zM114 75h3v3h-3zM182 72h7v7h-7zM252 72h7v7h-7zM272 71h7v7h-7zM24 85h3v3h-3zM42 85h2v2h-2zM84 82h3v3h-3zM103 82h3v3h-3zM191 81h8v8h-8zM264 83h3v3h-3zM21 91h3v3h-3zM53 95h3v3h-3zM241 92h7v7h-7zM271 91h8v8h-8zM284 91h3v3h-3zM-7 104h3v3h-3zM13 103h4v4h-4zM31 105h3v3h-3zM34 106h2v2h-2zM42 103h3v3h-3zM111 102h7v7h-7zM123 105h3v3h-3zM134 104h4v4h-4zM165 103h3v3h-3zM193 103h3v3h-3zM271 101h8v8h-8zM311 102h7v7h-7zM321 101h7v7h-7zM5 113h4v4h-4zM74 113h4v4h-4zM102 112h7v7h-7zM112 114h3v3h-3zM153 114h3v3h-3zM162 111h4v4h-4zM163 117h2v2h-2zM281 111h7v7h-7zM43 121h3v3h-3zM76 125h3v3h-3zM131 121h8v8h-8zM166 123h3v3h-3zM14 134h3v3h-3zM11 131h2v2h-2zM112 131h7v7h-7zM131 131h8v8h-8zM145 133h3v3h-3zM161 132h4v4h-4zM312 132h3v3h-3zM313 132h2v2h-2zM-8 141h7v7h-7zM62 142h7v7h-7zM71 141h8v8h-8zM81 141h8v8h-8zM111 141h7v7h-7zM151 142h7v7h-7zM184 142h4v4h-4zM23 153h4v4h-4zM92 151h7v7h-7zM122 152h7v7h-7zM262 152h4v4h-4zM264 156h2v2h-2zM294 153h4v4h-4zM33 162h4v4h-4zM41 161h7v7h-7zM62 161h7v7h-7zM92 161h7v7h-7zM21 171h3v3h-3zM42 171h7v7h-7zM131 171h8v8h-8zM142 172h7v7h-7zM161 172h7v7h-7zM201 174h4v4h-4zM284 174h3v3h-3zM51 182h3v3h-3zM151 182h7v7h-7zM162 182h7v7h-7zM151 191h7v7h-7zM161 191h8v8h-8zM102 205h3v3h-3zM121 202h7v7h-7zM151 201h7v7h-7zM183 203h3v3h-3zM262 202h3v3h-3zM191 211h8v8h-8zM203 215h4v4h-4zM206 211h2v2h-2zM223 214h3v3h-3zM-7 221h4v4h-4zM122 221h7v7h-7zM142 222h7v7h-7zM151 221h8v8h-8zM181 221h8v8h-8zM192 222h7v7h-7zM204 222h3v3h-3zM225 221h3v3h-3zM82 231h7v7h-7zM121 232h7v7h-7zM162 231h7v7h-7zM171 231h8v8h-8zM206 235h3v3h-3zM211 231h7v7h-7zM151 242h7v7h-7zM253 242h3v3h-3zM106 254h3v3h-3zM131 251h8v8h-8zM285 254h3v3h-3zM2 263h3v3h-3zM152 261h7v7h-7zM171 261h8v8h-8zM182 262h7v7h-7zM191 262h3v3h-3zM235 262h3v3h-3zM115 273h3v3h-3zM144 274h3v3h-3zM201 273h4v4h-4zM123 286h3v3h-3zM152 281h7v7h-7zM195 284h4v4h-4zM234 283h4v4h-4zM233 283h2v2h-2zM245 281h3v3h-3zM123 292h3v3h-3zM153 293h4v4h-4zM172 294h3v3h-3zM222 292h7v7h-7zM275 293h3v3h-3zM292 293h3v3h-3zM12 305h3v3h-3zM124 302h4v4h-4zM184 305h3v3h-3zM201 302h7v7h-7zM211 301h8v8h-8zM302 305h3v3h-3zM313 304h3v3h-3zM61 323h3v3h-3zM272 323h3v3h-3zM5 333h4v4h-4zM14 334h3v3h-3zM56 333h3v3h-3zM65 335h4v4h-4zM103 333h3v3h-3zM13 343h3v3h-3zM63 343h3v3h-3zM131 342h7v7h-7zM143 342h3v3h-3zM162 345h3v3h-3zM31 355h3v3h-3zM161 351h8v8h-8zM241 352h7v7h-7zM31 365h2v2h-2zM74 363h3v3h-3zM142 362h3v3h-3zM206 365h3v3h-3zM21 372h3v3h-3zM34 374h3v3h-3zM185 375h3v3h-3zM214 373h3v3h-3zM242 371h7v7h-7zM252 372h7v7h-7zM55 385h3v3h-3zM121 381h8v8h-8zM224 384h3v3h-3zM312 381h3v3h-3zM31 391h8v8h-8zM185 395h4v4h-4zM216 396h3v3h-3zM221 392h7v7h-7zM231 391h8v8h-8zM81 402h7v7h-7zM101 403h3v3h-3zM221 402h7v7h-7zM241 402h4v4h-4zM251 402h7v7h-7zM272 405h4v4h-4zM311 401h8v8h-8z"/>
<path fill="#b80000" d="M254 -7h4v4h-4zM41 2h7v7h-7zM71 1h8v8h-8zM171 1h7v7h-7zM181 1h7v7h-7zM-9 21h8v8h-8zM42 22h7v7h-7zM183 24h3v3h-3zM195 23h3v3h-3zM201 21h8v8h-8zM212 22h7v7h-7zM52 31h7v7h-7zM61 31h8v8h-8zM161 31h7v7h-7zM182 31h7v7h-7zM101 41h8v8h-8zM131 41h8v8h-8zM181 41h8v8h-8zM202 42h3v3h-3zM212 41h7v7h-7zM121 51h7v7h-7zM212 51h7v7h-7zM242 52h7v7h-7zM141 64h3v3h-3zM222 62h7v7h-7zM251 61h8v8h-8zM301 61h8v8h-8zM242 72h7v7h-7zM44 83h3v3h-3zM113 85h3v3h-3zM171 81h8v8h-8zM272 81h7v7h-7zM291 81h8v8h-8zM321 82h7v7h-7zM1 92h7v7h-7zM211 91h7v7h-7zM301 91h7v7h-7zM1 121h7v7h-7zM121 121h7v7h-7zM152 124h4v4h-4zM91 131h8v8h-8zM152 133h4v4h-4zM51 151h8v8h-8zM61 151h7v7h-7zM131 151h8v8h-8zM151 152h7v7h-7zM82 161h7v7h-7zM151 161h8v8h-8zM81 172h7v7h-7zM101 172h7v7h-7zM111 171h7v7h-7zM151 171h8v8h-8zM61 182h7v7h-7zM121 181h8v8h-8zM101 191h8v8h-8zM162 201h7v7h-7zM152 212h7v7h-7zM162 213h3v3h-3zM161 221h7v7h-7zM212 223h3v3h-3zM192 234h3v3h-3zM-7 241h3v3h-3zM-4 247h2v2h-2zM132 243h3v3h-3zM231 251h7v7h-7zM253 252h4v4h-4zM202 261h7v7h-7zM214 262h4v4h-4zM181 272h7v7h-7zM161 282h7v7h-7zM212 281h7v7h-7zM273 285h4v4h-4zM201 291h8v8h-8zM255 293h3v3h-3zM16 314h3v3h-3zM233 333h4v4h-4zM213 346h3v3h-3zM172 352h7v7h-7zM32 361h4v4h-4zM271 381h8v8h-8zM141 401h8v8h-8z"/>
<path fill="#4a0000" d="M11 -7h6v6h-6zM23 -7h6v6h-6zM174 -9h5v5h-5zM42 3h6v6h-6zM52 4h5v5h-5zM63 1h5v5h-5zM92 2h5v5h-5zM171 1h6v6h-6zM2 13h6v6h-6zM12 24h5v5h-5zM154 22h5v5h-5zM201 22h5v5h-5zM212 23h5v5h-5zM133 33h6v6h-6zM151 33h5v5h-5zM162 32h6v6h-6zM233 43h5v5h-5zM261 42h6v6h-6zM143 52h6v6h-6zM183 51h5v5h-5zM222 52h5v5h-5zM232 53h6v6h-6zM262 52h5v5h-5zM184 64h5v5h-5zM203 61h5v5h-5zM253 62h5v5h-5zM262 63h5v5h-5zM301 62h5v5h-5zM313 61h6v6h-6zM13 73h5v5h-5zM183 73h6v6h-6zM262 72h5v5h-5zM272 72h5v5h-5zM63 83h5v5h-5zM193 83h5v5h-5zM243 81h6v6h-6zM272 82h5v5h-5zM322 82h5v5h-5zM2 93h6v6h-6zM272 92h5v5h-5zM22 103h5v5h-5zM184 102h5v5h-5zM252 101h5v5h-5zM51 111h6v6h-6zM2 122h6v6h-6zM132 121h5v5h-5zM301 121h5v5h-5zM101 131h5v5h-5zM-8 141h5v5h-5zM43 153h5v5h-5zM63 153h5v5h-5zM111 152h6v6h-6zM124 154h5v5h-5zM143 151h5v5h-5zM71 162h5v5h-5zM84 161h5v5h-5zM93 161h5v5h-5zM163 164h5v5h-5zM173 163h5v5h-5zM43 173h5v5h-5zM123 172h6v6h-6zM142 172h5v5h-5zM62 183h5v5h-5zM103 183h5v5h-5zM111 183h5v5h-5zM124 181h5v5h-5zM141 183h6v6h-6zM163 183h6v6h-6zM174 183h5v5h-5zM113 193h5v5h-5zM132 191h6v6h-6zM142 193h6v6h-6zM142 202h5v5h-5zM103 211h5v5h-5zM112 212h5v5h-5zM143 214h5v5h-5zM153 212h6v6h-6zM181 212h5v5h-5zM91 221h5v5h-5zM122 223h5v5h-5zM143 223h6v6h-6zM161 222h6v6h-6zM183 221h5v5h-5zM114 231h5v5h-5zM122 233h5v5h-5zM172 233h5v5h-5zM211 232h5v5h-5zM112 242h5v5h-5zM141 241h5v5h-5zM181 243h5v5h-5zM204 242h5v5h-5zM211 241h5v5h-5zM231 251h5v5h-5zM183 262h6v6h-6zM181 272h6v6h-6zM153 283h5v5h-5zM234 294h5v5h-5zM202 302h6v6h-6zM211 303h5v5h-5zM153 342h6v6h-6zM184 363h5v5h-5zM242 372h5v5h-5zM272 383h5v5h-5zM34 392h5v5h-5zM202 391h6v6h-6zM223 392h5v5h-5zM242 393h6v6h-6zM262 394h5v5h-5zM81 402h5v5h-5zM252 402h6v6h-6z"/>
<path fill="#250000" d="M113 -7h5v5h-5zM122 -8h6v6h-6zM143 -7h5v5h-5zM203 -7h6v6h-6zM212 -8h6v6h-6zM71 1h5v5h-5zM82 3h5v5h-5zM182 1h5v5h-5zM83 12h6v6h-6zM183 13h5v5h-5zM-9 23h5v5h-5zM42 23h5v5h-5zM44 32h5v5h-5zM61 32h5v5h-5zM182 32h5v5h-5zM91 42h5v5h-5zM102 41h6v6h-6zM113 44h5v5h-5zM132 41h6v6h-6zM162 43h5v5h-5zM181 43h5v5h-5zM193 41h6v6h-6zM213 43h5v5h-5zM102 53h5v5h-5zM121 52h6v6h-6zM193 52h6v6h-6zM203 52h5v5h-5zM244 53h5v5h-5zM253 51h5v5h-5zM191 63h6v6h-6zM222 62h6v6h-6zM241 63h5v5h-5zM253 73h5v5h-5zM283 73h5v5h-5zM313 71h6v6h-6zM173 82h5v5h-5zM201 82h5v5h-5zM212 81h6v6h-6zM222 84h5v5h-5zM283 82h5v5h-5zM293 83h5v5h-5zM123 91h5v5h-5zM212 91h5v5h-5zM224 91h5v5h-5zM242 92h6v6h-6zM252 92h6v6h-6zM302 91h5v5h-5zM112 102h6v6h-6zM271 103h6v6h-6zM322 103h5v5h-5zM61 112h6v6h-6zM103 112h5v5h-5zM283 111h5v5h-5zM-9 124h5v5h-5zM33 122h5v5h-5zM121 121h6v6h-6zM141 123h5v5h-5zM322 123h5v5h-5zM113 131h6v6h-6zM32 143h5v5h-5zM62 142h6v6h-6zM72 141h6v6h-6zM81 143h6v6h-6zM112 142h6v6h-6zM142 144h5v5h-5zM151 142h6v6h-6zM71 152h5v5h-5zM102 151h6v6h-6zM42 162h6v6h-6zM153 162h5v5h-5zM81 173h5v5h-5zM93 173h5v5h-5zM101 173h6v6h-6zM133 184h5v5h-5zM152 184h5v5h-5zM101 193h5v5h-5zM121 193h6v6h-6zM162 191h6v6h-6zM82 202h5v5h-5zM94 202h5v5h-5zM113 203h5v5h-5zM123 204h5v5h-5zM131 201h5v5h-5zM152 203h5v5h-5zM163 202h6v6h-6zM172 204h5v5h-5zM92 213h5v5h-5zM174 212h5v5h-5zM192 211h5v5h-5zM82 223h5v5h-5zM133 222h6v6h-6zM154 224h5v5h-5zM83 232h6v6h-6zM141 234h5v5h-5zM164 232h5v5h-5zM184 232h5v5h-5zM191 242h6v6h-6zM131 251h5v5h-5zM214 254h5v5h-5zM143 261h6v6h-6zM173 263h6v6h-6zM203 262h5v5h-5zM212 273h6v6h-6zM133 283h5v5h-5zM161 282h5v5h-5zM224 283h5v5h-5zM201 293h5v5h-5zM212 291h6v6h-6zM263 294h5v5h-5zM242 303h5v5h-5zM242 341h6v6h-6zM173 354h5v5h-5zM242 354h5v5h-5zM252 373h5v5h-5zM273 374h5v5h-5zM121 382h6v6h-6zM184 383h5v5h-5zM233 394h5v5h-5zM141 402h5v5h-5zM223 403h5v5h-5zM312 404h5v5h-5z"/>
<path fill="#000000" d="M134 -7h5v5h-5zM33 1h5v5h-5zM164 4h5v5h-5zM62 14h5v5h-5zM164 13h5v5h-5zM52 21h6v6h-6zM72 22h6v6h-6zM52 31h5v5h-5zM223 43h6v6h-6zM271 42h6v6h-6zM212 53h5v5h-5zM273 62h6v6h-6zM293 62h5v5h-5zM132 73h6v6h-6zM213 74h5v5h-5zM243 74h5v5h-5zM293 71h6v6h-6zM302 71h6v6h-6zM312 102h6v6h-6zM82 112h5v5h-5zM93 111h5v5h-5zM91 122h5v5h-5zM62 134h5v5h-5zM93 131h5v5h-5zM131 132h6v6h-6zM122 142h5v5h-5zM3 154h5v5h-5zM51 153h5v5h-5zM83 154h5v5h-5zM93 151h6v6h-6zM132 152h6v6h-6zM152 154h5v5h-5zM63 162h6v6h-6zM113 163h5v5h-5zM132 162h6v6h-6zM73 172h6v6h-6zM111 173h5v5h-5zM134 174h5v5h-5zM152 171h5v5h-5zM161 173h5v5h-5zM172 173h6v6h-6zM94 193h5v5h-5zM152 192h6v6h-6zM131 212h6v6h-6zM173 223h5v5h-5zM192 223h6v6h-6zM133 231h6v6h-6zM152 243h5v5h-5zM122 252h5v5h-5zM173 253h6v6h-6zM191 253h5v5h-5zM201 252h6v6h-6zM153 262h5v5h-5zM163 264h5v5h-5zM214 282h5v5h-5zM222 292h6v6h-6zM241 333h6v6h-6zM132 342h6v6h-6zM181 341h6v6h-6zM163 351h5v5h-5zM231 353h6v6h-6zM122 372h5v5h-5zM143 374h5v5h-5zM154 394h5v5h-5zM13 402h6v6h-6zM212 403h5v5h-5zM261 401h6v6h-6z"/>
</g></g>
<circle cx="200" cy="140.9" r="2.6" fill="#7cc4e0"/>
</g>
<line x1="67.6" y1="20.9" x2="67.6" y2="222.8" stroke="#666" stroke-width="0.75" stroke-opacity="0.6"/>
<line x1="99.4" y1="20.9" x2="99.4" y2="222.8" stroke="#666" stroke-width="0.75" stroke-opacity="0.6"/>
<line x1="131" y1="20.9" x2="131" y2="222.8" stroke="#666" stroke-width="0.75" stroke-opacity="0.6"/>
<line x1="162.8" y1="20.9" x2="162.8" y2="222.8" stroke="#666" stroke-width="0.75" stroke-opacity="0.6"/>
<line x1="194.5" y1="20.9" x2="194.5" y2="222.8" stroke="#666" stroke-width="0.75" stroke-opacity="0.6"/>
<line x1="226.3" y1="20.9" x2="226.3" y2="222.8" stroke="#666" stroke-width="0.75" stroke-opacity="0.6"/>
<line x1="59" y1="58.9" x2="245" y2="58.9" stroke="#666" stroke-width="0.75" stroke-opacity="0.6"/>
<line x1="59" y1="92.2" x2="245" y2="92.2" stroke="#666" stroke-width="0.75" stroke-opacity="0.6"/>
<line x1="59" y1="125.3" x2="245" y2="125.3" stroke="#666" stroke-width="0.75" stroke-opacity="0.6"/>
<line x1="59" y1="159.3" x2="245" y2="159.3" stroke="#666" stroke-width="0.75" stroke-opacity="0.6"/>
<line x1="59" y1="193.3" x2="245" y2="193.3" stroke="#666" stroke-width="0.75" stroke-opacity="0.6"/>
<text x="67.6" y="230.7" font-size="6.39" fill="#3a3a3a" stroke="#3a3a3a" stroke-width="0.06" text-anchor="middle" textLength="15.7" lengthAdjust="spacingAndGlyphs" font-family='"Liberation Sans", sans-serif'>14°W</text>
<text x="99.4" y="230.7" font-size="6.39" fill="#3a3a3a" stroke="#3a3a3a" stroke-width="0.06" text-anchor="middle" textLength="15.7" lengthAdjust="spacingAndGlyphs" font-family='"Liberation Sans", sans-serif'>12°W</text>
<text x="131" y="230.7" font-size="6.39" fill="#3a3a3a" stroke="#3a3a3a" stroke-width="0.06" text-anchor="middle" textLength="15.7" lengthAdjust="spacingAndGlyphs" font-family='"Liberation Sans", sans-serif'>10°W</text>
<text x="162.8" y="230.69" font-size="6.37" fill="#3a3a3a" stroke="#3a3a3a" stroke-width="0.06" text-anchor="middle" textLength="12.1" lengthAdjust="spacingAndGlyphs" font-family='"Liberation Sans", sans-serif'>8°W</text>
<text x="194.5" y="230.69" font-size="6.37" fill="#3a3a3a" stroke="#3a3a3a" stroke-width="0.06" text-anchor="middle" textLength="12.1" lengthAdjust="spacingAndGlyphs" font-family='"Liberation Sans", sans-serif'>6°W</text>
<text x="226.3" y="230.69" font-size="6.37" fill="#3a3a3a" stroke="#3a3a3a" stroke-width="0.06" text-anchor="middle" textLength="12.1" lengthAdjust="spacingAndGlyphs" font-family='"Liberation Sans", sans-serif'>4°W</text>
<text x="56.3" y="61.14" font-size="6.51" fill="#3a3a3a" stroke="#3a3a3a" stroke-width="0.06" text-anchor="end" textLength="13.7" lengthAdjust="spacingAndGlyphs" font-family='"Liberation Sans", sans-serif'>11°S</text>
<text x="56.3" y="94.36" font-size="6.29" fill="#3a3a3a" stroke="#3a3a3a" stroke-width="0.06" text-anchor="end" textLength="13.7" lengthAdjust="spacingAndGlyphs" font-family='"Liberation Sans", sans-serif'>13°S</text>
<text x="56.3" y="127.46" font-size="6.29" fill="#3a3a3a" stroke="#3a3a3a" stroke-width="0.06" text-anchor="end" textLength="13.7" lengthAdjust="spacingAndGlyphs" font-family='"Liberation Sans", sans-serif'>15°S</text>
<text x="56.3" y="161.46" font-size="6.29" fill="#3a3a3a" stroke="#3a3a3a" stroke-width="0.06" text-anchor="end" textLength="13.7" lengthAdjust="spacingAndGlyphs" font-family='"Liberation Sans", sans-serif'>17°S</text>
<text x="56.3" y="195.46" font-size="6.29" fill="#3a3a3a" stroke="#3a3a3a" stroke-width="0.06" text-anchor="end" textLength="13.7" lengthAdjust="spacingAndGlyphs" font-family='"Liberation Sans", sans-serif'>19°S</text>
<defs><linearGradient id="hotr" x1="0" y1="1" x2="0" y2="0"><stop offset="0" stop-color="#ffffff"/><stop offset="0.254" stop-color="#ffff00"/><stop offset="0.635" stop-color="#ff0000"/><stop offset="1" stop-color="#000000"/></linearGradient></defs>
<rect x="249.5" y="20.4" width="8.5" height="200.9" fill="url(#hotr)"/>
<line x1="258.6" y1="20.3" x2="261" y2="20.3" stroke="#333" stroke-width="0.8" />
<text x="263.3" y="22.33" font-size="5.91" fill="#333" stroke="#333" stroke-width="0.06" text-anchor="start" textLength="11.5" lengthAdjust="spacingAndGlyphs" font-family='"Liberation Sans", sans-serif'>25.0</text>
<line x1="258.6" y1="42.32" x2="261" y2="42.32" stroke="#333" stroke-width="0.8" />
<text x="263.3" y="44.36" font-size="5.91" fill="#333" stroke="#333" stroke-width="0.06" text-anchor="start" textLength="11.5" lengthAdjust="spacingAndGlyphs" font-family='"Liberation Sans", sans-serif'>22.5</text>
<line x1="258.6" y1="64.34" x2="261" y2="64.34" stroke="#333" stroke-width="0.8" />
<text x="263.3" y="66.38" font-size="5.91" fill="#333" stroke="#333" stroke-width="0.06" text-anchor="start" textLength="11.5" lengthAdjust="spacingAndGlyphs" font-family='"Liberation Sans", sans-serif'>20.0</text>
<line x1="258.6" y1="86.37" x2="261" y2="86.37" stroke="#333" stroke-width="0.8" />
<text x="263.3" y="88.4" font-size="5.91" fill="#333" stroke="#333" stroke-width="0.06" text-anchor="start" textLength="11.5" lengthAdjust="spacingAndGlyphs" font-family='"Liberation Sans", sans-serif'>17.5</text>
<line x1="258.6" y1="108.39" x2="261" y2="108.39" stroke="#333" stroke-width="0.8" />
<text x="263.3" y="110.42" font-size="5.91" fill="#333" stroke="#333" stroke-width="0.06" text-anchor="start" textLength="11.5" lengthAdjust="spacingAndGlyphs" font-family='"Liberation Sans", sans-serif'>15.0</text>
<line x1="258.6" y1="130.41" x2="261" y2="130.41" stroke="#333" stroke-width="0.8" />
<text x="263.3" y="132.44" font-size="5.91" fill="#333" stroke="#333" stroke-width="0.06" text-anchor="start" textLength="11.5" lengthAdjust="spacingAndGlyphs" font-family='"Liberation Sans", sans-serif'>12.5</text>
<line x1="258.6" y1="152.43" x2="261" y2="152.43" stroke="#333" stroke-width="0.8" />
<text x="263.3" y="154.47" font-size="5.91" fill="#333" stroke="#333" stroke-width="0.06" text-anchor="start" textLength="11.5" lengthAdjust="spacingAndGlyphs" font-family='"Liberation Sans", sans-serif'>10.0</text>
<line x1="258.6" y1="174.46" x2="261" y2="174.46" stroke="#333" stroke-width="0.8" />
<text x="263.3" y="177.3" font-size="8.27" fill="#333" stroke="#333" stroke-width="0.06" text-anchor="start" textLength="11.5" lengthAdjust="spacingAndGlyphs" font-family='"Liberation Sans", sans-serif'>7.5</text>
<line x1="258.6" y1="196.48" x2="261" y2="196.48" stroke="#333" stroke-width="0.8" />
<text x="263.3" y="199.32" font-size="8.27" fill="#333" stroke="#333" stroke-width="0.06" text-anchor="start" textLength="11.5" lengthAdjust="spacingAndGlyphs" font-family='"Liberation Sans", sans-serif'>5.0</text>
<line x1="258.6" y1="218.5" x2="261" y2="218.5" stroke="#333" stroke-width="0.8" />
<text x="263.3" y="221.35" font-size="8.27" fill="#333" stroke="#333" stroke-width="0.06" text-anchor="start" textLength="11.5" lengthAdjust="spacingAndGlyphs" font-family='"Liberation Sans", sans-serif'>2.5</text>
<text x="280.6" y="124.34" font-size="5.94" fill="#333" stroke="#333" stroke-width="0.06" text-anchor="middle" font-family='"Liberation Sans", sans-serif'>τ</text>
<rect x="91.1" y="266.2" width="145.6" height="175.4" fill="#EAEAF2"/>
<line x1="101.1" y1="266.2" x2="101.1" y2="441.6" stroke="#ffffff" stroke-width="0.9" />
<line x1="143.6" y1="266.2" x2="143.6" y2="441.6" stroke="#ffffff" stroke-width="0.9" />
<line x1="186.1" y1="266.2" x2="186.1" y2="441.6" stroke="#ffffff" stroke-width="0.9" />
<line x1="228.6" y1="266.2" x2="228.6" y2="441.6" stroke="#ffffff" stroke-width="0.9" />
<line x1="91.1" y1="422.4" x2="236.7" y2="422.4" stroke="#ffffff" stroke-width="0.9" />
<line x1="91.1" y1="402.4" x2="236.7" y2="402.4" stroke="#ffffff" stroke-width="0.9" />
<line x1="91.1" y1="382.4" x2="236.7" y2="382.4" stroke="#ffffff" stroke-width="0.9" />
<line x1="91.1" y1="362.4" x2="236.7" y2="362.4" stroke="#ffffff" stroke-width="0.9" />
<line x1="91.1" y1="342.4" x2="236.7" y2="342.4" stroke="#ffffff" stroke-width="0.9" />
<line x1="91.1" y1="322.4" x2="236.7" y2="322.4" stroke="#ffffff" stroke-width="0.9" />
<line x1="91.1" y1="302.4" x2="236.7" y2="302.4" stroke="#ffffff" stroke-width="0.9" />
<line x1="91.1" y1="282.4" x2="236.7" y2="282.4" stroke="#ffffff" stroke-width="0.9" />
<text x="84.1" y="445.19" font-size="8.11" fill="#3a3a3a" stroke="#3a3a3a" stroke-width="0.06" text-anchor="end" textLength="20.3" lengthAdjust="spacingAndGlyphs" font-family='"Liberation Sans", sans-serif'>0.000</text>
<text x="84.1" y="425.19" font-size="8.11" fill="#3a3a3a" stroke="#3a3a3a" stroke-width="0.06" text-anchor="end" textLength="20.3" lengthAdjust="spacingAndGlyphs" font-family='"Liberation Sans", sans-serif'>0.025</text>
<text x="84.1" y="405.19" font-size="8.11" fill="#3a3a3a" stroke="#3a3a3a" stroke-width="0.06" text-anchor="end" textLength="20.3" lengthAdjust="spacingAndGlyphs" font-family='"Liberation Sans", sans-serif'>0.050</text>
<text x="84.1" y="385.19" font-size="8.11" fill="#3a3a3a" stroke="#3a3a3a" stroke-width="0.06" text-anchor="end" textLength="20.3" lengthAdjust="spacingAndGlyphs" font-family='"Liberation Sans", sans-serif'>0.075</text>
<text x="84.1" y="365.19" font-size="8.11" fill="#3a3a3a" stroke="#3a3a3a" stroke-width="0.06" text-anchor="end" textLength="20.3" lengthAdjust="spacingAndGlyphs" font-family='"Liberation Sans", sans-serif'>0.100</text>
<text x="84.1" y="345.19" font-size="8.11" fill="#3a3a3a" stroke="#3a3a3a" stroke-width="0.06" text-anchor="end" textLength="20.3" lengthAdjust="spacingAndGlyphs" font-family='"Liberation Sans", sans-serif'>0.125</text>
<text x="84.1" y="325.19" font-size="8.11" fill="#3a3a3a" stroke="#3a3a3a" stroke-width="0.06" text-anchor="end" textLength="20.3" lengthAdjust="spacingAndGlyphs" font-family='"Liberation Sans", sans-serif'>0.150</text>
<text x="84.1" y="305.19" font-size="8.11" fill="#3a3a3a" stroke="#3a3a3a" stroke-width="0.06" text-anchor="end" textLength="20.3" lengthAdjust="spacingAndGlyphs" font-family='"Liberation Sans", sans-serif'>0.175</text>
<text x="84.1" y="285.19" font-size="8.11" fill="#3a3a3a" stroke="#3a3a3a" stroke-width="0.06" text-anchor="end" textLength="20.3" lengthAdjust="spacingAndGlyphs" font-family='"Liberation Sans", sans-serif'>0.200</text>
<text x="101.1" y="454.28" font-size="8.09" fill="#333" stroke="#333" stroke-width="0.06" text-anchor="middle" textLength="4.5" lengthAdjust="spacingAndGlyphs" font-family='"Liberation Sans", sans-serif'>0</text>
<text x="143.6" y="454.28" font-size="8.09" fill="#333" stroke="#333" stroke-width="0.06" text-anchor="middle" textLength="9" lengthAdjust="spacingAndGlyphs" font-family='"Liberation Sans", sans-serif'>10</text>
<text x="186.1" y="454.28" font-size="8.09" fill="#333" stroke="#333" stroke-width="0.06" text-anchor="middle" textLength="9" lengthAdjust="spacingAndGlyphs" font-family='"Liberation Sans", sans-serif'>20</text>
<text x="228.6" y="454.28" font-size="8.09" fill="#333" stroke="#333" stroke-width="0.06" text-anchor="middle" textLength="9" lengthAdjust="spacingAndGlyphs" font-family='"Liberation Sans", sans-serif'>30</text>
<text x="161.7" y="466.51" font-size="8.74" fill="#333" stroke="#333" stroke-width="0.06" text-anchor="middle" textLength="15.6" lengthAdjust="spacingAndGlyphs" font-family='"Liberation Sans", sans-serif'>τ [1]</text>
<g transform="translate(57.1,355.4) rotate(-90)"><text x="0" y="2.51" font-size="7.3" fill="#333" stroke="#333" stroke-width="0.06" text-anchor="middle" textLength="14.6" lengthAdjust="spacingAndGlyphs" font-family='"Liberation Sans", sans-serif'>PDF</text></g>
<path d="M131.5 440H133.3V441.6H131.5zM133.3 430.4H134.7V441.6H133.3zM134.7 425H135.9V441.6H134.7zM135.9 404H137.7V441.6H135.9zM137.7 384.6H139.4V441.6H137.7zM139.4 377.6H141.2V441.6H139.4zM141.2 374H143.0V441.6H141.2zM143.0 352H144.6V441.6H143.0zM144.6 336H146.0V441.6H144.6zM146.0 330H148.3V441.6H146.0zM148.3 306.5H150.9V441.6H148.3zM150.9 314H152.2V441.6H150.9zM152.2 318H153.6V441.6H152.2zM153.6 323H154.9V441.6H153.6zM154.9 333H156.5V441.6H154.9zM156.5 336H158.2V441.6H156.5zM158.2 358H159.8V441.6H158.2zM159.8 333H162.3V441.6H159.8zM162.3 340H164.0V441.6H162.3zM164.0 384H165.6V441.6H164.0zM165.6 408H168.0V441.6H165.6zM168.0 378H170.7V441.6H168.0zM170.7 400H172.5V441.6H170.7zM172.5 407H176.6V441.6H172.5zM176.6 424H178.5V441.6H176.6zM178.5 438.8H180.3V441.6H178.5zM180.3 430.4H184.1V441.6H180.3zM184.1 434H187.8V441.6H184.1zM187.8 438.8H189.7V441.6H187.8z" fill="#4C72B0" fill-opacity="0.55"/>
<path d="M144.79999999999998 323.4H145.8V336H144.79999999999998zM152.39999999999998 291.3H153.4V318H152.39999999999998zM158.39999999999998 344.6H159.60000000000002V358H158.39999999999998zM164.2 362H165.4V384H164.2zM165.79999999999998 369H167.8V408H165.79999999999998zM178.7 429.5H180.10000000000002V438.8H178.7z" fill="#4C72B0" fill-opacity="0.28"/>
<polyline points="122.35,441.60 122.56,441.60 122.77,441.60 122.99,441.60 123.20,441.60 123.41,441.60 123.62,441.60 123.84,441.60 124.05,441.60 124.26,441.60 124.47,441.60 124.69,441.60 124.90,441.60 125.11,441.60 125.32,441.60 125.54,441.60 125.75,441.60 125.96,441.56 126.17,441.47 126.39,441.37 126.60,441.26 126.81,441.14 127.02,441.01 127.24,440.87 127.45,440.72 127.66,440.56 127.88,440.39 128.09,440.20 128.30,440.00 128.51,439.78 128.72,439.55 128.94,439.30 129.15,439.03 129.36,438.75 129.57,438.45 129.79,438.12 130.00,437.78 130.21,437.42 130.43,437.03 130.64,436.63 130.85,436.20 131.06,435.74 131.27,435.26 131.49,434.76 131.70,434.23 131.91,433.67 132.12,433.08 132.34,432.47 132.55,431.82 132.76,431.15 132.97,430.44 133.19,429.71 133.40,428.94 133.61,428.15 133.82,427.32 134.04,426.46 134.25,425.56 134.46,424.63 134.68,423.67 134.89,422.68 135.10,421.65 135.31,420.59 135.52,419.49 135.74,418.36 135.95,417.20 136.16,416.01 136.38,414.78 136.59,413.52 136.80,412.23 137.01,410.90 137.22,409.55 137.44,408.16 137.65,406.75 137.86,405.30 138.07,403.83 138.29,402.33 138.50,400.81 138.71,399.25 138.93,397.68 139.14,396.08 139.35,394.46 139.56,392.82 139.78,391.16 139.99,389.48 140.20,387.78 140.41,386.07 140.62,384.34 140.84,382.61 141.05,380.86 141.26,379.10 141.47,377.34 141.69,375.57 141.90,373.80 142.11,372.02 142.32,370.24 142.54,368.47 142.75,366.70 142.96,364.93 143.18,363.17 143.39,361.42 143.60,359.68 143.81,357.95 144.03,356.24 144.24,354.54 144.45,352.86 144.66,351.20 144.88,349.55 145.09,347.94 145.30,346.34 145.51,344.78 145.72,343.24 145.94,341.73 146.15,340.25 146.36,338.80 146.57,337.39 146.79,336.01 147.00,334.67 147.21,333.37 147.43,332.10 147.64,330.88 147.85,329.70 148.06,328.56 148.28,327.47 148.49,326.42 148.70,325.41 148.91,324.45 149.12,323.54 149.34,322.68 149.55,321.87 149.76,321.10 149.97,320.39 150.19,319.73 150.40,319.11 150.61,318.55 150.82,318.04 151.04,317.58 151.25,317.17 151.46,316.81 151.68,316.51 151.89,316.26 152.10,316.06 152.31,315.91 152.53,315.81 152.74,315.76 152.95,315.76 153.16,315.81 153.38,315.91 153.59,316.06 153.80,316.26 154.01,316.51 154.22,316.80 154.44,317.14 154.65,317.53 154.86,317.96 155.07,318.43 155.29,318.95 155.50,319.51 155.71,320.11 155.93,320.76 156.14,321.44 156.35,322.16 156.56,322.91 156.77,323.71 156.99,324.54 157.20,325.40 157.41,326.29 157.62,327.22 157.84,328.18 158.05,329.16 158.26,330.18 158.47,331.22 158.69,332.29 158.90,333.38 159.11,334.49 159.32,335.63 159.54,336.79 159.75,337.97 159.96,339.17 160.18,340.38 160.39,341.61 160.60,342.86 160.81,344.12 161.02,345.40 161.24,346.68 161.45,347.98 161.66,349.28 161.88,350.60 162.09,351.92 162.30,353.25 162.51,354.58 162.72,355.92 162.94,357.26 163.15,358.60 163.36,359.95 163.57,361.29 163.79,362.64 164.00,363.98 164.21,365.33 164.43,366.67 164.64,368.00 164.85,369.33 165.06,370.66 165.28,371.98 165.49,373.29 165.70,374.60 165.91,375.90 166.12,377.19 166.34,378.47 166.55,379.75 166.76,381.01 166.97,382.26 167.19,383.50 167.40,384.73 167.61,385.95 167.82,387.15 168.04,388.34 168.25,389.52 168.46,390.68 168.68,391.84 168.89,392.97 169.10,394.10 169.31,395.20 169.53,396.30 169.74,397.37 169.95,398.44 170.16,399.48 170.38,400.52 170.59,401.53 170.80,402.53 171.01,403.51 171.22,404.48 171.44,405.43 171.65,406.37 171.86,407.29 172.07,408.19 172.29,409.08 172.50,409.95 172.71,410.80 172.92,411.64 173.14,412.47 173.35,413.27 173.56,414.06 173.78,414.84 173.99,415.60 174.20,416.34 174.41,417.07 174.62,417.78 174.84,418.47 175.05,419.16 175.26,419.82 175.47,420.47 175.69,421.11 175.90,421.73 176.11,422.34 176.32,422.94 176.54,423.51 176.75,424.08 176.96,424.63 177.17,425.17 177.39,425.70 177.60,426.21 177.81,426.71 178.03,427.20 178.24,427.67 178.45,428.13 178.66,428.58 178.88,429.02 179.09,429.45 179.30,429.86 179.51,430.27 179.72,430.66 179.94,431.04 180.15,431.41 180.36,431.77 180.57,432.13 180.79,432.47 181.00,432.80 181.21,433.12 181.42,433.43 181.64,433.74 181.85,434.03 182.06,434.32 182.28,434.59 182.49,434.86 182.70,435.12 182.91,435.38 183.12,435.62 183.34,435.86 183.55,436.09 183.76,436.31 183.97,436.53 184.19,436.74 184.40,436.94 184.61,437.14 184.82,437.33 185.04,437.51 185.25,437.69 185.46,437.86 185.67,438.03 185.89,438.19 186.10,438.35 186.31,438.50 186.53,438.64 186.74,438.78 186.95,438.92 187.16,439.05 187.38,439.18 187.59,439.30 187.80,439.42 188.01,439.53 188.22,439.64 188.44,439.75 188.65,439.85 188.86,439.95 189.07,440.05 189.29,440.14 189.50,440.23 189.71,440.31 189.92,440.39 190.14,440.47 190.35,440.55 190.56,440.62 190.78,440.69 190.99,440.76 191.20,440.83 191.41,440.89 191.62,440.95 191.84,441.01 192.05,441.07 192.26,441.12 192.47,441.17 192.69,441.23 192.90,441.27 193.11,441.32 193.32,441.36 193.54,441.41 193.75,441.45 193.96,441.49 194.18,441.53 194.39,441.56 194.60,441.60 194.81,441.60 195.03,441.60 195.24,441.60 195.45,441.60 195.66,441.60 195.88,441.60 196.09,441.60 196.30,441.60 196.51,441.60 196.72,441.60 196.94,441.60 197.15,441.60 197.36,441.60 197.57,441.60 197.79,441.60 198.00,441.60 198.21,441.60 198.43,441.60 198.64,441.60 198.85,441.60 199.06,441.60 199.28,441.60 199.49,441.60 199.70,441.60 199.91,441.60 200.12,441.60 200.34,441.60 200.55,441.60 200.76,441.60 200.97,441.60 201.19,441.60 201.40,441.60 201.61,441.60 201.82,441.60 202.04,441.60 202.25,441.60 202.46,441.60 202.68,441.60 202.89,441.60 203.10,441.60 203.31,441.60 203.53,441.60 203.74,441.60 203.95,441.60 204.16,441.60 204.38,441.60 204.59,441.60 204.80,441.60 205.01,441.60 205.22,441.60 205.44,441.60 205.65,441.60 205.86,441.60 206.07,441.60 206.29,441.60 206.50,441.60 206.71,441.60 206.93,441.60 207.14,441.60" fill="none" stroke="#C44E52" stroke-width="1.2"/>
<rect x="144.3" y="271" width="79.2" height="19.8" rx="1.5" fill="#EAEAF2" stroke="#dadae2" stroke-width="0.6"/>
<line x1="145.8" y1="276.5" x2="159.7" y2="276.5" stroke="#C44E52" stroke-width="1.2" />
<rect x="147.2" y="285.5" width="11.8" height="3.1" fill="#4C72B0" fill-opacity="0.55"/>
<text x="165.2" y="278.52" font-size="7.33" fill="#333" stroke="#333" stroke-width="0.06" text-anchor="start" textLength="56" lengthAdjust="spacingAndGlyphs" font-family='"Liberation Sans", sans-serif'>Barker et al. ('96)</text>
<text x="165.2" y="289.13" font-size="7.35" fill="#333" stroke="#333" stroke-width="0.06" text-anchor="start" textLength="56.8" lengthAdjust="spacingAndGlyphs" font-family='"Liberation Sans", sans-serif'>histogram of data</text>
<rect x="334.2" y="30.0" width="154" height="390.6" fill="#EAEAF2"/>
<line x1="355.5" y1="30" x2="355.5" y2="420.6" stroke="#ffffff" stroke-width="0.9" />
<line x1="399.75" y1="30" x2="399.75" y2="420.6" stroke="#ffffff" stroke-width="0.9" />
<line x1="444" y1="30" x2="444" y2="420.6" stroke="#ffffff" stroke-width="0.9" />
<line x1="355.5" y1="25.2" x2="355.5" y2="28.8" stroke="#D9691F" stroke-width="0.9" />
<text x="355.5" y="20.89" font-size="8.39" fill="#D9691F" stroke="#D9691F" stroke-width="0.06" text-anchor="middle" textLength="14" lengthAdjust="spacingAndGlyphs" font-family='"Liberation Sans", sans-serif'>240</text>
<line x1="399.75" y1="25.2" x2="399.75" y2="28.8" stroke="#D9691F" stroke-width="0.9" />
<text x="399.75" y="20.89" font-size="8.39" fill="#D9691F" stroke="#D9691F" stroke-width="0.06" text-anchor="middle" textLength="14" lengthAdjust="spacingAndGlyphs" font-family='"Liberation Sans", sans-serif'>260</text>
<line x1="444" y1="25.2" x2="444" y2="28.8" stroke="#D9691F" stroke-width="0.9" />
<text x="444" y="20.89" font-size="8.39" fill="#D9691F" stroke="#D9691F" stroke-width="0.06" text-anchor="middle" textLength="14" lengthAdjust="spacingAndGlyphs" font-family='"Liberation Sans", sans-serif'>280</text>
<line x1="488.25" y1="25.2" x2="488.25" y2="28.8" stroke="#D9691F" stroke-width="0.9" />
<text x="488.25" y="20.89" font-size="8.39" fill="#D9691F" stroke="#D9691F" stroke-width="0.06" text-anchor="middle" textLength="14" lengthAdjust="spacingAndGlyphs" font-family='"Liberation Sans", sans-serif'>300</text>
<text x="410.8" y="11.66" font-size="8.9" fill="#D9691F" stroke="#D9691F" stroke-width="0.06" text-anchor="middle" textLength="35.3" lengthAdjust="spacingAndGlyphs" font-family='"Liberation Sans", sans-serif'>Temp [K]</text>
<line x1="330" y1="29.8" x2="333.6" y2="29.8" stroke="#333" stroke-width="0.9" />
<line x1="330" y1="286.8" x2="333.6" y2="286.8" stroke="#333" stroke-width="0.9" />
<line x1="331.4" y1="209.44" x2="333.4" y2="209.44" stroke="#333" stroke-width="0.7" />
<line x1="331.4" y1="164.18" x2="333.4" y2="164.18" stroke="#333" stroke-width="0.7" />
<line x1="331.4" y1="132.07" x2="333.4" y2="132.07" stroke="#333" stroke-width="0.7" />
<line x1="331.4" y1="107.16" x2="333.4" y2="107.16" stroke="#333" stroke-width="0.7" />
<line x1="331.4" y1="86.82" x2="333.4" y2="86.82" stroke="#333" stroke-width="0.7" />
<line x1="331.4" y1="69.61" x2="333.4" y2="69.61" stroke="#333" stroke-width="0.7" />
<line x1="331.4" y1="54.71" x2="333.4" y2="54.71" stroke="#333" stroke-width="0.7" />
<line x1="331.4" y1="41.56" x2="333.4" y2="41.56" stroke="#333" stroke-width="0.7" />
<line x1="331.4" y1="421.18" x2="333.4" y2="421.18" stroke="#333" stroke-width="0.7" />
<line x1="331.4" y1="389.07" x2="333.4" y2="389.07" stroke="#333" stroke-width="0.7" />
<line x1="331.4" y1="364.16" x2="333.4" y2="364.16" stroke="#333" stroke-width="0.7" />
<line x1="331.4" y1="343.82" x2="333.4" y2="343.82" stroke="#333" stroke-width="0.7" />
<line x1="331.4" y1="326.61" x2="333.4" y2="326.61" stroke="#333" stroke-width="0.7" />
<line x1="331.4" y1="311.71" x2="333.4" y2="311.71" stroke="#333" stroke-width="0.7" />
<line x1="331.4" y1="298.56" x2="333.4" y2="298.56" stroke="#333" stroke-width="0.7" />
<text x="314.6" y="33.09" font-size="8.4" fill="#333" stroke="#333" stroke-width="0.12" text-anchor="start" textLength="8.4" lengthAdjust="spacingAndGlyphs" font-family='"Liberation Serif", serif'>10</text>
<text x="323.2" y="28.32" font-size="5" fill="#333" stroke="#333" stroke-width="0.05" text-anchor="start" textLength="3.2" lengthAdjust="spacingAndGlyphs" font-family='"Liberation Serif", serif'>4</text>
<text x="314.6" y="289.89" font-size="8.4" fill="#333" stroke="#333" stroke-width="0.12" text-anchor="start" textLength="8.4" lengthAdjust="spacingAndGlyphs" font-family='"Liberation Serif", serif'>10</text>
<text x="323.2" y="285.12" font-size="5" fill="#333" stroke="#333" stroke-width="0.05" text-anchor="start" textLength="3.2" lengthAdjust="spacingAndGlyphs" font-family='"Liberation Serif", serif'>3</text>
<g transform="translate(306.7,225.3) rotate(-90)"><text x="0" y="3.06" font-size="8.9" fill="#333" stroke="#333" stroke-width="0.06" text-anchor="middle" textLength="69.8" lengthAdjust="spacingAndGlyphs" font-family='"Liberation Sans", sans-serif'>Height a. NN [m]</text></g>
<line x1="340.6" y1="422" x2="340.6" y2="425.4" stroke="#1F77B4" stroke-width="0.9" />
<text x="340.6" y="434.89" font-size="8.39" fill="#1F77B4" stroke="#1F77B4" stroke-width="0.06" text-anchor="middle" textLength="21" lengthAdjust="spacingAndGlyphs" font-family='"Liberation Sans", sans-serif'>0.000</text>
<line x1="369" y1="422" x2="369" y2="425.4" stroke="#1F77B4" stroke-width="0.9" />
<text x="369" y="434.89" font-size="8.39" fill="#1F77B4" stroke="#1F77B4" stroke-width="0.06" text-anchor="middle" textLength="21" lengthAdjust="spacingAndGlyphs" font-family='"Liberation Sans", sans-serif'>0.002</text>
<line x1="397.4" y1="422" x2="397.4" y2="425.4" stroke="#1F77B4" stroke-width="0.9" />
<text x="397.4" y="434.89" font-size="8.39" fill="#1F77B4" stroke="#1F77B4" stroke-width="0.06" text-anchor="middle" textLength="21" lengthAdjust="spacingAndGlyphs" font-family='"Liberation Sans", sans-serif'>0.004</text>
<line x1="425.8" y1="422" x2="425.8" y2="425.4" stroke="#1F77B4" stroke-width="0.9" />
<text x="425.8" y="434.89" font-size="8.39" fill="#1F77B4" stroke="#1F77B4" stroke-width="0.06" text-anchor="middle" textLength="21" lengthAdjust="spacingAndGlyphs" font-family='"Liberation Sans", sans-serif'>0.006</text>
<line x1="454.2" y1="422" x2="454.2" y2="425.4" stroke="#1F77B4" stroke-width="0.9" />
<text x="454.2" y="434.89" font-size="8.39" fill="#1F77B4" stroke="#1F77B4" stroke-width="0.06" text-anchor="middle" textLength="21" lengthAdjust="spacingAndGlyphs" font-family='"Liberation Sans", sans-serif'>0.008</text>
<line x1="482.6" y1="422" x2="482.6" y2="425.4" stroke="#1F77B4" stroke-width="0.9" />
<text x="482.6" y="434.89" font-size="8.39" fill="#1F77B4" stroke="#1F77B4" stroke-width="0.06" text-anchor="middle" textLength="21" lengthAdjust="spacingAndGlyphs" font-family='"Liberation Sans", sans-serif'>0.010</text>
<text x="411" y="446.06" font-size="8.9" fill="#1F77B4" stroke="#1F77B4" stroke-width="0.06" text-anchor="middle" textLength="52.4" lengthAdjust="spacingAndGlyphs" font-family='"Liberation Sans", sans-serif'>H2O mr [g/g]</text>
<line x1="339.4" y1="454" x2="339.4" y2="457.2" stroke="#D46FCF" stroke-width="0.9" />
<text x="339.4" y="466.2" font-size="7.55" fill="#D46FCF" stroke="#D46FCF" stroke-width="0.06" text-anchor="middle" textLength="4.2" lengthAdjust="spacingAndGlyphs" font-family='"Liberation Sans", sans-serif'>0</text>
<line x1="368.2" y1="454" x2="368.2" y2="457.2" stroke="#D46FCF" stroke-width="0.9" />
<text x="368.2" y="466.2" font-size="7.55" fill="#D46FCF" stroke="#D46FCF" stroke-width="0.06" text-anchor="middle" textLength="8.4" lengthAdjust="spacingAndGlyphs" font-family='"Liberation Sans", sans-serif'>20</text>
<line x1="397" y1="454" x2="397" y2="457.2" stroke="#D46FCF" stroke-width="0.9" />
<text x="397" y="466.2" font-size="7.55" fill="#D46FCF" stroke="#D46FCF" stroke-width="0.06" text-anchor="middle" textLength="8.4" lengthAdjust="spacingAndGlyphs" font-family='"Liberation Sans", sans-serif'>40</text>
<line x1="425.8" y1="454" x2="425.8" y2="457.2" stroke="#D46FCF" stroke-width="0.9" />
<text x="425.8" y="466.2" font-size="7.55" fill="#D46FCF" stroke="#D46FCF" stroke-width="0.06" text-anchor="middle" textLength="8.4" lengthAdjust="spacingAndGlyphs" font-family='"Liberation Sans", sans-serif'>60</text>
<line x1="454.6" y1="454" x2="454.6" y2="457.2" stroke="#D46FCF" stroke-width="0.9" />
<text x="454.6" y="466.2" font-size="7.55" fill="#D46FCF" stroke="#D46FCF" stroke-width="0.06" text-anchor="middle" textLength="8.4" lengthAdjust="spacingAndGlyphs" font-family='"Liberation Sans", sans-serif'>80</text>
<line x1="483.4" y1="454" x2="483.4" y2="457.2" stroke="#D46FCF" stroke-width="0.9" />
<text x="483.4" y="466.2" font-size="7.55" fill="#D46FCF" stroke="#D46FCF" stroke-width="0.06" text-anchor="middle" textLength="12.6" lengthAdjust="spacingAndGlyphs" font-family='"Liberation Sans", sans-serif'>100</text>
<text x="410.6" y="477.57" font-size="7.48" fill="#D46FCF" stroke="#D46FCF" stroke-width="0.06" text-anchor="middle" textLength="10.8" lengthAdjust="spacingAndGlyphs" font-family='"Liberation Sans", sans-serif'>RH</text>
<line x1="334.2" y1="254.3" x2="488.2" y2="254.3" stroke="#1a1a1a" stroke-width="1.25" stroke-dasharray="3.5,1.8"/>
<line x1="334.2" y1="285.2" x2="488.2" y2="285.2" stroke="#1a1a1a" stroke-width="1.25" stroke-dasharray="3.5,1.8"/>
<line x1="334.2" y1="317.4" x2="488.2" y2="317.4" stroke="#1a1a1a" stroke-width="1.25" stroke-dasharray="3.5,1.8"/>
<line x1="334.2" y1="380.1" x2="488.2" y2="380.1" stroke="#444" stroke-width="1.4" />
<text x="382.7" y="250.52" font-size="8.77" fill="#333" stroke="#333" stroke-width="0.06" text-anchor="start" textLength="85.1" lengthAdjust="spacingAndGlyphs" font-family='"Liberation Sans", sans-serif'>p95 cloud-top=1341m</text>
<text x="368.4" y="280.51" font-size="8.76" fill="#333" stroke="#333" stroke-width="0.06" text-anchor="start" textLength="87.4" lengthAdjust="spacingAndGlyphs" font-family='"Liberation Sans", sans-serif'>med cloud-top=1016m</text>
<text x="368.4" y="315.08" font-size="8.66" fill="#333" stroke="#333" stroke-width="0.06" text-anchor="start" textLength="69.1" lengthAdjust="spacingAndGlyphs" font-family='"Liberation Sans", sans-serif'>cloud-base=761m</text>
<text x="368.4" y="375.34" font-size="8.83" fill="#333" stroke="#333" stroke-width="0.06" text-anchor="start" textLength="56.2" lengthAdjust="spacingAndGlyphs" font-family='"Liberation Sans", sans-serif'>surface=436m</text>
<polyline points="343.6,30 340.8,52.3 344.3,68.3 342,84 340.8,104.7 342.2,128 382.7,141.9 365,179.7 351.5,237 352.4,252.5 355,255.5 440,264.2 479,268 481.2,270 481.4,310.4 463.3,380.1" fill="none" stroke="#D46FCF" stroke-width="1" stroke-linejoin="round" />
<polyline points="340.8,30 342,52.3 343.1,77.4 342.7,128 375.8,141 378.3,156.5 378.3,201.4 365,237 366,252.5 368.5,254.8 440,260.3 454,263 461,268 468.8,290 473.5,307 474.6,361.4 480.7,380.1" fill="none" stroke="#1F77B4" stroke-width="1.15" stroke-linejoin="round" />
<polyline points="353.8,30 370.4,38.7 380.7,47.8 383,51.2 385.3,58 388.7,62.6 393.7,68.3 411.6,84.6 425.2,99.9 435.4,115.2 439.5,128.2 440.9,142.5 450,157 460.5,174 467,188 472.3,203.4 476.5,220 479,236.8 478.6,257.7 472.9,261.1 452.4,266.2 450.7,272 453.1,290 455.8,317.2 463.3,380.1" fill="none" stroke="#D9691F" stroke-width="1.2" stroke-linejoin="round" />
<text x="5" y="139.2" font-size="16" fill="#000" stroke="#000" stroke-width="0.25" text-anchor="start" font-family='"Liberation Serif", serif'>a)</text>
<text x="5" y="351.5" font-size="16" fill="#000" stroke="#000" stroke-width="0.25" text-anchor="start" font-family='"Liberation Serif", serif'>b)</text>
<text x="282.2" y="351.3" font-size="16" fill="#000" stroke="#000" stroke-width="0.25" text-anchor="start" font-family='"Liberation Serif", serif'>c)</text>
</svg></body></html>
